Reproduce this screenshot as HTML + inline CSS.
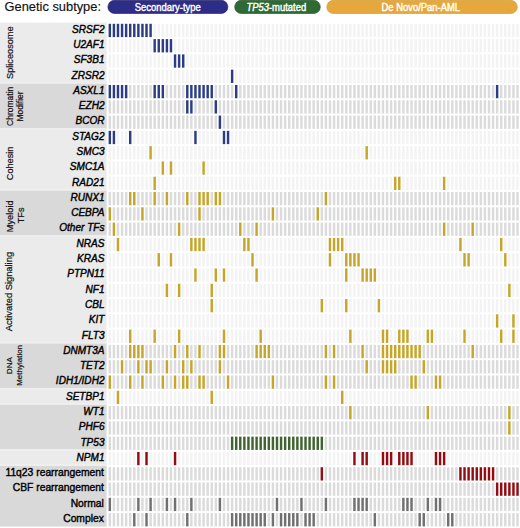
<!DOCTYPE html>
<html><head><meta charset="utf-8"><title>Genetic subtype oncoprint</title>
<style>
html,body{margin:0;padding:0;background:#fff;}
body{width:520px;height:528px;overflow:hidden;}
svg{display:block;font-family:"Liberation Sans",sans-serif;}
.l{fill:#f3f3f3}.d{fill:#dbdbdb}.b{fill:#2c3d85}.y{fill:#c5a52a}.gr{fill:#3f6430}.r{fill:#940c11}.k{fill:#707070}
.g{font-size:10.6px;font-style:italic;fill:#000;stroke:#000;stroke-width:0.42px;}
.n{font-size:10.6px;fill:#000;stroke:#000;stroke-width:0.4px;}
.grp{font-size:9.2px;fill:#111;stroke:#111;stroke-width:0.2px;}
</style></head><body>
<svg width="520" height="528" viewBox="0 0 520 528">
<rect x="0" y="22.6" width="106.6" height="60.57" fill="#ebebeb"/>
<rect x="0" y="83.17" width="106.6" height="45.87" fill="#d9d9d9"/>
<rect x="0" y="129.04" width="106.6" height="61.16" fill="#ebebeb"/>
<rect x="0" y="190.2" width="106.6" height="45.87" fill="#d9d9d9"/>
<rect x="0" y="236.07" width="106.6" height="107.03" fill="#ebebeb"/>
<rect x="0" y="343.1" width="106.6" height="45.87" fill="#d9d9d9"/>
<rect x="0" y="388.97" width="106.6" height="15.29" fill="#ebebeb"/>
<rect x="0" y="404.26" width="106.6" height="45.87" fill="#d9d9d9"/>
<rect x="0" y="450.13" width="106.6" height="15.29" fill="#ebebeb"/>
<rect x="0" y="465.42" width="106.6" height="61.16" fill="#d9d9d9"/>
<rect x="0" y="82.27" width="106.6" height="1.3" fill="#f1f1f1"/>
<rect x="0" y="128.14" width="106.6" height="1.3" fill="#f1f1f1"/>
<rect x="0" y="189.3" width="106.6" height="1.3" fill="#f1f1f1"/>
<rect x="0" y="235.17" width="106.6" height="1.3" fill="#f1f1f1"/>
<rect x="0" y="342.2" width="106.6" height="1.3" fill="#f1f1f1"/>
<rect x="0" y="388.07" width="106.6" height="1.3" fill="#f1f1f1"/>
<rect x="0" y="403.36" width="106.6" height="1.3" fill="#f1f1f1"/>
<rect x="0" y="449.23" width="106.6" height="1.3" fill="#f1f1f1"/>
<rect x="0" y="464.52" width="106.6" height="1.3" fill="#f1f1f1"/>
<text x="4.6" y="10.6" style="font-size:12.85px;fill:#111;stroke:#111;stroke-width:0.15px">Genetic subtype:</text>
<rect x="107.9" y="0.3" width="120" height="13.2" rx="6.6" ry="6.6" fill="#2d2d88" stroke="#1e1e62" stroke-width="0.6"/>
<rect x="234.7" y="0.3" width="85.6" height="13.2" rx="6.6" ry="6.6" fill="#2f6a35" stroke="#1f4a24" stroke-width="0.6"/>
<rect x="326.8" y="0.3" width="190.5" height="13.2" rx="6.6" ry="6.6" fill="#e6a83c" stroke="#cf9530" stroke-width="0.6"/>
<text transform="translate(167.75,10.55) scale(0.925,1)" text-anchor="middle" style="font-size:10.2px;fill:#fff;stroke:#fff;stroke-width:0.4px">Secondary-type</text>
<text transform="translate(276.3,10.55) scale(0.925,1)" text-anchor="middle" style="font-size:10.2px;fill:#fff;stroke:#fff;stroke-width:0.4px"><tspan style="font-style:italic">TP53</tspan>-mutated</text>
<text transform="translate(420.8,10.55) scale(0.925,1)" text-anchor="middle" style="font-size:10.2px;fill:#fff;stroke:#fff;stroke-width:0.4px">De Novo/Pan-AML</text>
<g transform="translate(0,23.8)"><rect x="108.6" width="2.45" height="13.3" class="b"/><rect x="112.68" width="2.45" height="13.3" class="b"/><rect x="116.75" width="2.45" height="13.3" class="b"/><rect x="120.83" width="2.45" height="13.3" class="b"/><rect x="124.91" width="2.45" height="13.3" class="b"/><rect x="128.98" width="2.45" height="13.3" class="b"/><rect x="133.06" width="2.45" height="13.3" class="b"/><rect x="137.14" width="2.45" height="13.3" class="b"/><rect x="141.22" width="2.45" height="13.3" class="b"/><rect x="145.29" width="2.45" height="13.3" class="b"/><rect x="149.37" width="2.45" height="13.3" class="b"/><rect x="153.45" width="2.45" height="13.3" class="l"/><rect x="157.52" width="2.45" height="13.3" class="l"/><rect x="161.6" width="2.45" height="13.3" class="l"/><rect x="165.68" width="2.45" height="13.3" class="l"/><rect x="169.75" width="2.45" height="13.3" class="l"/><rect x="173.83" width="2.45" height="13.3" class="l"/><rect x="177.91" width="2.45" height="13.3" class="l"/><rect x="181.99" width="2.45" height="13.3" class="l"/><rect x="186.06" width="2.45" height="13.3" class="l"/><rect x="190.14" width="2.45" height="13.3" class="l"/><rect x="194.22" width="2.45" height="13.3" class="l"/><rect x="198.29" width="2.45" height="13.3" class="l"/><rect x="202.37" width="2.45" height="13.3" class="l"/><rect x="206.45" width="2.45" height="13.3" class="l"/><rect x="210.52" width="2.45" height="13.3" class="l"/><rect x="214.6" width="2.45" height="13.3" class="l"/><rect x="218.68" width="2.45" height="13.3" class="l"/><rect x="222.76" width="2.45" height="13.3" class="l"/><rect x="226.83" width="2.45" height="13.3" class="l"/><rect x="230.91" width="2.45" height="13.3" class="l"/><rect x="234.99" width="2.45" height="13.3" class="l"/><rect x="239.06" width="2.45" height="13.3" class="l"/><rect x="243.14" width="2.45" height="13.3" class="l"/><rect x="247.22" width="2.45" height="13.3" class="l"/><rect x="251.29" width="2.45" height="13.3" class="l"/><rect x="255.37" width="2.45" height="13.3" class="l"/><rect x="259.45" width="2.45" height="13.3" class="l"/><rect x="263.53" width="2.45" height="13.3" class="l"/><rect x="267.6" width="2.45" height="13.3" class="l"/><rect x="271.68" width="2.45" height="13.3" class="l"/><rect x="275.76" width="2.45" height="13.3" class="l"/><rect x="279.83" width="2.45" height="13.3" class="l"/><rect x="283.91" width="2.45" height="13.3" class="l"/><rect x="287.99" width="2.45" height="13.3" class="l"/><rect x="292.06" width="2.45" height="13.3" class="l"/><rect x="296.14" width="2.45" height="13.3" class="l"/><rect x="300.22" width="2.45" height="13.3" class="l"/><rect x="304.3" width="2.45" height="13.3" class="l"/><rect x="308.37" width="2.45" height="13.3" class="l"/><rect x="312.45" width="2.45" height="13.3" class="l"/><rect x="316.53" width="2.45" height="13.3" class="l"/><rect x="320.6" width="2.45" height="13.3" class="l"/><rect x="324.68" width="2.45" height="13.3" class="l"/><rect x="328.76" width="2.45" height="13.3" class="l"/><rect x="332.83" width="2.45" height="13.3" class="l"/><rect x="336.91" width="2.45" height="13.3" class="l"/><rect x="340.99" width="2.45" height="13.3" class="l"/><rect x="345.07" width="2.45" height="13.3" class="l"/><rect x="349.14" width="2.45" height="13.3" class="l"/><rect x="353.22" width="2.45" height="13.3" class="l"/><rect x="357.3" width="2.45" height="13.3" class="l"/><rect x="361.37" width="2.45" height="13.3" class="l"/><rect x="365.45" width="2.45" height="13.3" class="l"/><rect x="369.53" width="2.45" height="13.3" class="l"/><rect x="373.61" width="2.45" height="13.3" class="l"/><rect x="377.68" width="2.45" height="13.3" class="l"/><rect x="381.76" width="2.45" height="13.3" class="l"/><rect x="385.84" width="2.45" height="13.3" class="l"/><rect x="389.91" width="2.45" height="13.3" class="l"/><rect x="393.99" width="2.45" height="13.3" class="l"/><rect x="398.07" width="2.45" height="13.3" class="l"/><rect x="402.14" width="2.45" height="13.3" class="l"/><rect x="406.22" width="2.45" height="13.3" class="l"/><rect x="410.3" width="2.45" height="13.3" class="l"/><rect x="414.38" width="2.45" height="13.3" class="l"/><rect x="418.45" width="2.45" height="13.3" class="l"/><rect x="422.53" width="2.45" height="13.3" class="l"/><rect x="426.61" width="2.45" height="13.3" class="l"/><rect x="430.68" width="2.45" height="13.3" class="l"/><rect x="434.76" width="2.45" height="13.3" class="l"/><rect x="438.84" width="2.45" height="13.3" class="l"/><rect x="442.91" width="2.45" height="13.3" class="l"/><rect x="446.99" width="2.45" height="13.3" class="l"/><rect x="451.07" width="2.45" height="13.3" class="l"/><rect x="455.14" width="2.45" height="13.3" class="l"/><rect x="459.22" width="2.45" height="13.3" class="l"/><rect x="463.3" width="2.45" height="13.3" class="l"/><rect x="467.38" width="2.45" height="13.3" class="l"/><rect x="471.45" width="2.45" height="13.3" class="l"/><rect x="475.53" width="2.45" height="13.3" class="l"/><rect x="479.61" width="2.45" height="13.3" class="l"/><rect x="483.68" width="2.45" height="13.3" class="l"/><rect x="487.76" width="2.45" height="13.3" class="l"/><rect x="491.84" width="2.45" height="13.3" class="l"/><rect x="495.91" width="2.45" height="13.3" class="l"/><rect x="499.99" width="2.45" height="13.3" class="l"/><rect x="504.07" width="2.45" height="13.3" class="l"/><rect x="508.15" width="2.45" height="13.3" class="l"/><rect x="512.22" width="2.45" height="13.3" class="l"/><rect x="516.3" width="2.45" height="13.3" class="l"/></g>
<text class="g" transform="translate(104.5,32.7) scale(0.95,1)" text-anchor="end">SRSF2</text>
<g transform="translate(0,39.09)"><rect x="108.6" width="2.45" height="13.3" class="l"/><rect x="112.68" width="2.45" height="13.3" class="l"/><rect x="116.75" width="2.45" height="13.3" class="l"/><rect x="120.83" width="2.45" height="13.3" class="l"/><rect x="124.91" width="2.45" height="13.3" class="l"/><rect x="128.98" width="2.45" height="13.3" class="l"/><rect x="133.06" width="2.45" height="13.3" class="l"/><rect x="137.14" width="2.45" height="13.3" class="l"/><rect x="141.22" width="2.45" height="13.3" class="l"/><rect x="145.29" width="2.45" height="13.3" class="l"/><rect x="149.37" width="2.45" height="13.3" class="l"/><rect x="153.45" width="2.45" height="13.3" class="b"/><rect x="157.52" width="2.45" height="13.3" class="b"/><rect x="161.6" width="2.45" height="13.3" class="b"/><rect x="165.68" width="2.45" height="13.3" class="b"/><rect x="169.75" width="2.45" height="13.3" class="b"/><rect x="173.83" width="2.45" height="13.3" class="l"/><rect x="177.91" width="2.45" height="13.3" class="l"/><rect x="181.99" width="2.45" height="13.3" class="l"/><rect x="186.06" width="2.45" height="13.3" class="l"/><rect x="190.14" width="2.45" height="13.3" class="l"/><rect x="194.22" width="2.45" height="13.3" class="l"/><rect x="198.29" width="2.45" height="13.3" class="l"/><rect x="202.37" width="2.45" height="13.3" class="l"/><rect x="206.45" width="2.45" height="13.3" class="l"/><rect x="210.52" width="2.45" height="13.3" class="l"/><rect x="214.6" width="2.45" height="13.3" class="l"/><rect x="218.68" width="2.45" height="13.3" class="l"/><rect x="222.76" width="2.45" height="13.3" class="l"/><rect x="226.83" width="2.45" height="13.3" class="l"/><rect x="230.91" width="2.45" height="13.3" class="l"/><rect x="234.99" width="2.45" height="13.3" class="l"/><rect x="239.06" width="2.45" height="13.3" class="l"/><rect x="243.14" width="2.45" height="13.3" class="l"/><rect x="247.22" width="2.45" height="13.3" class="l"/><rect x="251.29" width="2.45" height="13.3" class="l"/><rect x="255.37" width="2.45" height="13.3" class="l"/><rect x="259.45" width="2.45" height="13.3" class="l"/><rect x="263.53" width="2.45" height="13.3" class="l"/><rect x="267.6" width="2.45" height="13.3" class="l"/><rect x="271.68" width="2.45" height="13.3" class="l"/><rect x="275.76" width="2.45" height="13.3" class="l"/><rect x="279.83" width="2.45" height="13.3" class="l"/><rect x="283.91" width="2.45" height="13.3" class="l"/><rect x="287.99" width="2.45" height="13.3" class="l"/><rect x="292.06" width="2.45" height="13.3" class="l"/><rect x="296.14" width="2.45" height="13.3" class="l"/><rect x="300.22" width="2.45" height="13.3" class="l"/><rect x="304.3" width="2.45" height="13.3" class="l"/><rect x="308.37" width="2.45" height="13.3" class="l"/><rect x="312.45" width="2.45" height="13.3" class="l"/><rect x="316.53" width="2.45" height="13.3" class="l"/><rect x="320.6" width="2.45" height="13.3" class="l"/><rect x="324.68" width="2.45" height="13.3" class="l"/><rect x="328.76" width="2.45" height="13.3" class="l"/><rect x="332.83" width="2.45" height="13.3" class="l"/><rect x="336.91" width="2.45" height="13.3" class="l"/><rect x="340.99" width="2.45" height="13.3" class="l"/><rect x="345.07" width="2.45" height="13.3" class="l"/><rect x="349.14" width="2.45" height="13.3" class="l"/><rect x="353.22" width="2.45" height="13.3" class="l"/><rect x="357.3" width="2.45" height="13.3" class="l"/><rect x="361.37" width="2.45" height="13.3" class="l"/><rect x="365.45" width="2.45" height="13.3" class="l"/><rect x="369.53" width="2.45" height="13.3" class="l"/><rect x="373.61" width="2.45" height="13.3" class="l"/><rect x="377.68" width="2.45" height="13.3" class="l"/><rect x="381.76" width="2.45" height="13.3" class="l"/><rect x="385.84" width="2.45" height="13.3" class="l"/><rect x="389.91" width="2.45" height="13.3" class="l"/><rect x="393.99" width="2.45" height="13.3" class="l"/><rect x="398.07" width="2.45" height="13.3" class="l"/><rect x="402.14" width="2.45" height="13.3" class="l"/><rect x="406.22" width="2.45" height="13.3" class="l"/><rect x="410.3" width="2.45" height="13.3" class="l"/><rect x="414.38" width="2.45" height="13.3" class="l"/><rect x="418.45" width="2.45" height="13.3" class="l"/><rect x="422.53" width="2.45" height="13.3" class="l"/><rect x="426.61" width="2.45" height="13.3" class="l"/><rect x="430.68" width="2.45" height="13.3" class="l"/><rect x="434.76" width="2.45" height="13.3" class="l"/><rect x="438.84" width="2.45" height="13.3" class="l"/><rect x="442.91" width="2.45" height="13.3" class="l"/><rect x="446.99" width="2.45" height="13.3" class="l"/><rect x="451.07" width="2.45" height="13.3" class="l"/><rect x="455.14" width="2.45" height="13.3" class="l"/><rect x="459.22" width="2.45" height="13.3" class="l"/><rect x="463.3" width="2.45" height="13.3" class="l"/><rect x="467.38" width="2.45" height="13.3" class="l"/><rect x="471.45" width="2.45" height="13.3" class="l"/><rect x="475.53" width="2.45" height="13.3" class="l"/><rect x="479.61" width="2.45" height="13.3" class="l"/><rect x="483.68" width="2.45" height="13.3" class="l"/><rect x="487.76" width="2.45" height="13.3" class="l"/><rect x="491.84" width="2.45" height="13.3" class="l"/><rect x="495.91" width="2.45" height="13.3" class="l"/><rect x="499.99" width="2.45" height="13.3" class="l"/><rect x="504.07" width="2.45" height="13.3" class="l"/><rect x="508.15" width="2.45" height="13.3" class="l"/><rect x="512.22" width="2.45" height="13.3" class="l"/><rect x="516.3" width="2.45" height="13.3" class="l"/></g>
<text class="g" transform="translate(104.5,47.99) scale(0.95,1)" text-anchor="end">U2AF1</text>
<g transform="translate(0,54.38)"><rect x="108.6" width="2.45" height="13.3" class="l"/><rect x="112.68" width="2.45" height="13.3" class="l"/><rect x="116.75" width="2.45" height="13.3" class="l"/><rect x="120.83" width="2.45" height="13.3" class="l"/><rect x="124.91" width="2.45" height="13.3" class="l"/><rect x="128.98" width="2.45" height="13.3" class="l"/><rect x="133.06" width="2.45" height="13.3" class="l"/><rect x="137.14" width="2.45" height="13.3" class="l"/><rect x="141.22" width="2.45" height="13.3" class="l"/><rect x="145.29" width="2.45" height="13.3" class="l"/><rect x="149.37" width="2.45" height="13.3" class="l"/><rect x="153.45" width="2.45" height="13.3" class="l"/><rect x="157.52" width="2.45" height="13.3" class="l"/><rect x="161.6" width="2.45" height="13.3" class="l"/><rect x="165.68" width="2.45" height="13.3" class="l"/><rect x="169.75" width="2.45" height="13.3" class="l"/><rect x="173.83" width="2.45" height="13.3" class="b"/><rect x="177.91" width="2.45" height="13.3" class="b"/><rect x="181.99" width="2.45" height="13.3" class="b"/><rect x="186.06" width="2.45" height="13.3" class="l"/><rect x="190.14" width="2.45" height="13.3" class="l"/><rect x="194.22" width="2.45" height="13.3" class="l"/><rect x="198.29" width="2.45" height="13.3" class="l"/><rect x="202.37" width="2.45" height="13.3" class="l"/><rect x="206.45" width="2.45" height="13.3" class="l"/><rect x="210.52" width="2.45" height="13.3" class="l"/><rect x="214.6" width="2.45" height="13.3" class="l"/><rect x="218.68" width="2.45" height="13.3" class="l"/><rect x="222.76" width="2.45" height="13.3" class="l"/><rect x="226.83" width="2.45" height="13.3" class="l"/><rect x="230.91" width="2.45" height="13.3" class="l"/><rect x="234.99" width="2.45" height="13.3" class="l"/><rect x="239.06" width="2.45" height="13.3" class="l"/><rect x="243.14" width="2.45" height="13.3" class="l"/><rect x="247.22" width="2.45" height="13.3" class="l"/><rect x="251.29" width="2.45" height="13.3" class="l"/><rect x="255.37" width="2.45" height="13.3" class="l"/><rect x="259.45" width="2.45" height="13.3" class="l"/><rect x="263.53" width="2.45" height="13.3" class="l"/><rect x="267.6" width="2.45" height="13.3" class="l"/><rect x="271.68" width="2.45" height="13.3" class="l"/><rect x="275.76" width="2.45" height="13.3" class="l"/><rect x="279.83" width="2.45" height="13.3" class="l"/><rect x="283.91" width="2.45" height="13.3" class="l"/><rect x="287.99" width="2.45" height="13.3" class="l"/><rect x="292.06" width="2.45" height="13.3" class="l"/><rect x="296.14" width="2.45" height="13.3" class="l"/><rect x="300.22" width="2.45" height="13.3" class="l"/><rect x="304.3" width="2.45" height="13.3" class="l"/><rect x="308.37" width="2.45" height="13.3" class="l"/><rect x="312.45" width="2.45" height="13.3" class="l"/><rect x="316.53" width="2.45" height="13.3" class="l"/><rect x="320.6" width="2.45" height="13.3" class="l"/><rect x="324.68" width="2.45" height="13.3" class="l"/><rect x="328.76" width="2.45" height="13.3" class="l"/><rect x="332.83" width="2.45" height="13.3" class="l"/><rect x="336.91" width="2.45" height="13.3" class="l"/><rect x="340.99" width="2.45" height="13.3" class="l"/><rect x="345.07" width="2.45" height="13.3" class="l"/><rect x="349.14" width="2.45" height="13.3" class="l"/><rect x="353.22" width="2.45" height="13.3" class="l"/><rect x="357.3" width="2.45" height="13.3" class="l"/><rect x="361.37" width="2.45" height="13.3" class="l"/><rect x="365.45" width="2.45" height="13.3" class="l"/><rect x="369.53" width="2.45" height="13.3" class="l"/><rect x="373.61" width="2.45" height="13.3" class="l"/><rect x="377.68" width="2.45" height="13.3" class="l"/><rect x="381.76" width="2.45" height="13.3" class="l"/><rect x="385.84" width="2.45" height="13.3" class="l"/><rect x="389.91" width="2.45" height="13.3" class="l"/><rect x="393.99" width="2.45" height="13.3" class="l"/><rect x="398.07" width="2.45" height="13.3" class="l"/><rect x="402.14" width="2.45" height="13.3" class="l"/><rect x="406.22" width="2.45" height="13.3" class="l"/><rect x="410.3" width="2.45" height="13.3" class="l"/><rect x="414.38" width="2.45" height="13.3" class="l"/><rect x="418.45" width="2.45" height="13.3" class="l"/><rect x="422.53" width="2.45" height="13.3" class="l"/><rect x="426.61" width="2.45" height="13.3" class="l"/><rect x="430.68" width="2.45" height="13.3" class="l"/><rect x="434.76" width="2.45" height="13.3" class="l"/><rect x="438.84" width="2.45" height="13.3" class="l"/><rect x="442.91" width="2.45" height="13.3" class="l"/><rect x="446.99" width="2.45" height="13.3" class="l"/><rect x="451.07" width="2.45" height="13.3" class="l"/><rect x="455.14" width="2.45" height="13.3" class="l"/><rect x="459.22" width="2.45" height="13.3" class="l"/><rect x="463.3" width="2.45" height="13.3" class="l"/><rect x="467.38" width="2.45" height="13.3" class="l"/><rect x="471.45" width="2.45" height="13.3" class="l"/><rect x="475.53" width="2.45" height="13.3" class="l"/><rect x="479.61" width="2.45" height="13.3" class="l"/><rect x="483.68" width="2.45" height="13.3" class="l"/><rect x="487.76" width="2.45" height="13.3" class="l"/><rect x="491.84" width="2.45" height="13.3" class="l"/><rect x="495.91" width="2.45" height="13.3" class="l"/><rect x="499.99" width="2.45" height="13.3" class="l"/><rect x="504.07" width="2.45" height="13.3" class="l"/><rect x="508.15" width="2.45" height="13.3" class="l"/><rect x="512.22" width="2.45" height="13.3" class="l"/><rect x="516.3" width="2.45" height="13.3" class="l"/></g>
<text class="g" transform="translate(104.5,63.28) scale(0.95,1)" text-anchor="end">SF3B1</text>
<g transform="translate(0,69.67)"><rect x="108.6" width="2.45" height="13.3" class="l"/><rect x="112.68" width="2.45" height="13.3" class="l"/><rect x="116.75" width="2.45" height="13.3" class="l"/><rect x="120.83" width="2.45" height="13.3" class="l"/><rect x="124.91" width="2.45" height="13.3" class="l"/><rect x="128.98" width="2.45" height="13.3" class="l"/><rect x="133.06" width="2.45" height="13.3" class="l"/><rect x="137.14" width="2.45" height="13.3" class="l"/><rect x="141.22" width="2.45" height="13.3" class="l"/><rect x="145.29" width="2.45" height="13.3" class="l"/><rect x="149.37" width="2.45" height="13.3" class="l"/><rect x="153.45" width="2.45" height="13.3" class="l"/><rect x="157.52" width="2.45" height="13.3" class="l"/><rect x="161.6" width="2.45" height="13.3" class="l"/><rect x="165.68" width="2.45" height="13.3" class="l"/><rect x="169.75" width="2.45" height="13.3" class="l"/><rect x="173.83" width="2.45" height="13.3" class="l"/><rect x="177.91" width="2.45" height="13.3" class="l"/><rect x="181.99" width="2.45" height="13.3" class="l"/><rect x="186.06" width="2.45" height="13.3" class="l"/><rect x="190.14" width="2.45" height="13.3" class="l"/><rect x="194.22" width="2.45" height="13.3" class="l"/><rect x="198.29" width="2.45" height="13.3" class="l"/><rect x="202.37" width="2.45" height="13.3" class="l"/><rect x="206.45" width="2.45" height="13.3" class="l"/><rect x="210.52" width="2.45" height="13.3" class="l"/><rect x="214.6" width="2.45" height="13.3" class="l"/><rect x="218.68" width="2.45" height="13.3" class="l"/><rect x="222.76" width="2.45" height="13.3" class="l"/><rect x="226.83" width="2.45" height="13.3" class="l"/><rect x="230.91" width="2.45" height="13.3" class="b"/><rect x="234.99" width="2.45" height="13.3" class="l"/><rect x="239.06" width="2.45" height="13.3" class="l"/><rect x="243.14" width="2.45" height="13.3" class="l"/><rect x="247.22" width="2.45" height="13.3" class="l"/><rect x="251.29" width="2.45" height="13.3" class="l"/><rect x="255.37" width="2.45" height="13.3" class="l"/><rect x="259.45" width="2.45" height="13.3" class="l"/><rect x="263.53" width="2.45" height="13.3" class="l"/><rect x="267.6" width="2.45" height="13.3" class="l"/><rect x="271.68" width="2.45" height="13.3" class="l"/><rect x="275.76" width="2.45" height="13.3" class="l"/><rect x="279.83" width="2.45" height="13.3" class="l"/><rect x="283.91" width="2.45" height="13.3" class="l"/><rect x="287.99" width="2.45" height="13.3" class="l"/><rect x="292.06" width="2.45" height="13.3" class="l"/><rect x="296.14" width="2.45" height="13.3" class="l"/><rect x="300.22" width="2.45" height="13.3" class="l"/><rect x="304.3" width="2.45" height="13.3" class="l"/><rect x="308.37" width="2.45" height="13.3" class="l"/><rect x="312.45" width="2.45" height="13.3" class="l"/><rect x="316.53" width="2.45" height="13.3" class="l"/><rect x="320.6" width="2.45" height="13.3" class="l"/><rect x="324.68" width="2.45" height="13.3" class="l"/><rect x="328.76" width="2.45" height="13.3" class="l"/><rect x="332.83" width="2.45" height="13.3" class="l"/><rect x="336.91" width="2.45" height="13.3" class="l"/><rect x="340.99" width="2.45" height="13.3" class="l"/><rect x="345.07" width="2.45" height="13.3" class="l"/><rect x="349.14" width="2.45" height="13.3" class="l"/><rect x="353.22" width="2.45" height="13.3" class="l"/><rect x="357.3" width="2.45" height="13.3" class="l"/><rect x="361.37" width="2.45" height="13.3" class="l"/><rect x="365.45" width="2.45" height="13.3" class="l"/><rect x="369.53" width="2.45" height="13.3" class="l"/><rect x="373.61" width="2.45" height="13.3" class="l"/><rect x="377.68" width="2.45" height="13.3" class="l"/><rect x="381.76" width="2.45" height="13.3" class="l"/><rect x="385.84" width="2.45" height="13.3" class="l"/><rect x="389.91" width="2.45" height="13.3" class="l"/><rect x="393.99" width="2.45" height="13.3" class="l"/><rect x="398.07" width="2.45" height="13.3" class="l"/><rect x="402.14" width="2.45" height="13.3" class="l"/><rect x="406.22" width="2.45" height="13.3" class="l"/><rect x="410.3" width="2.45" height="13.3" class="l"/><rect x="414.38" width="2.45" height="13.3" class="l"/><rect x="418.45" width="2.45" height="13.3" class="l"/><rect x="422.53" width="2.45" height="13.3" class="l"/><rect x="426.61" width="2.45" height="13.3" class="l"/><rect x="430.68" width="2.45" height="13.3" class="l"/><rect x="434.76" width="2.45" height="13.3" class="l"/><rect x="438.84" width="2.45" height="13.3" class="l"/><rect x="442.91" width="2.45" height="13.3" class="l"/><rect x="446.99" width="2.45" height="13.3" class="l"/><rect x="451.07" width="2.45" height="13.3" class="l"/><rect x="455.14" width="2.45" height="13.3" class="l"/><rect x="459.22" width="2.45" height="13.3" class="l"/><rect x="463.3" width="2.45" height="13.3" class="l"/><rect x="467.38" width="2.45" height="13.3" class="l"/><rect x="471.45" width="2.45" height="13.3" class="l"/><rect x="475.53" width="2.45" height="13.3" class="l"/><rect x="479.61" width="2.45" height="13.3" class="l"/><rect x="483.68" width="2.45" height="13.3" class="l"/><rect x="487.76" width="2.45" height="13.3" class="l"/><rect x="491.84" width="2.45" height="13.3" class="l"/><rect x="495.91" width="2.45" height="13.3" class="l"/><rect x="499.99" width="2.45" height="13.3" class="l"/><rect x="504.07" width="2.45" height="13.3" class="l"/><rect x="508.15" width="2.45" height="13.3" class="l"/><rect x="512.22" width="2.45" height="13.3" class="l"/><rect x="516.3" width="2.45" height="13.3" class="l"/></g>
<text class="g" transform="translate(104.5,78.57) scale(0.95,1)" text-anchor="end">ZRSR2</text>
<g transform="translate(0,84.96)"><rect x="108.6" width="2.45" height="13.3" class="b"/><rect x="112.68" width="2.45" height="13.3" class="b"/><rect x="116.75" width="2.45" height="13.3" class="b"/><rect x="120.83" width="2.45" height="13.3" class="b"/><rect x="124.91" width="2.45" height="13.3" class="b"/><rect x="128.98" width="2.45" height="13.3" class="d"/><rect x="133.06" width="2.45" height="13.3" class="d"/><rect x="137.14" width="2.45" height="13.3" class="d"/><rect x="141.22" width="2.45" height="13.3" class="d"/><rect x="145.29" width="2.45" height="13.3" class="d"/><rect x="149.37" width="2.45" height="13.3" class="d"/><rect x="153.45" width="2.45" height="13.3" class="b"/><rect x="157.52" width="2.45" height="13.3" class="b"/><rect x="161.6" width="2.45" height="13.3" class="b"/><rect x="165.68" width="2.45" height="13.3" class="d"/><rect x="169.75" width="2.45" height="13.3" class="d"/><rect x="173.83" width="2.45" height="13.3" class="d"/><rect x="177.91" width="2.45" height="13.3" class="d"/><rect x="181.99" width="2.45" height="13.3" class="d"/><rect x="186.06" width="2.45" height="13.3" class="b"/><rect x="190.14" width="2.45" height="13.3" class="b"/><rect x="194.22" width="2.45" height="13.3" class="b"/><rect x="198.29" width="2.45" height="13.3" class="b"/><rect x="202.37" width="2.45" height="13.3" class="b"/><rect x="206.45" width="2.45" height="13.3" class="b"/><rect x="210.52" width="2.45" height="13.3" class="b"/><rect x="214.6" width="2.45" height="13.3" class="d"/><rect x="218.68" width="2.45" height="13.3" class="d"/><rect x="222.76" width="2.45" height="13.3" class="d"/><rect x="226.83" width="2.45" height="13.3" class="d"/><rect x="230.91" width="2.45" height="13.3" class="d"/><rect x="234.99" width="2.45" height="13.3" class="b"/><rect x="239.06" width="2.45" height="13.3" class="d"/><rect x="243.14" width="2.45" height="13.3" class="d"/><rect x="247.22" width="2.45" height="13.3" class="d"/><rect x="251.29" width="2.45" height="13.3" class="d"/><rect x="255.37" width="2.45" height="13.3" class="d"/><rect x="259.45" width="2.45" height="13.3" class="d"/><rect x="263.53" width="2.45" height="13.3" class="d"/><rect x="267.6" width="2.45" height="13.3" class="d"/><rect x="271.68" width="2.45" height="13.3" class="d"/><rect x="275.76" width="2.45" height="13.3" class="d"/><rect x="279.83" width="2.45" height="13.3" class="d"/><rect x="283.91" width="2.45" height="13.3" class="d"/><rect x="287.99" width="2.45" height="13.3" class="d"/><rect x="292.06" width="2.45" height="13.3" class="d"/><rect x="296.14" width="2.45" height="13.3" class="d"/><rect x="300.22" width="2.45" height="13.3" class="d"/><rect x="304.3" width="2.45" height="13.3" class="d"/><rect x="308.37" width="2.45" height="13.3" class="d"/><rect x="312.45" width="2.45" height="13.3" class="d"/><rect x="316.53" width="2.45" height="13.3" class="d"/><rect x="320.6" width="2.45" height="13.3" class="d"/><rect x="324.68" width="2.45" height="13.3" class="d"/><rect x="328.76" width="2.45" height="13.3" class="d"/><rect x="332.83" width="2.45" height="13.3" class="d"/><rect x="336.91" width="2.45" height="13.3" class="d"/><rect x="340.99" width="2.45" height="13.3" class="d"/><rect x="345.07" width="2.45" height="13.3" class="d"/><rect x="349.14" width="2.45" height="13.3" class="d"/><rect x="353.22" width="2.45" height="13.3" class="d"/><rect x="357.3" width="2.45" height="13.3" class="d"/><rect x="361.37" width="2.45" height="13.3" class="d"/><rect x="365.45" width="2.45" height="13.3" class="d"/><rect x="369.53" width="2.45" height="13.3" class="d"/><rect x="373.61" width="2.45" height="13.3" class="d"/><rect x="377.68" width="2.45" height="13.3" class="d"/><rect x="381.76" width="2.45" height="13.3" class="d"/><rect x="385.84" width="2.45" height="13.3" class="d"/><rect x="389.91" width="2.45" height="13.3" class="d"/><rect x="393.99" width="2.45" height="13.3" class="d"/><rect x="398.07" width="2.45" height="13.3" class="d"/><rect x="402.14" width="2.45" height="13.3" class="d"/><rect x="406.22" width="2.45" height="13.3" class="d"/><rect x="410.3" width="2.45" height="13.3" class="d"/><rect x="414.38" width="2.45" height="13.3" class="d"/><rect x="418.45" width="2.45" height="13.3" class="d"/><rect x="422.53" width="2.45" height="13.3" class="d"/><rect x="426.61" width="2.45" height="13.3" class="d"/><rect x="430.68" width="2.45" height="13.3" class="d"/><rect x="434.76" width="2.45" height="13.3" class="d"/><rect x="438.84" width="2.45" height="13.3" class="d"/><rect x="442.91" width="2.45" height="13.3" class="d"/><rect x="446.99" width="2.45" height="13.3" class="d"/><rect x="451.07" width="2.45" height="13.3" class="d"/><rect x="455.14" width="2.45" height="13.3" class="d"/><rect x="459.22" width="2.45" height="13.3" class="d"/><rect x="463.3" width="2.45" height="13.3" class="d"/><rect x="467.38" width="2.45" height="13.3" class="d"/><rect x="471.45" width="2.45" height="13.3" class="d"/><rect x="475.53" width="2.45" height="13.3" class="d"/><rect x="479.61" width="2.45" height="13.3" class="d"/><rect x="483.68" width="2.45" height="13.3" class="d"/><rect x="487.76" width="2.45" height="13.3" class="d"/><rect x="491.84" width="2.45" height="13.3" class="d"/><rect x="495.91" width="2.45" height="13.3" class="b"/><rect x="499.99" width="2.45" height="13.3" class="d"/><rect x="504.07" width="2.45" height="13.3" class="d"/><rect x="508.15" width="2.45" height="13.3" class="d"/><rect x="512.22" width="2.45" height="13.3" class="d"/><rect x="516.3" width="2.45" height="13.3" class="d"/></g>
<text class="g" transform="translate(104.5,93.86) scale(0.95,1)" text-anchor="end">ASXL1</text>
<g transform="translate(0,100.25)"><rect x="108.6" width="2.45" height="13.3" class="d"/><rect x="112.68" width="2.45" height="13.3" class="d"/><rect x="116.75" width="2.45" height="13.3" class="d"/><rect x="120.83" width="2.45" height="13.3" class="d"/><rect x="124.91" width="2.45" height="13.3" class="d"/><rect x="128.98" width="2.45" height="13.3" class="d"/><rect x="133.06" width="2.45" height="13.3" class="d"/><rect x="137.14" width="2.45" height="13.3" class="d"/><rect x="141.22" width="2.45" height="13.3" class="d"/><rect x="145.29" width="2.45" height="13.3" class="d"/><rect x="149.37" width="2.45" height="13.3" class="d"/><rect x="153.45" width="2.45" height="13.3" class="d"/><rect x="157.52" width="2.45" height="13.3" class="d"/><rect x="161.6" width="2.45" height="13.3" class="d"/><rect x="165.68" width="2.45" height="13.3" class="d"/><rect x="169.75" width="2.45" height="13.3" class="d"/><rect x="173.83" width="2.45" height="13.3" class="d"/><rect x="177.91" width="2.45" height="13.3" class="d"/><rect x="181.99" width="2.45" height="13.3" class="d"/><rect x="186.06" width="2.45" height="13.3" class="b"/><rect x="190.14" width="2.45" height="13.3" class="b"/><rect x="194.22" width="2.45" height="13.3" class="d"/><rect x="198.29" width="2.45" height="13.3" class="d"/><rect x="202.37" width="2.45" height="13.3" class="d"/><rect x="206.45" width="2.45" height="13.3" class="d"/><rect x="210.52" width="2.45" height="13.3" class="d"/><rect x="214.6" width="2.45" height="13.3" class="b"/><rect x="218.68" width="2.45" height="13.3" class="d"/><rect x="222.76" width="2.45" height="13.3" class="d"/><rect x="226.83" width="2.45" height="13.3" class="d"/><rect x="230.91" width="2.45" height="13.3" class="d"/><rect x="234.99" width="2.45" height="13.3" class="d"/><rect x="239.06" width="2.45" height="13.3" class="d"/><rect x="243.14" width="2.45" height="13.3" class="d"/><rect x="247.22" width="2.45" height="13.3" class="d"/><rect x="251.29" width="2.45" height="13.3" class="d"/><rect x="255.37" width="2.45" height="13.3" class="d"/><rect x="259.45" width="2.45" height="13.3" class="d"/><rect x="263.53" width="2.45" height="13.3" class="d"/><rect x="267.6" width="2.45" height="13.3" class="d"/><rect x="271.68" width="2.45" height="13.3" class="d"/><rect x="275.76" width="2.45" height="13.3" class="d"/><rect x="279.83" width="2.45" height="13.3" class="d"/><rect x="283.91" width="2.45" height="13.3" class="d"/><rect x="287.99" width="2.45" height="13.3" class="d"/><rect x="292.06" width="2.45" height="13.3" class="d"/><rect x="296.14" width="2.45" height="13.3" class="d"/><rect x="300.22" width="2.45" height="13.3" class="d"/><rect x="304.3" width="2.45" height="13.3" class="d"/><rect x="308.37" width="2.45" height="13.3" class="d"/><rect x="312.45" width="2.45" height="13.3" class="d"/><rect x="316.53" width="2.45" height="13.3" class="d"/><rect x="320.6" width="2.45" height="13.3" class="d"/><rect x="324.68" width="2.45" height="13.3" class="d"/><rect x="328.76" width="2.45" height="13.3" class="d"/><rect x="332.83" width="2.45" height="13.3" class="d"/><rect x="336.91" width="2.45" height="13.3" class="d"/><rect x="340.99" width="2.45" height="13.3" class="d"/><rect x="345.07" width="2.45" height="13.3" class="d"/><rect x="349.14" width="2.45" height="13.3" class="d"/><rect x="353.22" width="2.45" height="13.3" class="d"/><rect x="357.3" width="2.45" height="13.3" class="d"/><rect x="361.37" width="2.45" height="13.3" class="d"/><rect x="365.45" width="2.45" height="13.3" class="d"/><rect x="369.53" width="2.45" height="13.3" class="d"/><rect x="373.61" width="2.45" height="13.3" class="d"/><rect x="377.68" width="2.45" height="13.3" class="d"/><rect x="381.76" width="2.45" height="13.3" class="d"/><rect x="385.84" width="2.45" height="13.3" class="d"/><rect x="389.91" width="2.45" height="13.3" class="d"/><rect x="393.99" width="2.45" height="13.3" class="d"/><rect x="398.07" width="2.45" height="13.3" class="d"/><rect x="402.14" width="2.45" height="13.3" class="d"/><rect x="406.22" width="2.45" height="13.3" class="d"/><rect x="410.3" width="2.45" height="13.3" class="d"/><rect x="414.38" width="2.45" height="13.3" class="d"/><rect x="418.45" width="2.45" height="13.3" class="d"/><rect x="422.53" width="2.45" height="13.3" class="d"/><rect x="426.61" width="2.45" height="13.3" class="d"/><rect x="430.68" width="2.45" height="13.3" class="d"/><rect x="434.76" width="2.45" height="13.3" class="d"/><rect x="438.84" width="2.45" height="13.3" class="d"/><rect x="442.91" width="2.45" height="13.3" class="d"/><rect x="446.99" width="2.45" height="13.3" class="d"/><rect x="451.07" width="2.45" height="13.3" class="d"/><rect x="455.14" width="2.45" height="13.3" class="d"/><rect x="459.22" width="2.45" height="13.3" class="d"/><rect x="463.3" width="2.45" height="13.3" class="d"/><rect x="467.38" width="2.45" height="13.3" class="d"/><rect x="471.45" width="2.45" height="13.3" class="d"/><rect x="475.53" width="2.45" height="13.3" class="d"/><rect x="479.61" width="2.45" height="13.3" class="d"/><rect x="483.68" width="2.45" height="13.3" class="d"/><rect x="487.76" width="2.45" height="13.3" class="d"/><rect x="491.84" width="2.45" height="13.3" class="d"/><rect x="495.91" width="2.45" height="13.3" class="d"/><rect x="499.99" width="2.45" height="13.3" class="d"/><rect x="504.07" width="2.45" height="13.3" class="d"/><rect x="508.15" width="2.45" height="13.3" class="d"/><rect x="512.22" width="2.45" height="13.3" class="d"/><rect x="516.3" width="2.45" height="13.3" class="d"/></g>
<text class="g" transform="translate(104.5,109.15) scale(0.95,1)" text-anchor="end">EZH2</text>
<g transform="translate(0,115.54)"><rect x="108.6" width="2.45" height="13.3" class="d"/><rect x="112.68" width="2.45" height="13.3" class="d"/><rect x="116.75" width="2.45" height="13.3" class="d"/><rect x="120.83" width="2.45" height="13.3" class="d"/><rect x="124.91" width="2.45" height="13.3" class="d"/><rect x="128.98" width="2.45" height="13.3" class="d"/><rect x="133.06" width="2.45" height="13.3" class="d"/><rect x="137.14" width="2.45" height="13.3" class="d"/><rect x="141.22" width="2.45" height="13.3" class="d"/><rect x="145.29" width="2.45" height="13.3" class="d"/><rect x="149.37" width="2.45" height="13.3" class="d"/><rect x="153.45" width="2.45" height="13.3" class="d"/><rect x="157.52" width="2.45" height="13.3" class="d"/><rect x="161.6" width="2.45" height="13.3" class="d"/><rect x="165.68" width="2.45" height="13.3" class="d"/><rect x="169.75" width="2.45" height="13.3" class="d"/><rect x="173.83" width="2.45" height="13.3" class="d"/><rect x="177.91" width="2.45" height="13.3" class="d"/><rect x="181.99" width="2.45" height="13.3" class="d"/><rect x="186.06" width="2.45" height="13.3" class="d"/><rect x="190.14" width="2.45" height="13.3" class="d"/><rect x="194.22" width="2.45" height="13.3" class="d"/><rect x="198.29" width="2.45" height="13.3" class="d"/><rect x="202.37" width="2.45" height="13.3" class="d"/><rect x="206.45" width="2.45" height="13.3" class="d"/><rect x="210.52" width="2.45" height="13.3" class="d"/><rect x="214.6" width="2.45" height="13.3" class="d"/><rect x="218.68" width="2.45" height="13.3" class="b"/><rect x="222.76" width="2.45" height="13.3" class="d"/><rect x="226.83" width="2.45" height="13.3" class="d"/><rect x="230.91" width="2.45" height="13.3" class="d"/><rect x="234.99" width="2.45" height="13.3" class="d"/><rect x="239.06" width="2.45" height="13.3" class="d"/><rect x="243.14" width="2.45" height="13.3" class="d"/><rect x="247.22" width="2.45" height="13.3" class="d"/><rect x="251.29" width="2.45" height="13.3" class="d"/><rect x="255.37" width="2.45" height="13.3" class="d"/><rect x="259.45" width="2.45" height="13.3" class="d"/><rect x="263.53" width="2.45" height="13.3" class="d"/><rect x="267.6" width="2.45" height="13.3" class="d"/><rect x="271.68" width="2.45" height="13.3" class="d"/><rect x="275.76" width="2.45" height="13.3" class="d"/><rect x="279.83" width="2.45" height="13.3" class="d"/><rect x="283.91" width="2.45" height="13.3" class="d"/><rect x="287.99" width="2.45" height="13.3" class="d"/><rect x="292.06" width="2.45" height="13.3" class="d"/><rect x="296.14" width="2.45" height="13.3" class="d"/><rect x="300.22" width="2.45" height="13.3" class="d"/><rect x="304.3" width="2.45" height="13.3" class="d"/><rect x="308.37" width="2.45" height="13.3" class="d"/><rect x="312.45" width="2.45" height="13.3" class="d"/><rect x="316.53" width="2.45" height="13.3" class="d"/><rect x="320.6" width="2.45" height="13.3" class="d"/><rect x="324.68" width="2.45" height="13.3" class="d"/><rect x="328.76" width="2.45" height="13.3" class="d"/><rect x="332.83" width="2.45" height="13.3" class="d"/><rect x="336.91" width="2.45" height="13.3" class="d"/><rect x="340.99" width="2.45" height="13.3" class="d"/><rect x="345.07" width="2.45" height="13.3" class="d"/><rect x="349.14" width="2.45" height="13.3" class="d"/><rect x="353.22" width="2.45" height="13.3" class="d"/><rect x="357.3" width="2.45" height="13.3" class="d"/><rect x="361.37" width="2.45" height="13.3" class="d"/><rect x="365.45" width="2.45" height="13.3" class="d"/><rect x="369.53" width="2.45" height="13.3" class="d"/><rect x="373.61" width="2.45" height="13.3" class="d"/><rect x="377.68" width="2.45" height="13.3" class="d"/><rect x="381.76" width="2.45" height="13.3" class="d"/><rect x="385.84" width="2.45" height="13.3" class="d"/><rect x="389.91" width="2.45" height="13.3" class="d"/><rect x="393.99" width="2.45" height="13.3" class="d"/><rect x="398.07" width="2.45" height="13.3" class="d"/><rect x="402.14" width="2.45" height="13.3" class="d"/><rect x="406.22" width="2.45" height="13.3" class="d"/><rect x="410.3" width="2.45" height="13.3" class="d"/><rect x="414.38" width="2.45" height="13.3" class="d"/><rect x="418.45" width="2.45" height="13.3" class="d"/><rect x="422.53" width="2.45" height="13.3" class="d"/><rect x="426.61" width="2.45" height="13.3" class="d"/><rect x="430.68" width="2.45" height="13.3" class="d"/><rect x="434.76" width="2.45" height="13.3" class="d"/><rect x="438.84" width="2.45" height="13.3" class="d"/><rect x="442.91" width="2.45" height="13.3" class="d"/><rect x="446.99" width="2.45" height="13.3" class="d"/><rect x="451.07" width="2.45" height="13.3" class="d"/><rect x="455.14" width="2.45" height="13.3" class="d"/><rect x="459.22" width="2.45" height="13.3" class="d"/><rect x="463.3" width="2.45" height="13.3" class="d"/><rect x="467.38" width="2.45" height="13.3" class="d"/><rect x="471.45" width="2.45" height="13.3" class="d"/><rect x="475.53" width="2.45" height="13.3" class="d"/><rect x="479.61" width="2.45" height="13.3" class="d"/><rect x="483.68" width="2.45" height="13.3" class="d"/><rect x="487.76" width="2.45" height="13.3" class="d"/><rect x="491.84" width="2.45" height="13.3" class="d"/><rect x="495.91" width="2.45" height="13.3" class="d"/><rect x="499.99" width="2.45" height="13.3" class="d"/><rect x="504.07" width="2.45" height="13.3" class="d"/><rect x="508.15" width="2.45" height="13.3" class="d"/><rect x="512.22" width="2.45" height="13.3" class="d"/><rect x="516.3" width="2.45" height="13.3" class="d"/></g>
<text class="g" transform="translate(104.5,124.44) scale(0.95,1)" text-anchor="end">BCOR</text>
<g transform="translate(0,130.83)"><rect x="108.6" width="2.45" height="13.3" class="b"/><rect x="112.68" width="2.45" height="13.3" class="b"/><rect x="116.75" width="2.45" height="13.3" class="l"/><rect x="120.83" width="2.45" height="13.3" class="l"/><rect x="124.91" width="2.45" height="13.3" class="l"/><rect x="128.98" width="2.45" height="13.3" class="b"/><rect x="133.06" width="2.45" height="13.3" class="l"/><rect x="137.14" width="2.45" height="13.3" class="l"/><rect x="141.22" width="2.45" height="13.3" class="l"/><rect x="145.29" width="2.45" height="13.3" class="l"/><rect x="149.37" width="2.45" height="13.3" class="l"/><rect x="153.45" width="2.45" height="13.3" class="l"/><rect x="157.52" width="2.45" height="13.3" class="l"/><rect x="161.6" width="2.45" height="13.3" class="l"/><rect x="165.68" width="2.45" height="13.3" class="l"/><rect x="169.75" width="2.45" height="13.3" class="l"/><rect x="173.83" width="2.45" height="13.3" class="l"/><rect x="177.91" width="2.45" height="13.3" class="l"/><rect x="181.99" width="2.45" height="13.3" class="l"/><rect x="186.06" width="2.45" height="13.3" class="l"/><rect x="190.14" width="2.45" height="13.3" class="l"/><rect x="194.22" width="2.45" height="13.3" class="b"/><rect x="198.29" width="2.45" height="13.3" class="l"/><rect x="202.37" width="2.45" height="13.3" class="l"/><rect x="206.45" width="2.45" height="13.3" class="l"/><rect x="210.52" width="2.45" height="13.3" class="l"/><rect x="214.6" width="2.45" height="13.3" class="l"/><rect x="218.68" width="2.45" height="13.3" class="l"/><rect x="222.76" width="2.45" height="13.3" class="b"/><rect x="226.83" width="2.45" height="13.3" class="b"/><rect x="230.91" width="2.45" height="13.3" class="l"/><rect x="234.99" width="2.45" height="13.3" class="l"/><rect x="239.06" width="2.45" height="13.3" class="l"/><rect x="243.14" width="2.45" height="13.3" class="l"/><rect x="247.22" width="2.45" height="13.3" class="l"/><rect x="251.29" width="2.45" height="13.3" class="l"/><rect x="255.37" width="2.45" height="13.3" class="l"/><rect x="259.45" width="2.45" height="13.3" class="l"/><rect x="263.53" width="2.45" height="13.3" class="l"/><rect x="267.6" width="2.45" height="13.3" class="l"/><rect x="271.68" width="2.45" height="13.3" class="l"/><rect x="275.76" width="2.45" height="13.3" class="l"/><rect x="279.83" width="2.45" height="13.3" class="l"/><rect x="283.91" width="2.45" height="13.3" class="l"/><rect x="287.99" width="2.45" height="13.3" class="l"/><rect x="292.06" width="2.45" height="13.3" class="l"/><rect x="296.14" width="2.45" height="13.3" class="l"/><rect x="300.22" width="2.45" height="13.3" class="l"/><rect x="304.3" width="2.45" height="13.3" class="l"/><rect x="308.37" width="2.45" height="13.3" class="l"/><rect x="312.45" width="2.45" height="13.3" class="l"/><rect x="316.53" width="2.45" height="13.3" class="l"/><rect x="320.6" width="2.45" height="13.3" class="l"/><rect x="324.68" width="2.45" height="13.3" class="l"/><rect x="328.76" width="2.45" height="13.3" class="l"/><rect x="332.83" width="2.45" height="13.3" class="l"/><rect x="336.91" width="2.45" height="13.3" class="l"/><rect x="340.99" width="2.45" height="13.3" class="l"/><rect x="345.07" width="2.45" height="13.3" class="l"/><rect x="349.14" width="2.45" height="13.3" class="l"/><rect x="353.22" width="2.45" height="13.3" class="l"/><rect x="357.3" width="2.45" height="13.3" class="l"/><rect x="361.37" width="2.45" height="13.3" class="l"/><rect x="365.45" width="2.45" height="13.3" class="l"/><rect x="369.53" width="2.45" height="13.3" class="l"/><rect x="373.61" width="2.45" height="13.3" class="l"/><rect x="377.68" width="2.45" height="13.3" class="l"/><rect x="381.76" width="2.45" height="13.3" class="l"/><rect x="385.84" width="2.45" height="13.3" class="l"/><rect x="389.91" width="2.45" height="13.3" class="l"/><rect x="393.99" width="2.45" height="13.3" class="l"/><rect x="398.07" width="2.45" height="13.3" class="l"/><rect x="402.14" width="2.45" height="13.3" class="l"/><rect x="406.22" width="2.45" height="13.3" class="l"/><rect x="410.3" width="2.45" height="13.3" class="l"/><rect x="414.38" width="2.45" height="13.3" class="l"/><rect x="418.45" width="2.45" height="13.3" class="l"/><rect x="422.53" width="2.45" height="13.3" class="l"/><rect x="426.61" width="2.45" height="13.3" class="l"/><rect x="430.68" width="2.45" height="13.3" class="l"/><rect x="434.76" width="2.45" height="13.3" class="l"/><rect x="438.84" width="2.45" height="13.3" class="l"/><rect x="442.91" width="2.45" height="13.3" class="l"/><rect x="446.99" width="2.45" height="13.3" class="l"/><rect x="451.07" width="2.45" height="13.3" class="l"/><rect x="455.14" width="2.45" height="13.3" class="l"/><rect x="459.22" width="2.45" height="13.3" class="l"/><rect x="463.3" width="2.45" height="13.3" class="l"/><rect x="467.38" width="2.45" height="13.3" class="l"/><rect x="471.45" width="2.45" height="13.3" class="l"/><rect x="475.53" width="2.45" height="13.3" class="l"/><rect x="479.61" width="2.45" height="13.3" class="l"/><rect x="483.68" width="2.45" height="13.3" class="l"/><rect x="487.76" width="2.45" height="13.3" class="l"/><rect x="491.84" width="2.45" height="13.3" class="l"/><rect x="495.91" width="2.45" height="13.3" class="l"/><rect x="499.99" width="2.45" height="13.3" class="l"/><rect x="504.07" width="2.45" height="13.3" class="l"/><rect x="508.15" width="2.45" height="13.3" class="l"/><rect x="512.22" width="2.45" height="13.3" class="l"/><rect x="516.3" width="2.45" height="13.3" class="l"/></g>
<text class="g" transform="translate(104.5,139.73) scale(0.95,1)" text-anchor="end">STAG2</text>
<g transform="translate(0,146.12)"><rect x="108.6" width="2.45" height="13.3" class="l"/><rect x="112.68" width="2.45" height="13.3" class="l"/><rect x="116.75" width="2.45" height="13.3" class="l"/><rect x="120.83" width="2.45" height="13.3" class="l"/><rect x="124.91" width="2.45" height="13.3" class="l"/><rect x="128.98" width="2.45" height="13.3" class="l"/><rect x="133.06" width="2.45" height="13.3" class="l"/><rect x="137.14" width="2.45" height="13.3" class="l"/><rect x="141.22" width="2.45" height="13.3" class="l"/><rect x="145.29" width="2.45" height="13.3" class="l"/><rect x="149.37" width="2.45" height="13.3" class="y"/><rect x="153.45" width="2.45" height="13.3" class="l"/><rect x="157.52" width="2.45" height="13.3" class="l"/><rect x="161.6" width="2.45" height="13.3" class="l"/><rect x="165.68" width="2.45" height="13.3" class="l"/><rect x="169.75" width="2.45" height="13.3" class="l"/><rect x="173.83" width="2.45" height="13.3" class="l"/><rect x="177.91" width="2.45" height="13.3" class="l"/><rect x="181.99" width="2.45" height="13.3" class="l"/><rect x="186.06" width="2.45" height="13.3" class="l"/><rect x="190.14" width="2.45" height="13.3" class="l"/><rect x="194.22" width="2.45" height="13.3" class="l"/><rect x="198.29" width="2.45" height="13.3" class="l"/><rect x="202.37" width="2.45" height="13.3" class="l"/><rect x="206.45" width="2.45" height="13.3" class="l"/><rect x="210.52" width="2.45" height="13.3" class="l"/><rect x="214.6" width="2.45" height="13.3" class="l"/><rect x="218.68" width="2.45" height="13.3" class="l"/><rect x="222.76" width="2.45" height="13.3" class="l"/><rect x="226.83" width="2.45" height="13.3" class="l"/><rect x="230.91" width="2.45" height="13.3" class="l"/><rect x="234.99" width="2.45" height="13.3" class="l"/><rect x="239.06" width="2.45" height="13.3" class="l"/><rect x="243.14" width="2.45" height="13.3" class="l"/><rect x="247.22" width="2.45" height="13.3" class="l"/><rect x="251.29" width="2.45" height="13.3" class="l"/><rect x="255.37" width="2.45" height="13.3" class="l"/><rect x="259.45" width="2.45" height="13.3" class="l"/><rect x="263.53" width="2.45" height="13.3" class="l"/><rect x="267.6" width="2.45" height="13.3" class="l"/><rect x="271.68" width="2.45" height="13.3" class="l"/><rect x="275.76" width="2.45" height="13.3" class="l"/><rect x="279.83" width="2.45" height="13.3" class="l"/><rect x="283.91" width="2.45" height="13.3" class="l"/><rect x="287.99" width="2.45" height="13.3" class="l"/><rect x="292.06" width="2.45" height="13.3" class="l"/><rect x="296.14" width="2.45" height="13.3" class="l"/><rect x="300.22" width="2.45" height="13.3" class="l"/><rect x="304.3" width="2.45" height="13.3" class="l"/><rect x="308.37" width="2.45" height="13.3" class="l"/><rect x="312.45" width="2.45" height="13.3" class="l"/><rect x="316.53" width="2.45" height="13.3" class="l"/><rect x="320.6" width="2.45" height="13.3" class="l"/><rect x="324.68" width="2.45" height="13.3" class="l"/><rect x="328.76" width="2.45" height="13.3" class="l"/><rect x="332.83" width="2.45" height="13.3" class="l"/><rect x="336.91" width="2.45" height="13.3" class="l"/><rect x="340.99" width="2.45" height="13.3" class="l"/><rect x="345.07" width="2.45" height="13.3" class="l"/><rect x="349.14" width="2.45" height="13.3" class="l"/><rect x="353.22" width="2.45" height="13.3" class="l"/><rect x="357.3" width="2.45" height="13.3" class="l"/><rect x="361.37" width="2.45" height="13.3" class="l"/><rect x="365.45" width="2.45" height="13.3" class="y"/><rect x="369.53" width="2.45" height="13.3" class="l"/><rect x="373.61" width="2.45" height="13.3" class="l"/><rect x="377.68" width="2.45" height="13.3" class="l"/><rect x="381.76" width="2.45" height="13.3" class="l"/><rect x="385.84" width="2.45" height="13.3" class="l"/><rect x="389.91" width="2.45" height="13.3" class="l"/><rect x="393.99" width="2.45" height="13.3" class="l"/><rect x="398.07" width="2.45" height="13.3" class="l"/><rect x="402.14" width="2.45" height="13.3" class="l"/><rect x="406.22" width="2.45" height="13.3" class="l"/><rect x="410.3" width="2.45" height="13.3" class="l"/><rect x="414.38" width="2.45" height="13.3" class="l"/><rect x="418.45" width="2.45" height="13.3" class="l"/><rect x="422.53" width="2.45" height="13.3" class="l"/><rect x="426.61" width="2.45" height="13.3" class="l"/><rect x="430.68" width="2.45" height="13.3" class="l"/><rect x="434.76" width="2.45" height="13.3" class="l"/><rect x="438.84" width="2.45" height="13.3" class="l"/><rect x="442.91" width="2.45" height="13.3" class="l"/><rect x="446.99" width="2.45" height="13.3" class="l"/><rect x="451.07" width="2.45" height="13.3" class="l"/><rect x="455.14" width="2.45" height="13.3" class="l"/><rect x="459.22" width="2.45" height="13.3" class="l"/><rect x="463.3" width="2.45" height="13.3" class="l"/><rect x="467.38" width="2.45" height="13.3" class="l"/><rect x="471.45" width="2.45" height="13.3" class="l"/><rect x="475.53" width="2.45" height="13.3" class="l"/><rect x="479.61" width="2.45" height="13.3" class="l"/><rect x="483.68" width="2.45" height="13.3" class="l"/><rect x="487.76" width="2.45" height="13.3" class="l"/><rect x="491.84" width="2.45" height="13.3" class="l"/><rect x="495.91" width="2.45" height="13.3" class="l"/><rect x="499.99" width="2.45" height="13.3" class="l"/><rect x="504.07" width="2.45" height="13.3" class="l"/><rect x="508.15" width="2.45" height="13.3" class="l"/><rect x="512.22" width="2.45" height="13.3" class="l"/><rect x="516.3" width="2.45" height="13.3" class="l"/></g>
<text class="g" transform="translate(104.5,155.02) scale(0.95,1)" text-anchor="end">SMC3</text>
<g transform="translate(0,161.41)"><rect x="108.6" width="2.45" height="13.3" class="l"/><rect x="112.68" width="2.45" height="13.3" class="l"/><rect x="116.75" width="2.45" height="13.3" class="l"/><rect x="120.83" width="2.45" height="13.3" class="l"/><rect x="124.91" width="2.45" height="13.3" class="l"/><rect x="128.98" width="2.45" height="13.3" class="l"/><rect x="133.06" width="2.45" height="13.3" class="l"/><rect x="137.14" width="2.45" height="13.3" class="l"/><rect x="141.22" width="2.45" height="13.3" class="l"/><rect x="145.29" width="2.45" height="13.3" class="l"/><rect x="149.37" width="2.45" height="13.3" class="l"/><rect x="153.45" width="2.45" height="13.3" class="l"/><rect x="157.52" width="2.45" height="13.3" class="l"/><rect x="161.6" width="2.45" height="13.3" class="y"/><rect x="165.68" width="2.45" height="13.3" class="l"/><rect x="169.75" width="2.45" height="13.3" class="y"/><rect x="173.83" width="2.45" height="13.3" class="l"/><rect x="177.91" width="2.45" height="13.3" class="l"/><rect x="181.99" width="2.45" height="13.3" class="l"/><rect x="186.06" width="2.45" height="13.3" class="l"/><rect x="190.14" width="2.45" height="13.3" class="l"/><rect x="194.22" width="2.45" height="13.3" class="l"/><rect x="198.29" width="2.45" height="13.3" class="l"/><rect x="202.37" width="2.45" height="13.3" class="y"/><rect x="206.45" width="2.45" height="13.3" class="l"/><rect x="210.52" width="2.45" height="13.3" class="l"/><rect x="214.6" width="2.45" height="13.3" class="l"/><rect x="218.68" width="2.45" height="13.3" class="l"/><rect x="222.76" width="2.45" height="13.3" class="l"/><rect x="226.83" width="2.45" height="13.3" class="l"/><rect x="230.91" width="2.45" height="13.3" class="l"/><rect x="234.99" width="2.45" height="13.3" class="l"/><rect x="239.06" width="2.45" height="13.3" class="l"/><rect x="243.14" width="2.45" height="13.3" class="l"/><rect x="247.22" width="2.45" height="13.3" class="l"/><rect x="251.29" width="2.45" height="13.3" class="l"/><rect x="255.37" width="2.45" height="13.3" class="l"/><rect x="259.45" width="2.45" height="13.3" class="l"/><rect x="263.53" width="2.45" height="13.3" class="l"/><rect x="267.6" width="2.45" height="13.3" class="l"/><rect x="271.68" width="2.45" height="13.3" class="l"/><rect x="275.76" width="2.45" height="13.3" class="l"/><rect x="279.83" width="2.45" height="13.3" class="l"/><rect x="283.91" width="2.45" height="13.3" class="l"/><rect x="287.99" width="2.45" height="13.3" class="l"/><rect x="292.06" width="2.45" height="13.3" class="l"/><rect x="296.14" width="2.45" height="13.3" class="l"/><rect x="300.22" width="2.45" height="13.3" class="l"/><rect x="304.3" width="2.45" height="13.3" class="l"/><rect x="308.37" width="2.45" height="13.3" class="l"/><rect x="312.45" width="2.45" height="13.3" class="l"/><rect x="316.53" width="2.45" height="13.3" class="l"/><rect x="320.6" width="2.45" height="13.3" class="l"/><rect x="324.68" width="2.45" height="13.3" class="l"/><rect x="328.76" width="2.45" height="13.3" class="l"/><rect x="332.83" width="2.45" height="13.3" class="l"/><rect x="336.91" width="2.45" height="13.3" class="l"/><rect x="340.99" width="2.45" height="13.3" class="l"/><rect x="345.07" width="2.45" height="13.3" class="l"/><rect x="349.14" width="2.45" height="13.3" class="l"/><rect x="353.22" width="2.45" height="13.3" class="l"/><rect x="357.3" width="2.45" height="13.3" class="l"/><rect x="361.37" width="2.45" height="13.3" class="l"/><rect x="365.45" width="2.45" height="13.3" class="l"/><rect x="369.53" width="2.45" height="13.3" class="l"/><rect x="373.61" width="2.45" height="13.3" class="l"/><rect x="377.68" width="2.45" height="13.3" class="l"/><rect x="381.76" width="2.45" height="13.3" class="l"/><rect x="385.84" width="2.45" height="13.3" class="l"/><rect x="389.91" width="2.45" height="13.3" class="l"/><rect x="393.99" width="2.45" height="13.3" class="l"/><rect x="398.07" width="2.45" height="13.3" class="l"/><rect x="402.14" width="2.45" height="13.3" class="l"/><rect x="406.22" width="2.45" height="13.3" class="l"/><rect x="410.3" width="2.45" height="13.3" class="l"/><rect x="414.38" width="2.45" height="13.3" class="l"/><rect x="418.45" width="2.45" height="13.3" class="l"/><rect x="422.53" width="2.45" height="13.3" class="l"/><rect x="426.61" width="2.45" height="13.3" class="l"/><rect x="430.68" width="2.45" height="13.3" class="l"/><rect x="434.76" width="2.45" height="13.3" class="l"/><rect x="438.84" width="2.45" height="13.3" class="l"/><rect x="442.91" width="2.45" height="13.3" class="l"/><rect x="446.99" width="2.45" height="13.3" class="l"/><rect x="451.07" width="2.45" height="13.3" class="l"/><rect x="455.14" width="2.45" height="13.3" class="l"/><rect x="459.22" width="2.45" height="13.3" class="l"/><rect x="463.3" width="2.45" height="13.3" class="l"/><rect x="467.38" width="2.45" height="13.3" class="l"/><rect x="471.45" width="2.45" height="13.3" class="l"/><rect x="475.53" width="2.45" height="13.3" class="l"/><rect x="479.61" width="2.45" height="13.3" class="l"/><rect x="483.68" width="2.45" height="13.3" class="l"/><rect x="487.76" width="2.45" height="13.3" class="l"/><rect x="491.84" width="2.45" height="13.3" class="l"/><rect x="495.91" width="2.45" height="13.3" class="l"/><rect x="499.99" width="2.45" height="13.3" class="l"/><rect x="504.07" width="2.45" height="13.3" class="l"/><rect x="508.15" width="2.45" height="13.3" class="l"/><rect x="512.22" width="2.45" height="13.3" class="l"/><rect x="516.3" width="2.45" height="13.3" class="l"/></g>
<text class="g" transform="translate(104.5,170.31) scale(0.95,1)" text-anchor="end">SMC1A</text>
<g transform="translate(0,176.7)"><rect x="108.6" width="2.45" height="13.3" class="l"/><rect x="112.68" width="2.45" height="13.3" class="l"/><rect x="116.75" width="2.45" height="13.3" class="l"/><rect x="120.83" width="2.45" height="13.3" class="l"/><rect x="124.91" width="2.45" height="13.3" class="l"/><rect x="128.98" width="2.45" height="13.3" class="l"/><rect x="133.06" width="2.45" height="13.3" class="l"/><rect x="137.14" width="2.45" height="13.3" class="l"/><rect x="141.22" width="2.45" height="13.3" class="l"/><rect x="145.29" width="2.45" height="13.3" class="l"/><rect x="149.37" width="2.45" height="13.3" class="l"/><rect x="153.45" width="2.45" height="13.3" class="y"/><rect x="157.52" width="2.45" height="13.3" class="l"/><rect x="161.6" width="2.45" height="13.3" class="l"/><rect x="165.68" width="2.45" height="13.3" class="l"/><rect x="169.75" width="2.45" height="13.3" class="l"/><rect x="173.83" width="2.45" height="13.3" class="l"/><rect x="177.91" width="2.45" height="13.3" class="l"/><rect x="181.99" width="2.45" height="13.3" class="l"/><rect x="186.06" width="2.45" height="13.3" class="l"/><rect x="190.14" width="2.45" height="13.3" class="l"/><rect x="194.22" width="2.45" height="13.3" class="l"/><rect x="198.29" width="2.45" height="13.3" class="l"/><rect x="202.37" width="2.45" height="13.3" class="l"/><rect x="206.45" width="2.45" height="13.3" class="l"/><rect x="210.52" width="2.45" height="13.3" class="l"/><rect x="214.6" width="2.45" height="13.3" class="l"/><rect x="218.68" width="2.45" height="13.3" class="l"/><rect x="222.76" width="2.45" height="13.3" class="l"/><rect x="226.83" width="2.45" height="13.3" class="l"/><rect x="230.91" width="2.45" height="13.3" class="l"/><rect x="234.99" width="2.45" height="13.3" class="l"/><rect x="239.06" width="2.45" height="13.3" class="l"/><rect x="243.14" width="2.45" height="13.3" class="l"/><rect x="247.22" width="2.45" height="13.3" class="l"/><rect x="251.29" width="2.45" height="13.3" class="l"/><rect x="255.37" width="2.45" height="13.3" class="l"/><rect x="259.45" width="2.45" height="13.3" class="l"/><rect x="263.53" width="2.45" height="13.3" class="l"/><rect x="267.6" width="2.45" height="13.3" class="l"/><rect x="271.68" width="2.45" height="13.3" class="l"/><rect x="275.76" width="2.45" height="13.3" class="l"/><rect x="279.83" width="2.45" height="13.3" class="l"/><rect x="283.91" width="2.45" height="13.3" class="l"/><rect x="287.99" width="2.45" height="13.3" class="l"/><rect x="292.06" width="2.45" height="13.3" class="l"/><rect x="296.14" width="2.45" height="13.3" class="l"/><rect x="300.22" width="2.45" height="13.3" class="l"/><rect x="304.3" width="2.45" height="13.3" class="l"/><rect x="308.37" width="2.45" height="13.3" class="l"/><rect x="312.45" width="2.45" height="13.3" class="l"/><rect x="316.53" width="2.45" height="13.3" class="l"/><rect x="320.6" width="2.45" height="13.3" class="l"/><rect x="324.68" width="2.45" height="13.3" class="l"/><rect x="328.76" width="2.45" height="13.3" class="l"/><rect x="332.83" width="2.45" height="13.3" class="l"/><rect x="336.91" width="2.45" height="13.3" class="l"/><rect x="340.99" width="2.45" height="13.3" class="l"/><rect x="345.07" width="2.45" height="13.3" class="l"/><rect x="349.14" width="2.45" height="13.3" class="l"/><rect x="353.22" width="2.45" height="13.3" class="l"/><rect x="357.3" width="2.45" height="13.3" class="l"/><rect x="361.37" width="2.45" height="13.3" class="l"/><rect x="365.45" width="2.45" height="13.3" class="l"/><rect x="369.53" width="2.45" height="13.3" class="l"/><rect x="373.61" width="2.45" height="13.3" class="l"/><rect x="377.68" width="2.45" height="13.3" class="l"/><rect x="381.76" width="2.45" height="13.3" class="l"/><rect x="385.84" width="2.45" height="13.3" class="l"/><rect x="389.91" width="2.45" height="13.3" class="l"/><rect x="393.99" width="2.45" height="13.3" class="y"/><rect x="398.07" width="2.45" height="13.3" class="y"/><rect x="402.14" width="2.45" height="13.3" class="l"/><rect x="406.22" width="2.45" height="13.3" class="l"/><rect x="410.3" width="2.45" height="13.3" class="l"/><rect x="414.38" width="2.45" height="13.3" class="l"/><rect x="418.45" width="2.45" height="13.3" class="l"/><rect x="422.53" width="2.45" height="13.3" class="l"/><rect x="426.61" width="2.45" height="13.3" class="l"/><rect x="430.68" width="2.45" height="13.3" class="l"/><rect x="434.76" width="2.45" height="13.3" class="l"/><rect x="438.84" width="2.45" height="13.3" class="l"/><rect x="442.91" width="2.45" height="13.3" class="y"/><rect x="446.99" width="2.45" height="13.3" class="l"/><rect x="451.07" width="2.45" height="13.3" class="l"/><rect x="455.14" width="2.45" height="13.3" class="l"/><rect x="459.22" width="2.45" height="13.3" class="l"/><rect x="463.3" width="2.45" height="13.3" class="l"/><rect x="467.38" width="2.45" height="13.3" class="l"/><rect x="471.45" width="2.45" height="13.3" class="l"/><rect x="475.53" width="2.45" height="13.3" class="l"/><rect x="479.61" width="2.45" height="13.3" class="l"/><rect x="483.68" width="2.45" height="13.3" class="l"/><rect x="487.76" width="2.45" height="13.3" class="l"/><rect x="491.84" width="2.45" height="13.3" class="l"/><rect x="495.91" width="2.45" height="13.3" class="l"/><rect x="499.99" width="2.45" height="13.3" class="l"/><rect x="504.07" width="2.45" height="13.3" class="l"/><rect x="508.15" width="2.45" height="13.3" class="l"/><rect x="512.22" width="2.45" height="13.3" class="l"/><rect x="516.3" width="2.45" height="13.3" class="l"/></g>
<text class="g" transform="translate(104.5,185.6) scale(0.95,1)" text-anchor="end">RAD21</text>
<g transform="translate(0,191.99)"><rect x="108.6" width="2.45" height="13.3" class="d"/><rect x="112.68" width="2.45" height="13.3" class="d"/><rect x="116.75" width="2.45" height="13.3" class="d"/><rect x="120.83" width="2.45" height="13.3" class="d"/><rect x="124.91" width="2.45" height="13.3" class="d"/><rect x="128.98" width="2.45" height="13.3" class="y"/><rect x="133.06" width="2.45" height="13.3" class="y"/><rect x="137.14" width="2.45" height="13.3" class="d"/><rect x="141.22" width="2.45" height="13.3" class="d"/><rect x="145.29" width="2.45" height="13.3" class="d"/><rect x="149.37" width="2.45" height="13.3" class="d"/><rect x="153.45" width="2.45" height="13.3" class="y"/><rect x="157.52" width="2.45" height="13.3" class="d"/><rect x="161.6" width="2.45" height="13.3" class="d"/><rect x="165.68" width="2.45" height="13.3" class="y"/><rect x="169.75" width="2.45" height="13.3" class="d"/><rect x="173.83" width="2.45" height="13.3" class="d"/><rect x="177.91" width="2.45" height="13.3" class="d"/><rect x="181.99" width="2.45" height="13.3" class="d"/><rect x="186.06" width="2.45" height="13.3" class="y"/><rect x="190.14" width="2.45" height="13.3" class="d"/><rect x="194.22" width="2.45" height="13.3" class="d"/><rect x="198.29" width="2.45" height="13.3" class="y"/><rect x="202.37" width="2.45" height="13.3" class="y"/><rect x="206.45" width="2.45" height="13.3" class="y"/><rect x="210.52" width="2.45" height="13.3" class="d"/><rect x="214.6" width="2.45" height="13.3" class="y"/><rect x="218.68" width="2.45" height="13.3" class="y"/><rect x="222.76" width="2.45" height="13.3" class="d"/><rect x="226.83" width="2.45" height="13.3" class="d"/><rect x="230.91" width="2.45" height="13.3" class="d"/><rect x="234.99" width="2.45" height="13.3" class="d"/><rect x="239.06" width="2.45" height="13.3" class="d"/><rect x="243.14" width="2.45" height="13.3" class="d"/><rect x="247.22" width="2.45" height="13.3" class="d"/><rect x="251.29" width="2.45" height="13.3" class="d"/><rect x="255.37" width="2.45" height="13.3" class="d"/><rect x="259.45" width="2.45" height="13.3" class="d"/><rect x="263.53" width="2.45" height="13.3" class="d"/><rect x="267.6" width="2.45" height="13.3" class="d"/><rect x="271.68" width="2.45" height="13.3" class="d"/><rect x="275.76" width="2.45" height="13.3" class="d"/><rect x="279.83" width="2.45" height="13.3" class="d"/><rect x="283.91" width="2.45" height="13.3" class="d"/><rect x="287.99" width="2.45" height="13.3" class="d"/><rect x="292.06" width="2.45" height="13.3" class="d"/><rect x="296.14" width="2.45" height="13.3" class="d"/><rect x="300.22" width="2.45" height="13.3" class="d"/><rect x="304.3" width="2.45" height="13.3" class="d"/><rect x="308.37" width="2.45" height="13.3" class="d"/><rect x="312.45" width="2.45" height="13.3" class="d"/><rect x="316.53" width="2.45" height="13.3" class="d"/><rect x="320.6" width="2.45" height="13.3" class="d"/><rect x="324.68" width="2.45" height="13.3" class="y"/><rect x="328.76" width="2.45" height="13.3" class="d"/><rect x="332.83" width="2.45" height="13.3" class="d"/><rect x="336.91" width="2.45" height="13.3" class="d"/><rect x="340.99" width="2.45" height="13.3" class="d"/><rect x="345.07" width="2.45" height="13.3" class="d"/><rect x="349.14" width="2.45" height="13.3" class="d"/><rect x="353.22" width="2.45" height="13.3" class="d"/><rect x="357.3" width="2.45" height="13.3" class="d"/><rect x="361.37" width="2.45" height="13.3" class="d"/><rect x="365.45" width="2.45" height="13.3" class="d"/><rect x="369.53" width="2.45" height="13.3" class="d"/><rect x="373.61" width="2.45" height="13.3" class="d"/><rect x="377.68" width="2.45" height="13.3" class="d"/><rect x="381.76" width="2.45" height="13.3" class="d"/><rect x="385.84" width="2.45" height="13.3" class="d"/><rect x="389.91" width="2.45" height="13.3" class="d"/><rect x="393.99" width="2.45" height="13.3" class="d"/><rect x="398.07" width="2.45" height="13.3" class="d"/><rect x="402.14" width="2.45" height="13.3" class="d"/><rect x="406.22" width="2.45" height="13.3" class="d"/><rect x="410.3" width="2.45" height="13.3" class="d"/><rect x="414.38" width="2.45" height="13.3" class="d"/><rect x="418.45" width="2.45" height="13.3" class="d"/><rect x="422.53" width="2.45" height="13.3" class="d"/><rect x="426.61" width="2.45" height="13.3" class="d"/><rect x="430.68" width="2.45" height="13.3" class="d"/><rect x="434.76" width="2.45" height="13.3" class="d"/><rect x="438.84" width="2.45" height="13.3" class="d"/><rect x="442.91" width="2.45" height="13.3" class="d"/><rect x="446.99" width="2.45" height="13.3" class="d"/><rect x="451.07" width="2.45" height="13.3" class="d"/><rect x="455.14" width="2.45" height="13.3" class="d"/><rect x="459.22" width="2.45" height="13.3" class="d"/><rect x="463.3" width="2.45" height="13.3" class="d"/><rect x="467.38" width="2.45" height="13.3" class="d"/><rect x="471.45" width="2.45" height="13.3" class="d"/><rect x="475.53" width="2.45" height="13.3" class="d"/><rect x="479.61" width="2.45" height="13.3" class="d"/><rect x="483.68" width="2.45" height="13.3" class="d"/><rect x="487.76" width="2.45" height="13.3" class="d"/><rect x="491.84" width="2.45" height="13.3" class="d"/><rect x="495.91" width="2.45" height="13.3" class="d"/><rect x="499.99" width="2.45" height="13.3" class="d"/><rect x="504.07" width="2.45" height="13.3" class="d"/><rect x="508.15" width="2.45" height="13.3" class="d"/><rect x="512.22" width="2.45" height="13.3" class="d"/><rect x="516.3" width="2.45" height="13.3" class="d"/></g>
<text class="g" transform="translate(104.5,200.89) scale(0.95,1)" text-anchor="end">RUNX1</text>
<g transform="translate(0,207.28)"><rect x="108.6" width="2.45" height="13.3" class="y"/><rect x="112.68" width="2.45" height="13.3" class="d"/><rect x="116.75" width="2.45" height="13.3" class="d"/><rect x="120.83" width="2.45" height="13.3" class="d"/><rect x="124.91" width="2.45" height="13.3" class="d"/><rect x="128.98" width="2.45" height="13.3" class="d"/><rect x="133.06" width="2.45" height="13.3" class="d"/><rect x="137.14" width="2.45" height="13.3" class="d"/><rect x="141.22" width="2.45" height="13.3" class="y"/><rect x="145.29" width="2.45" height="13.3" class="d"/><rect x="149.37" width="2.45" height="13.3" class="d"/><rect x="153.45" width="2.45" height="13.3" class="d"/><rect x="157.52" width="2.45" height="13.3" class="d"/><rect x="161.6" width="2.45" height="13.3" class="d"/><rect x="165.68" width="2.45" height="13.3" class="d"/><rect x="169.75" width="2.45" height="13.3" class="d"/><rect x="173.83" width="2.45" height="13.3" class="d"/><rect x="177.91" width="2.45" height="13.3" class="d"/><rect x="181.99" width="2.45" height="13.3" class="d"/><rect x="186.06" width="2.45" height="13.3" class="d"/><rect x="190.14" width="2.45" height="13.3" class="d"/><rect x="194.22" width="2.45" height="13.3" class="d"/><rect x="198.29" width="2.45" height="13.3" class="y"/><rect x="202.37" width="2.45" height="13.3" class="d"/><rect x="206.45" width="2.45" height="13.3" class="d"/><rect x="210.52" width="2.45" height="13.3" class="d"/><rect x="214.6" width="2.45" height="13.3" class="d"/><rect x="218.68" width="2.45" height="13.3" class="d"/><rect x="222.76" width="2.45" height="13.3" class="d"/><rect x="226.83" width="2.45" height="13.3" class="d"/><rect x="230.91" width="2.45" height="13.3" class="d"/><rect x="234.99" width="2.45" height="13.3" class="d"/><rect x="239.06" width="2.45" height="13.3" class="d"/><rect x="243.14" width="2.45" height="13.3" class="d"/><rect x="247.22" width="2.45" height="13.3" class="d"/><rect x="251.29" width="2.45" height="13.3" class="d"/><rect x="255.37" width="2.45" height="13.3" class="d"/><rect x="259.45" width="2.45" height="13.3" class="d"/><rect x="263.53" width="2.45" height="13.3" class="d"/><rect x="267.6" width="2.45" height="13.3" class="d"/><rect x="271.68" width="2.45" height="13.3" class="y"/><rect x="275.76" width="2.45" height="13.3" class="d"/><rect x="279.83" width="2.45" height="13.3" class="d"/><rect x="283.91" width="2.45" height="13.3" class="d"/><rect x="287.99" width="2.45" height="13.3" class="d"/><rect x="292.06" width="2.45" height="13.3" class="d"/><rect x="296.14" width="2.45" height="13.3" class="d"/><rect x="300.22" width="2.45" height="13.3" class="d"/><rect x="304.3" width="2.45" height="13.3" class="d"/><rect x="308.37" width="2.45" height="13.3" class="d"/><rect x="312.45" width="2.45" height="13.3" class="d"/><rect x="316.53" width="2.45" height="13.3" class="y"/><rect x="320.6" width="2.45" height="13.3" class="d"/><rect x="324.68" width="2.45" height="13.3" class="d"/><rect x="328.76" width="2.45" height="13.3" class="d"/><rect x="332.83" width="2.45" height="13.3" class="d"/><rect x="336.91" width="2.45" height="13.3" class="d"/><rect x="340.99" width="2.45" height="13.3" class="d"/><rect x="345.07" width="2.45" height="13.3" class="d"/><rect x="349.14" width="2.45" height="13.3" class="d"/><rect x="353.22" width="2.45" height="13.3" class="d"/><rect x="357.3" width="2.45" height="13.3" class="d"/><rect x="361.37" width="2.45" height="13.3" class="d"/><rect x="365.45" width="2.45" height="13.3" class="d"/><rect x="369.53" width="2.45" height="13.3" class="d"/><rect x="373.61" width="2.45" height="13.3" class="d"/><rect x="377.68" width="2.45" height="13.3" class="d"/><rect x="381.76" width="2.45" height="13.3" class="d"/><rect x="385.84" width="2.45" height="13.3" class="d"/><rect x="389.91" width="2.45" height="13.3" class="d"/><rect x="393.99" width="2.45" height="13.3" class="d"/><rect x="398.07" width="2.45" height="13.3" class="d"/><rect x="402.14" width="2.45" height="13.3" class="d"/><rect x="406.22" width="2.45" height="13.3" class="d"/><rect x="410.3" width="2.45" height="13.3" class="d"/><rect x="414.38" width="2.45" height="13.3" class="d"/><rect x="418.45" width="2.45" height="13.3" class="d"/><rect x="422.53" width="2.45" height="13.3" class="d"/><rect x="426.61" width="2.45" height="13.3" class="d"/><rect x="430.68" width="2.45" height="13.3" class="d"/><rect x="434.76" width="2.45" height="13.3" class="d"/><rect x="438.84" width="2.45" height="13.3" class="d"/><rect x="442.91" width="2.45" height="13.3" class="d"/><rect x="446.99" width="2.45" height="13.3" class="d"/><rect x="451.07" width="2.45" height="13.3" class="d"/><rect x="455.14" width="2.45" height="13.3" class="d"/><rect x="459.22" width="2.45" height="13.3" class="d"/><rect x="463.3" width="2.45" height="13.3" class="d"/><rect x="467.38" width="2.45" height="13.3" class="d"/><rect x="471.45" width="2.45" height="13.3" class="d"/><rect x="475.53" width="2.45" height="13.3" class="d"/><rect x="479.61" width="2.45" height="13.3" class="d"/><rect x="483.68" width="2.45" height="13.3" class="d"/><rect x="487.76" width="2.45" height="13.3" class="d"/><rect x="491.84" width="2.45" height="13.3" class="d"/><rect x="495.91" width="2.45" height="13.3" class="d"/><rect x="499.99" width="2.45" height="13.3" class="d"/><rect x="504.07" width="2.45" height="13.3" class="d"/><rect x="508.15" width="2.45" height="13.3" class="d"/><rect x="512.22" width="2.45" height="13.3" class="d"/><rect x="516.3" width="2.45" height="13.3" class="d"/></g>
<text class="g" transform="translate(104.5,216.18) scale(0.95,1)" text-anchor="end">CEBPA</text>
<g transform="translate(0,222.57)"><rect x="108.6" width="2.45" height="13.3" class="d"/><rect x="112.68" width="2.45" height="13.3" class="y"/><rect x="116.75" width="2.45" height="13.3" class="d"/><rect x="120.83" width="2.45" height="13.3" class="d"/><rect x="124.91" width="2.45" height="13.3" class="d"/><rect x="128.98" width="2.45" height="13.3" class="d"/><rect x="133.06" width="2.45" height="13.3" class="d"/><rect x="137.14" width="2.45" height="13.3" class="d"/><rect x="141.22" width="2.45" height="13.3" class="d"/><rect x="145.29" width="2.45" height="13.3" class="d"/><rect x="149.37" width="2.45" height="13.3" class="d"/><rect x="153.45" width="2.45" height="13.3" class="d"/><rect x="157.52" width="2.45" height="13.3" class="d"/><rect x="161.6" width="2.45" height="13.3" class="d"/><rect x="165.68" width="2.45" height="13.3" class="d"/><rect x="169.75" width="2.45" height="13.3" class="d"/><rect x="173.83" width="2.45" height="13.3" class="d"/><rect x="177.91" width="2.45" height="13.3" class="y"/><rect x="181.99" width="2.45" height="13.3" class="d"/><rect x="186.06" width="2.45" height="13.3" class="d"/><rect x="190.14" width="2.45" height="13.3" class="d"/><rect x="194.22" width="2.45" height="13.3" class="d"/><rect x="198.29" width="2.45" height="13.3" class="d"/><rect x="202.37" width="2.45" height="13.3" class="d"/><rect x="206.45" width="2.45" height="13.3" class="d"/><rect x="210.52" width="2.45" height="13.3" class="d"/><rect x="214.6" width="2.45" height="13.3" class="d"/><rect x="218.68" width="2.45" height="13.3" class="d"/><rect x="222.76" width="2.45" height="13.3" class="d"/><rect x="226.83" width="2.45" height="13.3" class="d"/><rect x="230.91" width="2.45" height="13.3" class="d"/><rect x="234.99" width="2.45" height="13.3" class="d"/><rect x="239.06" width="2.45" height="13.3" class="y"/><rect x="243.14" width="2.45" height="13.3" class="d"/><rect x="247.22" width="2.45" height="13.3" class="d"/><rect x="251.29" width="2.45" height="13.3" class="d"/><rect x="255.37" width="2.45" height="13.3" class="y"/><rect x="259.45" width="2.45" height="13.3" class="d"/><rect x="263.53" width="2.45" height="13.3" class="d"/><rect x="267.6" width="2.45" height="13.3" class="d"/><rect x="271.68" width="2.45" height="13.3" class="d"/><rect x="275.76" width="2.45" height="13.3" class="d"/><rect x="279.83" width="2.45" height="13.3" class="d"/><rect x="283.91" width="2.45" height="13.3" class="d"/><rect x="287.99" width="2.45" height="13.3" class="d"/><rect x="292.06" width="2.45" height="13.3" class="d"/><rect x="296.14" width="2.45" height="13.3" class="d"/><rect x="300.22" width="2.45" height="13.3" class="d"/><rect x="304.3" width="2.45" height="13.3" class="d"/><rect x="308.37" width="2.45" height="13.3" class="d"/><rect x="312.45" width="2.45" height="13.3" class="d"/><rect x="316.53" width="2.45" height="13.3" class="d"/><rect x="320.6" width="2.45" height="13.3" class="d"/><rect x="324.68" width="2.45" height="13.3" class="d"/><rect x="328.76" width="2.45" height="13.3" class="d"/><rect x="332.83" width="2.45" height="13.3" class="d"/><rect x="336.91" width="2.45" height="13.3" class="d"/><rect x="340.99" width="2.45" height="13.3" class="d"/><rect x="345.07" width="2.45" height="13.3" class="d"/><rect x="349.14" width="2.45" height="13.3" class="d"/><rect x="353.22" width="2.45" height="13.3" class="d"/><rect x="357.3" width="2.45" height="13.3" class="d"/><rect x="361.37" width="2.45" height="13.3" class="d"/><rect x="365.45" width="2.45" height="13.3" class="d"/><rect x="369.53" width="2.45" height="13.3" class="d"/><rect x="373.61" width="2.45" height="13.3" class="d"/><rect x="377.68" width="2.45" height="13.3" class="d"/><rect x="381.76" width="2.45" height="13.3" class="d"/><rect x="385.84" width="2.45" height="13.3" class="d"/><rect x="389.91" width="2.45" height="13.3" class="d"/><rect x="393.99" width="2.45" height="13.3" class="d"/><rect x="398.07" width="2.45" height="13.3" class="d"/><rect x="402.14" width="2.45" height="13.3" class="d"/><rect x="406.22" width="2.45" height="13.3" class="d"/><rect x="410.3" width="2.45" height="13.3" class="d"/><rect x="414.38" width="2.45" height="13.3" class="d"/><rect x="418.45" width="2.45" height="13.3" class="d"/><rect x="422.53" width="2.45" height="13.3" class="d"/><rect x="426.61" width="2.45" height="13.3" class="d"/><rect x="430.68" width="2.45" height="13.3" class="d"/><rect x="434.76" width="2.45" height="13.3" class="d"/><rect x="438.84" width="2.45" height="13.3" class="d"/><rect x="442.91" width="2.45" height="13.3" class="y"/><rect x="446.99" width="2.45" height="13.3" class="d"/><rect x="451.07" width="2.45" height="13.3" class="d"/><rect x="455.14" width="2.45" height="13.3" class="d"/><rect x="459.22" width="2.45" height="13.3" class="d"/><rect x="463.3" width="2.45" height="13.3" class="d"/><rect x="467.38" width="2.45" height="13.3" class="d"/><rect x="471.45" width="2.45" height="13.3" class="y"/><rect x="475.53" width="2.45" height="13.3" class="d"/><rect x="479.61" width="2.45" height="13.3" class="d"/><rect x="483.68" width="2.45" height="13.3" class="d"/><rect x="487.76" width="2.45" height="13.3" class="d"/><rect x="491.84" width="2.45" height="13.3" class="d"/><rect x="495.91" width="2.45" height="13.3" class="d"/><rect x="499.99" width="2.45" height="13.3" class="d"/><rect x="504.07" width="2.45" height="13.3" class="d"/><rect x="508.15" width="2.45" height="13.3" class="d"/><rect x="512.22" width="2.45" height="13.3" class="d"/><rect x="516.3" width="2.45" height="13.3" class="d"/></g>
<text class="g" transform="translate(104.5,231.47) scale(0.95,1)" text-anchor="end">Other TFs</text>
<g transform="translate(0,237.86)"><rect x="108.6" width="2.45" height="13.3" class="l"/><rect x="112.68" width="2.45" height="13.3" class="l"/><rect x="116.75" width="2.45" height="13.3" class="y"/><rect x="120.83" width="2.45" height="13.3" class="l"/><rect x="124.91" width="2.45" height="13.3" class="l"/><rect x="128.98" width="2.45" height="13.3" class="l"/><rect x="133.06" width="2.45" height="13.3" class="l"/><rect x="137.14" width="2.45" height="13.3" class="l"/><rect x="141.22" width="2.45" height="13.3" class="l"/><rect x="145.29" width="2.45" height="13.3" class="l"/><rect x="149.37" width="2.45" height="13.3" class="l"/><rect x="153.45" width="2.45" height="13.3" class="l"/><rect x="157.52" width="2.45" height="13.3" class="l"/><rect x="161.6" width="2.45" height="13.3" class="l"/><rect x="165.68" width="2.45" height="13.3" class="l"/><rect x="169.75" width="2.45" height="13.3" class="l"/><rect x="173.83" width="2.45" height="13.3" class="l"/><rect x="177.91" width="2.45" height="13.3" class="l"/><rect x="181.99" width="2.45" height="13.3" class="l"/><rect x="186.06" width="2.45" height="13.3" class="l"/><rect x="190.14" width="2.45" height="13.3" class="y"/><rect x="194.22" width="2.45" height="13.3" class="y"/><rect x="198.29" width="2.45" height="13.3" class="y"/><rect x="202.37" width="2.45" height="13.3" class="y"/><rect x="206.45" width="2.45" height="13.3" class="l"/><rect x="210.52" width="2.45" height="13.3" class="l"/><rect x="214.6" width="2.45" height="13.3" class="l"/><rect x="218.68" width="2.45" height="13.3" class="l"/><rect x="222.76" width="2.45" height="13.3" class="l"/><rect x="226.83" width="2.45" height="13.3" class="l"/><rect x="230.91" width="2.45" height="13.3" class="l"/><rect x="234.99" width="2.45" height="13.3" class="l"/><rect x="239.06" width="2.45" height="13.3" class="l"/><rect x="243.14" width="2.45" height="13.3" class="y"/><rect x="247.22" width="2.45" height="13.3" class="y"/><rect x="251.29" width="2.45" height="13.3" class="l"/><rect x="255.37" width="2.45" height="13.3" class="l"/><rect x="259.45" width="2.45" height="13.3" class="l"/><rect x="263.53" width="2.45" height="13.3" class="l"/><rect x="267.6" width="2.45" height="13.3" class="l"/><rect x="271.68" width="2.45" height="13.3" class="l"/><rect x="275.76" width="2.45" height="13.3" class="l"/><rect x="279.83" width="2.45" height="13.3" class="l"/><rect x="283.91" width="2.45" height="13.3" class="l"/><rect x="287.99" width="2.45" height="13.3" class="l"/><rect x="292.06" width="2.45" height="13.3" class="l"/><rect x="296.14" width="2.45" height="13.3" class="l"/><rect x="300.22" width="2.45" height="13.3" class="l"/><rect x="304.3" width="2.45" height="13.3" class="l"/><rect x="308.37" width="2.45" height="13.3" class="l"/><rect x="312.45" width="2.45" height="13.3" class="l"/><rect x="316.53" width="2.45" height="13.3" class="l"/><rect x="320.6" width="2.45" height="13.3" class="l"/><rect x="324.68" width="2.45" height="13.3" class="l"/><rect x="328.76" width="2.45" height="13.3" class="y"/><rect x="332.83" width="2.45" height="13.3" class="y"/><rect x="336.91" width="2.45" height="13.3" class="y"/><rect x="340.99" width="2.45" height="13.3" class="y"/><rect x="345.07" width="2.45" height="13.3" class="l"/><rect x="349.14" width="2.45" height="13.3" class="l"/><rect x="353.22" width="2.45" height="13.3" class="l"/><rect x="357.3" width="2.45" height="13.3" class="l"/><rect x="361.37" width="2.45" height="13.3" class="l"/><rect x="365.45" width="2.45" height="13.3" class="l"/><rect x="369.53" width="2.45" height="13.3" class="l"/><rect x="373.61" width="2.45" height="13.3" class="l"/><rect x="377.68" width="2.45" height="13.3" class="l"/><rect x="381.76" width="2.45" height="13.3" class="l"/><rect x="385.84" width="2.45" height="13.3" class="l"/><rect x="389.91" width="2.45" height="13.3" class="l"/><rect x="393.99" width="2.45" height="13.3" class="l"/><rect x="398.07" width="2.45" height="13.3" class="l"/><rect x="402.14" width="2.45" height="13.3" class="l"/><rect x="406.22" width="2.45" height="13.3" class="l"/><rect x="410.3" width="2.45" height="13.3" class="l"/><rect x="414.38" width="2.45" height="13.3" class="l"/><rect x="418.45" width="2.45" height="13.3" class="l"/><rect x="422.53" width="2.45" height="13.3" class="l"/><rect x="426.61" width="2.45" height="13.3" class="l"/><rect x="430.68" width="2.45" height="13.3" class="l"/><rect x="434.76" width="2.45" height="13.3" class="l"/><rect x="438.84" width="2.45" height="13.3" class="l"/><rect x="442.91" width="2.45" height="13.3" class="l"/><rect x="446.99" width="2.45" height="13.3" class="l"/><rect x="451.07" width="2.45" height="13.3" class="l"/><rect x="455.14" width="2.45" height="13.3" class="l"/><rect x="459.22" width="2.45" height="13.3" class="y"/><rect x="463.3" width="2.45" height="13.3" class="l"/><rect x="467.38" width="2.45" height="13.3" class="l"/><rect x="471.45" width="2.45" height="13.3" class="l"/><rect x="475.53" width="2.45" height="13.3" class="l"/><rect x="479.61" width="2.45" height="13.3" class="l"/><rect x="483.68" width="2.45" height="13.3" class="l"/><rect x="487.76" width="2.45" height="13.3" class="l"/><rect x="491.84" width="2.45" height="13.3" class="l"/><rect x="495.91" width="2.45" height="13.3" class="l"/><rect x="499.99" width="2.45" height="13.3" class="y"/><rect x="504.07" width="2.45" height="13.3" class="l"/><rect x="508.15" width="2.45" height="13.3" class="l"/><rect x="512.22" width="2.45" height="13.3" class="l"/><rect x="516.3" width="2.45" height="13.3" class="l"/></g>
<text class="g" transform="translate(104.5,246.76) scale(0.95,1)" text-anchor="end">NRAS</text>
<g transform="translate(0,253.15)"><rect x="108.6" width="2.45" height="13.3" class="l"/><rect x="112.68" width="2.45" height="13.3" class="l"/><rect x="116.75" width="2.45" height="13.3" class="l"/><rect x="120.83" width="2.45" height="13.3" class="l"/><rect x="124.91" width="2.45" height="13.3" class="l"/><rect x="128.98" width="2.45" height="13.3" class="l"/><rect x="133.06" width="2.45" height="13.3" class="l"/><rect x="137.14" width="2.45" height="13.3" class="l"/><rect x="141.22" width="2.45" height="13.3" class="l"/><rect x="145.29" width="2.45" height="13.3" class="l"/><rect x="149.37" width="2.45" height="13.3" class="l"/><rect x="153.45" width="2.45" height="13.3" class="l"/><rect x="157.52" width="2.45" height="13.3" class="y"/><rect x="161.6" width="2.45" height="13.3" class="l"/><rect x="165.68" width="2.45" height="13.3" class="l"/><rect x="169.75" width="2.45" height="13.3" class="y"/><rect x="173.83" width="2.45" height="13.3" class="l"/><rect x="177.91" width="2.45" height="13.3" class="l"/><rect x="181.99" width="2.45" height="13.3" class="l"/><rect x="186.06" width="2.45" height="13.3" class="l"/><rect x="190.14" width="2.45" height="13.3" class="l"/><rect x="194.22" width="2.45" height="13.3" class="l"/><rect x="198.29" width="2.45" height="13.3" class="l"/><rect x="202.37" width="2.45" height="13.3" class="l"/><rect x="206.45" width="2.45" height="13.3" class="l"/><rect x="210.52" width="2.45" height="13.3" class="l"/><rect x="214.6" width="2.45" height="13.3" class="l"/><rect x="218.68" width="2.45" height="13.3" class="l"/><rect x="222.76" width="2.45" height="13.3" class="l"/><rect x="226.83" width="2.45" height="13.3" class="l"/><rect x="230.91" width="2.45" height="13.3" class="l"/><rect x="234.99" width="2.45" height="13.3" class="l"/><rect x="239.06" width="2.45" height="13.3" class="l"/><rect x="243.14" width="2.45" height="13.3" class="l"/><rect x="247.22" width="2.45" height="13.3" class="l"/><rect x="251.29" width="2.45" height="13.3" class="y"/><rect x="255.37" width="2.45" height="13.3" class="l"/><rect x="259.45" width="2.45" height="13.3" class="l"/><rect x="263.53" width="2.45" height="13.3" class="l"/><rect x="267.6" width="2.45" height="13.3" class="l"/><rect x="271.68" width="2.45" height="13.3" class="l"/><rect x="275.76" width="2.45" height="13.3" class="l"/><rect x="279.83" width="2.45" height="13.3" class="l"/><rect x="283.91" width="2.45" height="13.3" class="l"/><rect x="287.99" width="2.45" height="13.3" class="l"/><rect x="292.06" width="2.45" height="13.3" class="l"/><rect x="296.14" width="2.45" height="13.3" class="l"/><rect x="300.22" width="2.45" height="13.3" class="l"/><rect x="304.3" width="2.45" height="13.3" class="l"/><rect x="308.37" width="2.45" height="13.3" class="l"/><rect x="312.45" width="2.45" height="13.3" class="l"/><rect x="316.53" width="2.45" height="13.3" class="l"/><rect x="320.6" width="2.45" height="13.3" class="l"/><rect x="324.68" width="2.45" height="13.3" class="l"/><rect x="328.76" width="2.45" height="13.3" class="y"/><rect x="332.83" width="2.45" height="13.3" class="l"/><rect x="336.91" width="2.45" height="13.3" class="l"/><rect x="340.99" width="2.45" height="13.3" class="l"/><rect x="345.07" width="2.45" height="13.3" class="y"/><rect x="349.14" width="2.45" height="13.3" class="y"/><rect x="353.22" width="2.45" height="13.3" class="y"/><rect x="357.3" width="2.45" height="13.3" class="y"/><rect x="361.37" width="2.45" height="13.3" class="l"/><rect x="365.45" width="2.45" height="13.3" class="l"/><rect x="369.53" width="2.45" height="13.3" class="l"/><rect x="373.61" width="2.45" height="13.3" class="l"/><rect x="377.68" width="2.45" height="13.3" class="l"/><rect x="381.76" width="2.45" height="13.3" class="l"/><rect x="385.84" width="2.45" height="13.3" class="l"/><rect x="389.91" width="2.45" height="13.3" class="l"/><rect x="393.99" width="2.45" height="13.3" class="l"/><rect x="398.07" width="2.45" height="13.3" class="l"/><rect x="402.14" width="2.45" height="13.3" class="l"/><rect x="406.22" width="2.45" height="13.3" class="l"/><rect x="410.3" width="2.45" height="13.3" class="l"/><rect x="414.38" width="2.45" height="13.3" class="l"/><rect x="418.45" width="2.45" height="13.3" class="l"/><rect x="422.53" width="2.45" height="13.3" class="l"/><rect x="426.61" width="2.45" height="13.3" class="l"/><rect x="430.68" width="2.45" height="13.3" class="l"/><rect x="434.76" width="2.45" height="13.3" class="l"/><rect x="438.84" width="2.45" height="13.3" class="l"/><rect x="442.91" width="2.45" height="13.3" class="l"/><rect x="446.99" width="2.45" height="13.3" class="l"/><rect x="451.07" width="2.45" height="13.3" class="l"/><rect x="455.14" width="2.45" height="13.3" class="l"/><rect x="459.22" width="2.45" height="13.3" class="l"/><rect x="463.3" width="2.45" height="13.3" class="y"/><rect x="467.38" width="2.45" height="13.3" class="y"/><rect x="471.45" width="2.45" height="13.3" class="l"/><rect x="475.53" width="2.45" height="13.3" class="l"/><rect x="479.61" width="2.45" height="13.3" class="l"/><rect x="483.68" width="2.45" height="13.3" class="l"/><rect x="487.76" width="2.45" height="13.3" class="l"/><rect x="491.84" width="2.45" height="13.3" class="l"/><rect x="495.91" width="2.45" height="13.3" class="l"/><rect x="499.99" width="2.45" height="13.3" class="l"/><rect x="504.07" width="2.45" height="13.3" class="y"/><rect x="508.15" width="2.45" height="13.3" class="l"/><rect x="512.22" width="2.45" height="13.3" class="l"/><rect x="516.3" width="2.45" height="13.3" class="l"/></g>
<text class="g" transform="translate(104.5,262.05) scale(0.95,1)" text-anchor="end">KRAS</text>
<g transform="translate(0,268.44)"><rect x="108.6" width="2.45" height="13.3" class="l"/><rect x="112.68" width="2.45" height="13.3" class="l"/><rect x="116.75" width="2.45" height="13.3" class="l"/><rect x="120.83" width="2.45" height="13.3" class="l"/><rect x="124.91" width="2.45" height="13.3" class="l"/><rect x="128.98" width="2.45" height="13.3" class="l"/><rect x="133.06" width="2.45" height="13.3" class="l"/><rect x="137.14" width="2.45" height="13.3" class="l"/><rect x="141.22" width="2.45" height="13.3" class="l"/><rect x="145.29" width="2.45" height="13.3" class="l"/><rect x="149.37" width="2.45" height="13.3" class="l"/><rect x="153.45" width="2.45" height="13.3" class="l"/><rect x="157.52" width="2.45" height="13.3" class="l"/><rect x="161.6" width="2.45" height="13.3" class="l"/><rect x="165.68" width="2.45" height="13.3" class="l"/><rect x="169.75" width="2.45" height="13.3" class="l"/><rect x="173.83" width="2.45" height="13.3" class="l"/><rect x="177.91" width="2.45" height="13.3" class="l"/><rect x="181.99" width="2.45" height="13.3" class="l"/><rect x="186.06" width="2.45" height="13.3" class="l"/><rect x="190.14" width="2.45" height="13.3" class="l"/><rect x="194.22" width="2.45" height="13.3" class="y"/><rect x="198.29" width="2.45" height="13.3" class="l"/><rect x="202.37" width="2.45" height="13.3" class="l"/><rect x="206.45" width="2.45" height="13.3" class="l"/><rect x="210.52" width="2.45" height="13.3" class="l"/><rect x="214.6" width="2.45" height="13.3" class="y"/><rect x="218.68" width="2.45" height="13.3" class="l"/><rect x="222.76" width="2.45" height="13.3" class="y"/><rect x="226.83" width="2.45" height="13.3" class="l"/><rect x="230.91" width="2.45" height="13.3" class="l"/><rect x="234.99" width="2.45" height="13.3" class="l"/><rect x="239.06" width="2.45" height="13.3" class="l"/><rect x="243.14" width="2.45" height="13.3" class="l"/><rect x="247.22" width="2.45" height="13.3" class="l"/><rect x="251.29" width="2.45" height="13.3" class="l"/><rect x="255.37" width="2.45" height="13.3" class="y"/><rect x="259.45" width="2.45" height="13.3" class="l"/><rect x="263.53" width="2.45" height="13.3" class="l"/><rect x="267.6" width="2.45" height="13.3" class="l"/><rect x="271.68" width="2.45" height="13.3" class="l"/><rect x="275.76" width="2.45" height="13.3" class="l"/><rect x="279.83" width="2.45" height="13.3" class="l"/><rect x="283.91" width="2.45" height="13.3" class="l"/><rect x="287.99" width="2.45" height="13.3" class="l"/><rect x="292.06" width="2.45" height="13.3" class="l"/><rect x="296.14" width="2.45" height="13.3" class="l"/><rect x="300.22" width="2.45" height="13.3" class="l"/><rect x="304.3" width="2.45" height="13.3" class="l"/><rect x="308.37" width="2.45" height="13.3" class="l"/><rect x="312.45" width="2.45" height="13.3" class="l"/><rect x="316.53" width="2.45" height="13.3" class="l"/><rect x="320.6" width="2.45" height="13.3" class="l"/><rect x="324.68" width="2.45" height="13.3" class="l"/><rect x="328.76" width="2.45" height="13.3" class="l"/><rect x="332.83" width="2.45" height="13.3" class="l"/><rect x="336.91" width="2.45" height="13.3" class="l"/><rect x="340.99" width="2.45" height="13.3" class="l"/><rect x="345.07" width="2.45" height="13.3" class="y"/><rect x="349.14" width="2.45" height="13.3" class="l"/><rect x="353.22" width="2.45" height="13.3" class="l"/><rect x="357.3" width="2.45" height="13.3" class="l"/><rect x="361.37" width="2.45" height="13.3" class="y"/><rect x="365.45" width="2.45" height="13.3" class="y"/><rect x="369.53" width="2.45" height="13.3" class="y"/><rect x="373.61" width="2.45" height="13.3" class="y"/><rect x="377.68" width="2.45" height="13.3" class="l"/><rect x="381.76" width="2.45" height="13.3" class="l"/><rect x="385.84" width="2.45" height="13.3" class="l"/><rect x="389.91" width="2.45" height="13.3" class="l"/><rect x="393.99" width="2.45" height="13.3" class="l"/><rect x="398.07" width="2.45" height="13.3" class="l"/><rect x="402.14" width="2.45" height="13.3" class="l"/><rect x="406.22" width="2.45" height="13.3" class="l"/><rect x="410.3" width="2.45" height="13.3" class="l"/><rect x="414.38" width="2.45" height="13.3" class="l"/><rect x="418.45" width="2.45" height="13.3" class="l"/><rect x="422.53" width="2.45" height="13.3" class="l"/><rect x="426.61" width="2.45" height="13.3" class="l"/><rect x="430.68" width="2.45" height="13.3" class="l"/><rect x="434.76" width="2.45" height="13.3" class="l"/><rect x="438.84" width="2.45" height="13.3" class="l"/><rect x="442.91" width="2.45" height="13.3" class="l"/><rect x="446.99" width="2.45" height="13.3" class="l"/><rect x="451.07" width="2.45" height="13.3" class="l"/><rect x="455.14" width="2.45" height="13.3" class="l"/><rect x="459.22" width="2.45" height="13.3" class="l"/><rect x="463.3" width="2.45" height="13.3" class="l"/><rect x="467.38" width="2.45" height="13.3" class="l"/><rect x="471.45" width="2.45" height="13.3" class="l"/><rect x="475.53" width="2.45" height="13.3" class="l"/><rect x="479.61" width="2.45" height="13.3" class="l"/><rect x="483.68" width="2.45" height="13.3" class="l"/><rect x="487.76" width="2.45" height="13.3" class="l"/><rect x="491.84" width="2.45" height="13.3" class="l"/><rect x="495.91" width="2.45" height="13.3" class="l"/><rect x="499.99" width="2.45" height="13.3" class="l"/><rect x="504.07" width="2.45" height="13.3" class="l"/><rect x="508.15" width="2.45" height="13.3" class="l"/><rect x="512.22" width="2.45" height="13.3" class="l"/><rect x="516.3" width="2.45" height="13.3" class="l"/></g>
<text class="g" transform="translate(104.5,277.34) scale(0.95,1)" text-anchor="end">PTPN11</text>
<g transform="translate(0,283.73)"><rect x="108.6" width="2.45" height="13.3" class="l"/><rect x="112.68" width="2.45" height="13.3" class="l"/><rect x="116.75" width="2.45" height="13.3" class="l"/><rect x="120.83" width="2.45" height="13.3" class="l"/><rect x="124.91" width="2.45" height="13.3" class="l"/><rect x="128.98" width="2.45" height="13.3" class="l"/><rect x="133.06" width="2.45" height="13.3" class="l"/><rect x="137.14" width="2.45" height="13.3" class="l"/><rect x="141.22" width="2.45" height="13.3" class="l"/><rect x="145.29" width="2.45" height="13.3" class="l"/><rect x="149.37" width="2.45" height="13.3" class="l"/><rect x="153.45" width="2.45" height="13.3" class="l"/><rect x="157.52" width="2.45" height="13.3" class="l"/><rect x="161.6" width="2.45" height="13.3" class="l"/><rect x="165.68" width="2.45" height="13.3" class="y"/><rect x="169.75" width="2.45" height="13.3" class="l"/><rect x="173.83" width="2.45" height="13.3" class="l"/><rect x="177.91" width="2.45" height="13.3" class="y"/><rect x="181.99" width="2.45" height="13.3" class="l"/><rect x="186.06" width="2.45" height="13.3" class="l"/><rect x="190.14" width="2.45" height="13.3" class="l"/><rect x="194.22" width="2.45" height="13.3" class="l"/><rect x="198.29" width="2.45" height="13.3" class="l"/><rect x="202.37" width="2.45" height="13.3" class="l"/><rect x="206.45" width="2.45" height="13.3" class="l"/><rect x="210.52" width="2.45" height="13.3" class="y"/><rect x="214.6" width="2.45" height="13.3" class="l"/><rect x="218.68" width="2.45" height="13.3" class="l"/><rect x="222.76" width="2.45" height="13.3" class="l"/><rect x="226.83" width="2.45" height="13.3" class="l"/><rect x="230.91" width="2.45" height="13.3" class="l"/><rect x="234.99" width="2.45" height="13.3" class="l"/><rect x="239.06" width="2.45" height="13.3" class="l"/><rect x="243.14" width="2.45" height="13.3" class="l"/><rect x="247.22" width="2.45" height="13.3" class="l"/><rect x="251.29" width="2.45" height="13.3" class="l"/><rect x="255.37" width="2.45" height="13.3" class="l"/><rect x="259.45" width="2.45" height="13.3" class="l"/><rect x="263.53" width="2.45" height="13.3" class="l"/><rect x="267.6" width="2.45" height="13.3" class="l"/><rect x="271.68" width="2.45" height="13.3" class="l"/><rect x="275.76" width="2.45" height="13.3" class="l"/><rect x="279.83" width="2.45" height="13.3" class="l"/><rect x="283.91" width="2.45" height="13.3" class="l"/><rect x="287.99" width="2.45" height="13.3" class="l"/><rect x="292.06" width="2.45" height="13.3" class="l"/><rect x="296.14" width="2.45" height="13.3" class="l"/><rect x="300.22" width="2.45" height="13.3" class="l"/><rect x="304.3" width="2.45" height="13.3" class="l"/><rect x="308.37" width="2.45" height="13.3" class="l"/><rect x="312.45" width="2.45" height="13.3" class="l"/><rect x="316.53" width="2.45" height="13.3" class="l"/><rect x="320.6" width="2.45" height="13.3" class="l"/><rect x="324.68" width="2.45" height="13.3" class="l"/><rect x="328.76" width="2.45" height="13.3" class="l"/><rect x="332.83" width="2.45" height="13.3" class="l"/><rect x="336.91" width="2.45" height="13.3" class="l"/><rect x="340.99" width="2.45" height="13.3" class="l"/><rect x="345.07" width="2.45" height="13.3" class="l"/><rect x="349.14" width="2.45" height="13.3" class="l"/><rect x="353.22" width="2.45" height="13.3" class="l"/><rect x="357.3" width="2.45" height="13.3" class="l"/><rect x="361.37" width="2.45" height="13.3" class="l"/><rect x="365.45" width="2.45" height="13.3" class="l"/><rect x="369.53" width="2.45" height="13.3" class="l"/><rect x="373.61" width="2.45" height="13.3" class="l"/><rect x="377.68" width="2.45" height="13.3" class="l"/><rect x="381.76" width="2.45" height="13.3" class="l"/><rect x="385.84" width="2.45" height="13.3" class="l"/><rect x="389.91" width="2.45" height="13.3" class="l"/><rect x="393.99" width="2.45" height="13.3" class="l"/><rect x="398.07" width="2.45" height="13.3" class="l"/><rect x="402.14" width="2.45" height="13.3" class="l"/><rect x="406.22" width="2.45" height="13.3" class="l"/><rect x="410.3" width="2.45" height="13.3" class="l"/><rect x="414.38" width="2.45" height="13.3" class="l"/><rect x="418.45" width="2.45" height="13.3" class="l"/><rect x="422.53" width="2.45" height="13.3" class="l"/><rect x="426.61" width="2.45" height="13.3" class="l"/><rect x="430.68" width="2.45" height="13.3" class="l"/><rect x="434.76" width="2.45" height="13.3" class="l"/><rect x="438.84" width="2.45" height="13.3" class="l"/><rect x="442.91" width="2.45" height="13.3" class="l"/><rect x="446.99" width="2.45" height="13.3" class="l"/><rect x="451.07" width="2.45" height="13.3" class="l"/><rect x="455.14" width="2.45" height="13.3" class="l"/><rect x="459.22" width="2.45" height="13.3" class="l"/><rect x="463.3" width="2.45" height="13.3" class="l"/><rect x="467.38" width="2.45" height="13.3" class="l"/><rect x="471.45" width="2.45" height="13.3" class="l"/><rect x="475.53" width="2.45" height="13.3" class="l"/><rect x="479.61" width="2.45" height="13.3" class="l"/><rect x="483.68" width="2.45" height="13.3" class="l"/><rect x="487.76" width="2.45" height="13.3" class="l"/><rect x="491.84" width="2.45" height="13.3" class="l"/><rect x="495.91" width="2.45" height="13.3" class="l"/><rect x="499.99" width="2.45" height="13.3" class="l"/><rect x="504.07" width="2.45" height="13.3" class="l"/><rect x="508.15" width="2.45" height="13.3" class="y"/><rect x="512.22" width="2.45" height="13.3" class="l"/><rect x="516.3" width="2.45" height="13.3" class="l"/></g>
<text class="g" transform="translate(104.5,292.63) scale(0.95,1)" text-anchor="end">NF1</text>
<g transform="translate(0,299.02)"><rect x="108.6" width="2.45" height="13.3" class="l"/><rect x="112.68" width="2.45" height="13.3" class="l"/><rect x="116.75" width="2.45" height="13.3" class="l"/><rect x="120.83" width="2.45" height="13.3" class="l"/><rect x="124.91" width="2.45" height="13.3" class="l"/><rect x="128.98" width="2.45" height="13.3" class="l"/><rect x="133.06" width="2.45" height="13.3" class="l"/><rect x="137.14" width="2.45" height="13.3" class="l"/><rect x="141.22" width="2.45" height="13.3" class="l"/><rect x="145.29" width="2.45" height="13.3" class="l"/><rect x="149.37" width="2.45" height="13.3" class="l"/><rect x="153.45" width="2.45" height="13.3" class="l"/><rect x="157.52" width="2.45" height="13.3" class="l"/><rect x="161.6" width="2.45" height="13.3" class="l"/><rect x="165.68" width="2.45" height="13.3" class="l"/><rect x="169.75" width="2.45" height="13.3" class="l"/><rect x="173.83" width="2.45" height="13.3" class="l"/><rect x="177.91" width="2.45" height="13.3" class="l"/><rect x="181.99" width="2.45" height="13.3" class="l"/><rect x="186.06" width="2.45" height="13.3" class="l"/><rect x="190.14" width="2.45" height="13.3" class="l"/><rect x="194.22" width="2.45" height="13.3" class="l"/><rect x="198.29" width="2.45" height="13.3" class="l"/><rect x="202.37" width="2.45" height="13.3" class="l"/><rect x="206.45" width="2.45" height="13.3" class="l"/><rect x="210.52" width="2.45" height="13.3" class="y"/><rect x="214.6" width="2.45" height="13.3" class="l"/><rect x="218.68" width="2.45" height="13.3" class="l"/><rect x="222.76" width="2.45" height="13.3" class="l"/><rect x="226.83" width="2.45" height="13.3" class="l"/><rect x="230.91" width="2.45" height="13.3" class="l"/><rect x="234.99" width="2.45" height="13.3" class="l"/><rect x="239.06" width="2.45" height="13.3" class="l"/><rect x="243.14" width="2.45" height="13.3" class="l"/><rect x="247.22" width="2.45" height="13.3" class="l"/><rect x="251.29" width="2.45" height="13.3" class="l"/><rect x="255.37" width="2.45" height="13.3" class="l"/><rect x="259.45" width="2.45" height="13.3" class="l"/><rect x="263.53" width="2.45" height="13.3" class="l"/><rect x="267.6" width="2.45" height="13.3" class="l"/><rect x="271.68" width="2.45" height="13.3" class="l"/><rect x="275.76" width="2.45" height="13.3" class="l"/><rect x="279.83" width="2.45" height="13.3" class="l"/><rect x="283.91" width="2.45" height="13.3" class="l"/><rect x="287.99" width="2.45" height="13.3" class="l"/><rect x="292.06" width="2.45" height="13.3" class="l"/><rect x="296.14" width="2.45" height="13.3" class="l"/><rect x="300.22" width="2.45" height="13.3" class="l"/><rect x="304.3" width="2.45" height="13.3" class="l"/><rect x="308.37" width="2.45" height="13.3" class="l"/><rect x="312.45" width="2.45" height="13.3" class="l"/><rect x="316.53" width="2.45" height="13.3" class="l"/><rect x="320.6" width="2.45" height="13.3" class="y"/><rect x="324.68" width="2.45" height="13.3" class="l"/><rect x="328.76" width="2.45" height="13.3" class="l"/><rect x="332.83" width="2.45" height="13.3" class="l"/><rect x="336.91" width="2.45" height="13.3" class="l"/><rect x="340.99" width="2.45" height="13.3" class="l"/><rect x="345.07" width="2.45" height="13.3" class="y"/><rect x="349.14" width="2.45" height="13.3" class="l"/><rect x="353.22" width="2.45" height="13.3" class="l"/><rect x="357.3" width="2.45" height="13.3" class="l"/><rect x="361.37" width="2.45" height="13.3" class="l"/><rect x="365.45" width="2.45" height="13.3" class="l"/><rect x="369.53" width="2.45" height="13.3" class="l"/><rect x="373.61" width="2.45" height="13.3" class="l"/><rect x="377.68" width="2.45" height="13.3" class="y"/><rect x="381.76" width="2.45" height="13.3" class="l"/><rect x="385.84" width="2.45" height="13.3" class="l"/><rect x="389.91" width="2.45" height="13.3" class="l"/><rect x="393.99" width="2.45" height="13.3" class="l"/><rect x="398.07" width="2.45" height="13.3" class="l"/><rect x="402.14" width="2.45" height="13.3" class="l"/><rect x="406.22" width="2.45" height="13.3" class="l"/><rect x="410.3" width="2.45" height="13.3" class="l"/><rect x="414.38" width="2.45" height="13.3" class="l"/><rect x="418.45" width="2.45" height="13.3" class="l"/><rect x="422.53" width="2.45" height="13.3" class="l"/><rect x="426.61" width="2.45" height="13.3" class="l"/><rect x="430.68" width="2.45" height="13.3" class="l"/><rect x="434.76" width="2.45" height="13.3" class="l"/><rect x="438.84" width="2.45" height="13.3" class="l"/><rect x="442.91" width="2.45" height="13.3" class="l"/><rect x="446.99" width="2.45" height="13.3" class="l"/><rect x="451.07" width="2.45" height="13.3" class="l"/><rect x="455.14" width="2.45" height="13.3" class="l"/><rect x="459.22" width="2.45" height="13.3" class="l"/><rect x="463.3" width="2.45" height="13.3" class="l"/><rect x="467.38" width="2.45" height="13.3" class="l"/><rect x="471.45" width="2.45" height="13.3" class="l"/><rect x="475.53" width="2.45" height="13.3" class="l"/><rect x="479.61" width="2.45" height="13.3" class="l"/><rect x="483.68" width="2.45" height="13.3" class="l"/><rect x="487.76" width="2.45" height="13.3" class="l"/><rect x="491.84" width="2.45" height="13.3" class="l"/><rect x="495.91" width="2.45" height="13.3" class="l"/><rect x="499.99" width="2.45" height="13.3" class="l"/><rect x="504.07" width="2.45" height="13.3" class="l"/><rect x="508.15" width="2.45" height="13.3" class="l"/><rect x="512.22" width="2.45" height="13.3" class="l"/><rect x="516.3" width="2.45" height="13.3" class="l"/></g>
<text class="g" transform="translate(104.5,307.92) scale(0.95,1)" text-anchor="end">CBL</text>
<g transform="translate(0,314.31)"><rect x="108.6" width="2.45" height="13.3" class="l"/><rect x="112.68" width="2.45" height="13.3" class="l"/><rect x="116.75" width="2.45" height="13.3" class="l"/><rect x="120.83" width="2.45" height="13.3" class="l"/><rect x="124.91" width="2.45" height="13.3" class="l"/><rect x="128.98" width="2.45" height="13.3" class="l"/><rect x="133.06" width="2.45" height="13.3" class="l"/><rect x="137.14" width="2.45" height="13.3" class="l"/><rect x="141.22" width="2.45" height="13.3" class="l"/><rect x="145.29" width="2.45" height="13.3" class="l"/><rect x="149.37" width="2.45" height="13.3" class="l"/><rect x="153.45" width="2.45" height="13.3" class="l"/><rect x="157.52" width="2.45" height="13.3" class="l"/><rect x="161.6" width="2.45" height="13.3" class="l"/><rect x="165.68" width="2.45" height="13.3" class="l"/><rect x="169.75" width="2.45" height="13.3" class="l"/><rect x="173.83" width="2.45" height="13.3" class="l"/><rect x="177.91" width="2.45" height="13.3" class="l"/><rect x="181.99" width="2.45" height="13.3" class="l"/><rect x="186.06" width="2.45" height="13.3" class="l"/><rect x="190.14" width="2.45" height="13.3" class="l"/><rect x="194.22" width="2.45" height="13.3" class="l"/><rect x="198.29" width="2.45" height="13.3" class="l"/><rect x="202.37" width="2.45" height="13.3" class="l"/><rect x="206.45" width="2.45" height="13.3" class="l"/><rect x="210.52" width="2.45" height="13.3" class="l"/><rect x="214.6" width="2.45" height="13.3" class="l"/><rect x="218.68" width="2.45" height="13.3" class="l"/><rect x="222.76" width="2.45" height="13.3" class="l"/><rect x="226.83" width="2.45" height="13.3" class="l"/><rect x="230.91" width="2.45" height="13.3" class="l"/><rect x="234.99" width="2.45" height="13.3" class="l"/><rect x="239.06" width="2.45" height="13.3" class="l"/><rect x="243.14" width="2.45" height="13.3" class="l"/><rect x="247.22" width="2.45" height="13.3" class="l"/><rect x="251.29" width="2.45" height="13.3" class="l"/><rect x="255.37" width="2.45" height="13.3" class="l"/><rect x="259.45" width="2.45" height="13.3" class="l"/><rect x="263.53" width="2.45" height="13.3" class="l"/><rect x="267.6" width="2.45" height="13.3" class="l"/><rect x="271.68" width="2.45" height="13.3" class="l"/><rect x="275.76" width="2.45" height="13.3" class="l"/><rect x="279.83" width="2.45" height="13.3" class="l"/><rect x="283.91" width="2.45" height="13.3" class="l"/><rect x="287.99" width="2.45" height="13.3" class="l"/><rect x="292.06" width="2.45" height="13.3" class="l"/><rect x="296.14" width="2.45" height="13.3" class="l"/><rect x="300.22" width="2.45" height="13.3" class="l"/><rect x="304.3" width="2.45" height="13.3" class="l"/><rect x="308.37" width="2.45" height="13.3" class="l"/><rect x="312.45" width="2.45" height="13.3" class="l"/><rect x="316.53" width="2.45" height="13.3" class="l"/><rect x="320.6" width="2.45" height="13.3" class="l"/><rect x="324.68" width="2.45" height="13.3" class="l"/><rect x="328.76" width="2.45" height="13.3" class="l"/><rect x="332.83" width="2.45" height="13.3" class="l"/><rect x="336.91" width="2.45" height="13.3" class="l"/><rect x="340.99" width="2.45" height="13.3" class="l"/><rect x="345.07" width="2.45" height="13.3" class="l"/><rect x="349.14" width="2.45" height="13.3" class="l"/><rect x="353.22" width="2.45" height="13.3" class="l"/><rect x="357.3" width="2.45" height="13.3" class="l"/><rect x="361.37" width="2.45" height="13.3" class="l"/><rect x="365.45" width="2.45" height="13.3" class="l"/><rect x="369.53" width="2.45" height="13.3" class="l"/><rect x="373.61" width="2.45" height="13.3" class="l"/><rect x="377.68" width="2.45" height="13.3" class="l"/><rect x="381.76" width="2.45" height="13.3" class="l"/><rect x="385.84" width="2.45" height="13.3" class="l"/><rect x="389.91" width="2.45" height="13.3" class="l"/><rect x="393.99" width="2.45" height="13.3" class="l"/><rect x="398.07" width="2.45" height="13.3" class="l"/><rect x="402.14" width="2.45" height="13.3" class="l"/><rect x="406.22" width="2.45" height="13.3" class="l"/><rect x="410.3" width="2.45" height="13.3" class="l"/><rect x="414.38" width="2.45" height="13.3" class="l"/><rect x="418.45" width="2.45" height="13.3" class="l"/><rect x="422.53" width="2.45" height="13.3" class="l"/><rect x="426.61" width="2.45" height="13.3" class="l"/><rect x="430.68" width="2.45" height="13.3" class="l"/><rect x="434.76" width="2.45" height="13.3" class="l"/><rect x="438.84" width="2.45" height="13.3" class="l"/><rect x="442.91" width="2.45" height="13.3" class="l"/><rect x="446.99" width="2.45" height="13.3" class="l"/><rect x="451.07" width="2.45" height="13.3" class="l"/><rect x="455.14" width="2.45" height="13.3" class="l"/><rect x="459.22" width="2.45" height="13.3" class="l"/><rect x="463.3" width="2.45" height="13.3" class="l"/><rect x="467.38" width="2.45" height="13.3" class="l"/><rect x="471.45" width="2.45" height="13.3" class="l"/><rect x="475.53" width="2.45" height="13.3" class="l"/><rect x="479.61" width="2.45" height="13.3" class="l"/><rect x="483.68" width="2.45" height="13.3" class="l"/><rect x="487.76" width="2.45" height="13.3" class="l"/><rect x="491.84" width="2.45" height="13.3" class="l"/><rect x="495.91" width="2.45" height="13.3" class="y"/><rect x="499.99" width="2.45" height="13.3" class="l"/><rect x="504.07" width="2.45" height="13.3" class="l"/><rect x="508.15" width="2.45" height="13.3" class="l"/><rect x="512.22" width="2.45" height="13.3" class="y"/><rect x="516.3" width="2.45" height="13.3" class="l"/></g>
<text class="g" transform="translate(104.5,323.21) scale(0.95,1)" text-anchor="end">KIT</text>
<g transform="translate(0,329.6)"><rect x="108.6" width="2.45" height="13.3" class="l"/><rect x="112.68" width="2.45" height="13.3" class="l"/><rect x="116.75" width="2.45" height="13.3" class="l"/><rect x="120.83" width="2.45" height="13.3" class="l"/><rect x="124.91" width="2.45" height="13.3" class="l"/><rect x="128.98" width="2.45" height="13.3" class="y"/><rect x="133.06" width="2.45" height="13.3" class="l"/><rect x="137.14" width="2.45" height="13.3" class="l"/><rect x="141.22" width="2.45" height="13.3" class="l"/><rect x="145.29" width="2.45" height="13.3" class="l"/><rect x="149.37" width="2.45" height="13.3" class="l"/><rect x="153.45" width="2.45" height="13.3" class="y"/><rect x="157.52" width="2.45" height="13.3" class="l"/><rect x="161.6" width="2.45" height="13.3" class="l"/><rect x="165.68" width="2.45" height="13.3" class="l"/><rect x="169.75" width="2.45" height="13.3" class="l"/><rect x="173.83" width="2.45" height="13.3" class="l"/><rect x="177.91" width="2.45" height="13.3" class="y"/><rect x="181.99" width="2.45" height="13.3" class="l"/><rect x="186.06" width="2.45" height="13.3" class="l"/><rect x="190.14" width="2.45" height="13.3" class="l"/><rect x="194.22" width="2.45" height="13.3" class="l"/><rect x="198.29" width="2.45" height="13.3" class="l"/><rect x="202.37" width="2.45" height="13.3" class="l"/><rect x="206.45" width="2.45" height="13.3" class="l"/><rect x="210.52" width="2.45" height="13.3" class="l"/><rect x="214.6" width="2.45" height="13.3" class="l"/><rect x="218.68" width="2.45" height="13.3" class="l"/><rect x="222.76" width="2.45" height="13.3" class="y"/><rect x="226.83" width="2.45" height="13.3" class="l"/><rect x="230.91" width="2.45" height="13.3" class="l"/><rect x="234.99" width="2.45" height="13.3" class="l"/><rect x="239.06" width="2.45" height="13.3" class="l"/><rect x="243.14" width="2.45" height="13.3" class="l"/><rect x="247.22" width="2.45" height="13.3" class="l"/><rect x="251.29" width="2.45" height="13.3" class="l"/><rect x="255.37" width="2.45" height="13.3" class="l"/><rect x="259.45" width="2.45" height="13.3" class="y"/><rect x="263.53" width="2.45" height="13.3" class="l"/><rect x="267.6" width="2.45" height="13.3" class="l"/><rect x="271.68" width="2.45" height="13.3" class="l"/><rect x="275.76" width="2.45" height="13.3" class="l"/><rect x="279.83" width="2.45" height="13.3" class="l"/><rect x="283.91" width="2.45" height="13.3" class="l"/><rect x="287.99" width="2.45" height="13.3" class="l"/><rect x="292.06" width="2.45" height="13.3" class="l"/><rect x="296.14" width="2.45" height="13.3" class="l"/><rect x="300.22" width="2.45" height="13.3" class="l"/><rect x="304.3" width="2.45" height="13.3" class="l"/><rect x="308.37" width="2.45" height="13.3" class="l"/><rect x="312.45" width="2.45" height="13.3" class="l"/><rect x="316.53" width="2.45" height="13.3" class="l"/><rect x="320.6" width="2.45" height="13.3" class="l"/><rect x="324.68" width="2.45" height="13.3" class="l"/><rect x="328.76" width="2.45" height="13.3" class="l"/><rect x="332.83" width="2.45" height="13.3" class="l"/><rect x="336.91" width="2.45" height="13.3" class="l"/><rect x="340.99" width="2.45" height="13.3" class="l"/><rect x="345.07" width="2.45" height="13.3" class="l"/><rect x="349.14" width="2.45" height="13.3" class="y"/><rect x="353.22" width="2.45" height="13.3" class="l"/><rect x="357.3" width="2.45" height="13.3" class="l"/><rect x="361.37" width="2.45" height="13.3" class="l"/><rect x="365.45" width="2.45" height="13.3" class="l"/><rect x="369.53" width="2.45" height="13.3" class="l"/><rect x="373.61" width="2.45" height="13.3" class="l"/><rect x="377.68" width="2.45" height="13.3" class="l"/><rect x="381.76" width="2.45" height="13.3" class="y"/><rect x="385.84" width="2.45" height="13.3" class="y"/><rect x="389.91" width="2.45" height="13.3" class="l"/><rect x="393.99" width="2.45" height="13.3" class="l"/><rect x="398.07" width="2.45" height="13.3" class="y"/><rect x="402.14" width="2.45" height="13.3" class="y"/><rect x="406.22" width="2.45" height="13.3" class="y"/><rect x="410.3" width="2.45" height="13.3" class="l"/><rect x="414.38" width="2.45" height="13.3" class="l"/><rect x="418.45" width="2.45" height="13.3" class="l"/><rect x="422.53" width="2.45" height="13.3" class="l"/><rect x="426.61" width="2.45" height="13.3" class="y"/><rect x="430.68" width="2.45" height="13.3" class="y"/><rect x="434.76" width="2.45" height="13.3" class="l"/><rect x="438.84" width="2.45" height="13.3" class="l"/><rect x="442.91" width="2.45" height="13.3" class="l"/><rect x="446.99" width="2.45" height="13.3" class="l"/><rect x="451.07" width="2.45" height="13.3" class="l"/><rect x="455.14" width="2.45" height="13.3" class="l"/><rect x="459.22" width="2.45" height="13.3" class="l"/><rect x="463.3" width="2.45" height="13.3" class="y"/><rect x="467.38" width="2.45" height="13.3" class="l"/><rect x="471.45" width="2.45" height="13.3" class="l"/><rect x="475.53" width="2.45" height="13.3" class="l"/><rect x="479.61" width="2.45" height="13.3" class="l"/><rect x="483.68" width="2.45" height="13.3" class="l"/><rect x="487.76" width="2.45" height="13.3" class="l"/><rect x="491.84" width="2.45" height="13.3" class="l"/><rect x="495.91" width="2.45" height="13.3" class="l"/><rect x="499.99" width="2.45" height="13.3" class="y"/><rect x="504.07" width="2.45" height="13.3" class="l"/><rect x="508.15" width="2.45" height="13.3" class="l"/><rect x="512.22" width="2.45" height="13.3" class="y"/><rect x="516.3" width="2.45" height="13.3" class="l"/></g>
<text class="g" transform="translate(104.5,338.5) scale(0.95,1)" text-anchor="end">FLT3</text>
<g transform="translate(0,344.89)"><rect x="108.6" width="2.45" height="13.3" class="d"/><rect x="112.68" width="2.45" height="13.3" class="d"/><rect x="116.75" width="2.45" height="13.3" class="d"/><rect x="120.83" width="2.45" height="13.3" class="d"/><rect x="124.91" width="2.45" height="13.3" class="d"/><rect x="128.98" width="2.45" height="13.3" class="y"/><rect x="133.06" width="2.45" height="13.3" class="y"/><rect x="137.14" width="2.45" height="13.3" class="y"/><rect x="141.22" width="2.45" height="13.3" class="y"/><rect x="145.29" width="2.45" height="13.3" class="d"/><rect x="149.37" width="2.45" height="13.3" class="d"/><rect x="153.45" width="2.45" height="13.3" class="d"/><rect x="157.52" width="2.45" height="13.3" class="d"/><rect x="161.6" width="2.45" height="13.3" class="d"/><rect x="165.68" width="2.45" height="13.3" class="d"/><rect x="169.75" width="2.45" height="13.3" class="d"/><rect x="173.83" width="2.45" height="13.3" class="y"/><rect x="177.91" width="2.45" height="13.3" class="d"/><rect x="181.99" width="2.45" height="13.3" class="d"/><rect x="186.06" width="2.45" height="13.3" class="y"/><rect x="190.14" width="2.45" height="13.3" class="d"/><rect x="194.22" width="2.45" height="13.3" class="d"/><rect x="198.29" width="2.45" height="13.3" class="y"/><rect x="202.37" width="2.45" height="13.3" class="d"/><rect x="206.45" width="2.45" height="13.3" class="d"/><rect x="210.52" width="2.45" height="13.3" class="d"/><rect x="214.6" width="2.45" height="13.3" class="d"/><rect x="218.68" width="2.45" height="13.3" class="y"/><rect x="222.76" width="2.45" height="13.3" class="y"/><rect x="226.83" width="2.45" height="13.3" class="d"/><rect x="230.91" width="2.45" height="13.3" class="d"/><rect x="234.99" width="2.45" height="13.3" class="d"/><rect x="239.06" width="2.45" height="13.3" class="d"/><rect x="243.14" width="2.45" height="13.3" class="d"/><rect x="247.22" width="2.45" height="13.3" class="d"/><rect x="251.29" width="2.45" height="13.3" class="d"/><rect x="255.37" width="2.45" height="13.3" class="y"/><rect x="259.45" width="2.45" height="13.3" class="y"/><rect x="263.53" width="2.45" height="13.3" class="y"/><rect x="267.6" width="2.45" height="13.3" class="y"/><rect x="271.68" width="2.45" height="13.3" class="d"/><rect x="275.76" width="2.45" height="13.3" class="d"/><rect x="279.83" width="2.45" height="13.3" class="d"/><rect x="283.91" width="2.45" height="13.3" class="d"/><rect x="287.99" width="2.45" height="13.3" class="d"/><rect x="292.06" width="2.45" height="13.3" class="d"/><rect x="296.14" width="2.45" height="13.3" class="d"/><rect x="300.22" width="2.45" height="13.3" class="d"/><rect x="304.3" width="2.45" height="13.3" class="d"/><rect x="308.37" width="2.45" height="13.3" class="d"/><rect x="312.45" width="2.45" height="13.3" class="d"/><rect x="316.53" width="2.45" height="13.3" class="d"/><rect x="320.6" width="2.45" height="13.3" class="d"/><rect x="324.68" width="2.45" height="13.3" class="y"/><rect x="328.76" width="2.45" height="13.3" class="d"/><rect x="332.83" width="2.45" height="13.3" class="y"/><rect x="336.91" width="2.45" height="13.3" class="d"/><rect x="340.99" width="2.45" height="13.3" class="d"/><rect x="345.07" width="2.45" height="13.3" class="d"/><rect x="349.14" width="2.45" height="13.3" class="d"/><rect x="353.22" width="2.45" height="13.3" class="d"/><rect x="357.3" width="2.45" height="13.3" class="d"/><rect x="361.37" width="2.45" height="13.3" class="y"/><rect x="365.45" width="2.45" height="13.3" class="d"/><rect x="369.53" width="2.45" height="13.3" class="d"/><rect x="373.61" width="2.45" height="13.3" class="d"/><rect x="377.68" width="2.45" height="13.3" class="d"/><rect x="381.76" width="2.45" height="13.3" class="y"/><rect x="385.84" width="2.45" height="13.3" class="y"/><rect x="389.91" width="2.45" height="13.3" class="y"/><rect x="393.99" width="2.45" height="13.3" class="y"/><rect x="398.07" width="2.45" height="13.3" class="y"/><rect x="402.14" width="2.45" height="13.3" class="y"/><rect x="406.22" width="2.45" height="13.3" class="y"/><rect x="410.3" width="2.45" height="13.3" class="y"/><rect x="414.38" width="2.45" height="13.3" class="y"/><rect x="418.45" width="2.45" height="13.3" class="y"/><rect x="422.53" width="2.45" height="13.3" class="d"/><rect x="426.61" width="2.45" height="13.3" class="d"/><rect x="430.68" width="2.45" height="13.3" class="d"/><rect x="434.76" width="2.45" height="13.3" class="d"/><rect x="438.84" width="2.45" height="13.3" class="d"/><rect x="442.91" width="2.45" height="13.3" class="d"/><rect x="446.99" width="2.45" height="13.3" class="d"/><rect x="451.07" width="2.45" height="13.3" class="d"/><rect x="455.14" width="2.45" height="13.3" class="d"/><rect x="459.22" width="2.45" height="13.3" class="d"/><rect x="463.3" width="2.45" height="13.3" class="d"/><rect x="467.38" width="2.45" height="13.3" class="d"/><rect x="471.45" width="2.45" height="13.3" class="y"/><rect x="475.53" width="2.45" height="13.3" class="d"/><rect x="479.61" width="2.45" height="13.3" class="d"/><rect x="483.68" width="2.45" height="13.3" class="d"/><rect x="487.76" width="2.45" height="13.3" class="d"/><rect x="491.84" width="2.45" height="13.3" class="d"/><rect x="495.91" width="2.45" height="13.3" class="d"/><rect x="499.99" width="2.45" height="13.3" class="d"/><rect x="504.07" width="2.45" height="13.3" class="d"/><rect x="508.15" width="2.45" height="13.3" class="d"/><rect x="512.22" width="2.45" height="13.3" class="d"/><rect x="516.3" width="2.45" height="13.3" class="d"/></g>
<text class="g" transform="translate(104.5,353.79) scale(0.95,1)" text-anchor="end">DNMT3A</text>
<g transform="translate(0,360.18)"><rect x="108.6" width="2.45" height="13.3" class="d"/><rect x="112.68" width="2.45" height="13.3" class="d"/><rect x="116.75" width="2.45" height="13.3" class="d"/><rect x="120.83" width="2.45" height="13.3" class="y"/><rect x="124.91" width="2.45" height="13.3" class="d"/><rect x="128.98" width="2.45" height="13.3" class="d"/><rect x="133.06" width="2.45" height="13.3" class="d"/><rect x="137.14" width="2.45" height="13.3" class="y"/><rect x="141.22" width="2.45" height="13.3" class="d"/><rect x="145.29" width="2.45" height="13.3" class="y"/><rect x="149.37" width="2.45" height="13.3" class="y"/><rect x="153.45" width="2.45" height="13.3" class="d"/><rect x="157.52" width="2.45" height="13.3" class="d"/><rect x="161.6" width="2.45" height="13.3" class="d"/><rect x="165.68" width="2.45" height="13.3" class="y"/><rect x="169.75" width="2.45" height="13.3" class="d"/><rect x="173.83" width="2.45" height="13.3" class="d"/><rect x="177.91" width="2.45" height="13.3" class="d"/><rect x="181.99" width="2.45" height="13.3" class="y"/><rect x="186.06" width="2.45" height="13.3" class="d"/><rect x="190.14" width="2.45" height="13.3" class="y"/><rect x="194.22" width="2.45" height="13.3" class="d"/><rect x="198.29" width="2.45" height="13.3" class="d"/><rect x="202.37" width="2.45" height="13.3" class="d"/><rect x="206.45" width="2.45" height="13.3" class="d"/><rect x="210.52" width="2.45" height="13.3" class="d"/><rect x="214.6" width="2.45" height="13.3" class="d"/><rect x="218.68" width="2.45" height="13.3" class="y"/><rect x="222.76" width="2.45" height="13.3" class="d"/><rect x="226.83" width="2.45" height="13.3" class="d"/><rect x="230.91" width="2.45" height="13.3" class="d"/><rect x="234.99" width="2.45" height="13.3" class="d"/><rect x="239.06" width="2.45" height="13.3" class="d"/><rect x="243.14" width="2.45" height="13.3" class="d"/><rect x="247.22" width="2.45" height="13.3" class="d"/><rect x="251.29" width="2.45" height="13.3" class="d"/><rect x="255.37" width="2.45" height="13.3" class="d"/><rect x="259.45" width="2.45" height="13.3" class="d"/><rect x="263.53" width="2.45" height="13.3" class="d"/><rect x="267.6" width="2.45" height="13.3" class="d"/><rect x="271.68" width="2.45" height="13.3" class="d"/><rect x="275.76" width="2.45" height="13.3" class="d"/><rect x="279.83" width="2.45" height="13.3" class="d"/><rect x="283.91" width="2.45" height="13.3" class="d"/><rect x="287.99" width="2.45" height="13.3" class="d"/><rect x="292.06" width="2.45" height="13.3" class="d"/><rect x="296.14" width="2.45" height="13.3" class="d"/><rect x="300.22" width="2.45" height="13.3" class="d"/><rect x="304.3" width="2.45" height="13.3" class="d"/><rect x="308.37" width="2.45" height="13.3" class="d"/><rect x="312.45" width="2.45" height="13.3" class="d"/><rect x="316.53" width="2.45" height="13.3" class="d"/><rect x="320.6" width="2.45" height="13.3" class="d"/><rect x="324.68" width="2.45" height="13.3" class="d"/><rect x="328.76" width="2.45" height="13.3" class="d"/><rect x="332.83" width="2.45" height="13.3" class="d"/><rect x="336.91" width="2.45" height="13.3" class="d"/><rect x="340.99" width="2.45" height="13.3" class="d"/><rect x="345.07" width="2.45" height="13.3" class="d"/><rect x="349.14" width="2.45" height="13.3" class="d"/><rect x="353.22" width="2.45" height="13.3" class="d"/><rect x="357.3" width="2.45" height="13.3" class="d"/><rect x="361.37" width="2.45" height="13.3" class="d"/><rect x="365.45" width="2.45" height="13.3" class="y"/><rect x="369.53" width="2.45" height="13.3" class="d"/><rect x="373.61" width="2.45" height="13.3" class="d"/><rect x="377.68" width="2.45" height="13.3" class="d"/><rect x="381.76" width="2.45" height="13.3" class="y"/><rect x="385.84" width="2.45" height="13.3" class="y"/><rect x="389.91" width="2.45" height="13.3" class="y"/><rect x="393.99" width="2.45" height="13.3" class="y"/><rect x="398.07" width="2.45" height="13.3" class="d"/><rect x="402.14" width="2.45" height="13.3" class="d"/><rect x="406.22" width="2.45" height="13.3" class="d"/><rect x="410.3" width="2.45" height="13.3" class="d"/><rect x="414.38" width="2.45" height="13.3" class="d"/><rect x="418.45" width="2.45" height="13.3" class="d"/><rect x="422.53" width="2.45" height="13.3" class="y"/><rect x="426.61" width="2.45" height="13.3" class="d"/><rect x="430.68" width="2.45" height="13.3" class="d"/><rect x="434.76" width="2.45" height="13.3" class="d"/><rect x="438.84" width="2.45" height="13.3" class="d"/><rect x="442.91" width="2.45" height="13.3" class="d"/><rect x="446.99" width="2.45" height="13.3" class="d"/><rect x="451.07" width="2.45" height="13.3" class="d"/><rect x="455.14" width="2.45" height="13.3" class="d"/><rect x="459.22" width="2.45" height="13.3" class="d"/><rect x="463.3" width="2.45" height="13.3" class="d"/><rect x="467.38" width="2.45" height="13.3" class="d"/><rect x="471.45" width="2.45" height="13.3" class="d"/><rect x="475.53" width="2.45" height="13.3" class="d"/><rect x="479.61" width="2.45" height="13.3" class="d"/><rect x="483.68" width="2.45" height="13.3" class="d"/><rect x="487.76" width="2.45" height="13.3" class="d"/><rect x="491.84" width="2.45" height="13.3" class="d"/><rect x="495.91" width="2.45" height="13.3" class="d"/><rect x="499.99" width="2.45" height="13.3" class="d"/><rect x="504.07" width="2.45" height="13.3" class="d"/><rect x="508.15" width="2.45" height="13.3" class="d"/><rect x="512.22" width="2.45" height="13.3" class="d"/><rect x="516.3" width="2.45" height="13.3" class="d"/></g>
<text class="g" transform="translate(104.5,369.08) scale(0.95,1)" text-anchor="end">TET2</text>
<g transform="translate(0,375.47)"><rect x="108.6" width="2.45" height="13.3" class="y"/><rect x="112.68" width="2.45" height="13.3" class="d"/><rect x="116.75" width="2.45" height="13.3" class="d"/><rect x="120.83" width="2.45" height="13.3" class="d"/><rect x="124.91" width="2.45" height="13.3" class="d"/><rect x="128.98" width="2.45" height="13.3" class="y"/><rect x="133.06" width="2.45" height="13.3" class="d"/><rect x="137.14" width="2.45" height="13.3" class="d"/><rect x="141.22" width="2.45" height="13.3" class="y"/><rect x="145.29" width="2.45" height="13.3" class="d"/><rect x="149.37" width="2.45" height="13.3" class="d"/><rect x="153.45" width="2.45" height="13.3" class="d"/><rect x="157.52" width="2.45" height="13.3" class="d"/><rect x="161.6" width="2.45" height="13.3" class="y"/><rect x="165.68" width="2.45" height="13.3" class="d"/><rect x="169.75" width="2.45" height="13.3" class="d"/><rect x="173.83" width="2.45" height="13.3" class="y"/><rect x="177.91" width="2.45" height="13.3" class="d"/><rect x="181.99" width="2.45" height="13.3" class="y"/><rect x="186.06" width="2.45" height="13.3" class="y"/><rect x="190.14" width="2.45" height="13.3" class="d"/><rect x="194.22" width="2.45" height="13.3" class="d"/><rect x="198.29" width="2.45" height="13.3" class="y"/><rect x="202.37" width="2.45" height="13.3" class="y"/><rect x="206.45" width="2.45" height="13.3" class="d"/><rect x="210.52" width="2.45" height="13.3" class="d"/><rect x="214.6" width="2.45" height="13.3" class="d"/><rect x="218.68" width="2.45" height="13.3" class="d"/><rect x="222.76" width="2.45" height="13.3" class="d"/><rect x="226.83" width="2.45" height="13.3" class="y"/><rect x="230.91" width="2.45" height="13.3" class="d"/><rect x="234.99" width="2.45" height="13.3" class="d"/><rect x="239.06" width="2.45" height="13.3" class="d"/><rect x="243.14" width="2.45" height="13.3" class="d"/><rect x="247.22" width="2.45" height="13.3" class="d"/><rect x="251.29" width="2.45" height="13.3" class="d"/><rect x="255.37" width="2.45" height="13.3" class="d"/><rect x="259.45" width="2.45" height="13.3" class="d"/><rect x="263.53" width="2.45" height="13.3" class="d"/><rect x="267.6" width="2.45" height="13.3" class="d"/><rect x="271.68" width="2.45" height="13.3" class="y"/><rect x="275.76" width="2.45" height="13.3" class="d"/><rect x="279.83" width="2.45" height="13.3" class="d"/><rect x="283.91" width="2.45" height="13.3" class="d"/><rect x="287.99" width="2.45" height="13.3" class="d"/><rect x="292.06" width="2.45" height="13.3" class="d"/><rect x="296.14" width="2.45" height="13.3" class="d"/><rect x="300.22" width="2.45" height="13.3" class="d"/><rect x="304.3" width="2.45" height="13.3" class="d"/><rect x="308.37" width="2.45" height="13.3" class="d"/><rect x="312.45" width="2.45" height="13.3" class="d"/><rect x="316.53" width="2.45" height="13.3" class="d"/><rect x="320.6" width="2.45" height="13.3" class="d"/><rect x="324.68" width="2.45" height="13.3" class="y"/><rect x="328.76" width="2.45" height="13.3" class="d"/><rect x="332.83" width="2.45" height="13.3" class="y"/><rect x="336.91" width="2.45" height="13.3" class="d"/><rect x="340.99" width="2.45" height="13.3" class="d"/><rect x="345.07" width="2.45" height="13.3" class="d"/><rect x="349.14" width="2.45" height="13.3" class="d"/><rect x="353.22" width="2.45" height="13.3" class="d"/><rect x="357.3" width="2.45" height="13.3" class="d"/><rect x="361.37" width="2.45" height="13.3" class="d"/><rect x="365.45" width="2.45" height="13.3" class="d"/><rect x="369.53" width="2.45" height="13.3" class="d"/><rect x="373.61" width="2.45" height="13.3" class="d"/><rect x="377.68" width="2.45" height="13.3" class="d"/><rect x="381.76" width="2.45" height="13.3" class="d"/><rect x="385.84" width="2.45" height="13.3" class="d"/><rect x="389.91" width="2.45" height="13.3" class="d"/><rect x="393.99" width="2.45" height="13.3" class="d"/><rect x="398.07" width="2.45" height="13.3" class="d"/><rect x="402.14" width="2.45" height="13.3" class="d"/><rect x="406.22" width="2.45" height="13.3" class="d"/><rect x="410.3" width="2.45" height="13.3" class="y"/><rect x="414.38" width="2.45" height="13.3" class="y"/><rect x="418.45" width="2.45" height="13.3" class="d"/><rect x="422.53" width="2.45" height="13.3" class="d"/><rect x="426.61" width="2.45" height="13.3" class="d"/><rect x="430.68" width="2.45" height="13.3" class="d"/><rect x="434.76" width="2.45" height="13.3" class="y"/><rect x="438.84" width="2.45" height="13.3" class="y"/><rect x="442.91" width="2.45" height="13.3" class="d"/><rect x="446.99" width="2.45" height="13.3" class="d"/><rect x="451.07" width="2.45" height="13.3" class="d"/><rect x="455.14" width="2.45" height="13.3" class="d"/><rect x="459.22" width="2.45" height="13.3" class="d"/><rect x="463.3" width="2.45" height="13.3" class="d"/><rect x="467.38" width="2.45" height="13.3" class="d"/><rect x="471.45" width="2.45" height="13.3" class="d"/><rect x="475.53" width="2.45" height="13.3" class="d"/><rect x="479.61" width="2.45" height="13.3" class="d"/><rect x="483.68" width="2.45" height="13.3" class="d"/><rect x="487.76" width="2.45" height="13.3" class="d"/><rect x="491.84" width="2.45" height="13.3" class="d"/><rect x="495.91" width="2.45" height="13.3" class="d"/><rect x="499.99" width="2.45" height="13.3" class="d"/><rect x="504.07" width="2.45" height="13.3" class="d"/><rect x="508.15" width="2.45" height="13.3" class="d"/><rect x="512.22" width="2.45" height="13.3" class="d"/><rect x="516.3" width="2.45" height="13.3" class="d"/></g>
<text class="g" transform="translate(104.5,384.37) scale(0.95,1)" text-anchor="end">IDH1/IDH2</text>
<g transform="translate(0,390.76)"><rect x="108.6" width="2.45" height="13.3" class="l"/><rect x="112.68" width="2.45" height="13.3" class="l"/><rect x="116.75" width="2.45" height="13.3" class="y"/><rect x="120.83" width="2.45" height="13.3" class="l"/><rect x="124.91" width="2.45" height="13.3" class="l"/><rect x="128.98" width="2.45" height="13.3" class="l"/><rect x="133.06" width="2.45" height="13.3" class="l"/><rect x="137.14" width="2.45" height="13.3" class="l"/><rect x="141.22" width="2.45" height="13.3" class="l"/><rect x="145.29" width="2.45" height="13.3" class="l"/><rect x="149.37" width="2.45" height="13.3" class="l"/><rect x="153.45" width="2.45" height="13.3" class="l"/><rect x="157.52" width="2.45" height="13.3" class="l"/><rect x="161.6" width="2.45" height="13.3" class="l"/><rect x="165.68" width="2.45" height="13.3" class="l"/><rect x="169.75" width="2.45" height="13.3" class="l"/><rect x="173.83" width="2.45" height="13.3" class="l"/><rect x="177.91" width="2.45" height="13.3" class="l"/><rect x="181.99" width="2.45" height="13.3" class="l"/><rect x="186.06" width="2.45" height="13.3" class="l"/><rect x="190.14" width="2.45" height="13.3" class="l"/><rect x="194.22" width="2.45" height="13.3" class="l"/><rect x="198.29" width="2.45" height="13.3" class="l"/><rect x="202.37" width="2.45" height="13.3" class="l"/><rect x="206.45" width="2.45" height="13.3" class="l"/><rect x="210.52" width="2.45" height="13.3" class="y"/><rect x="214.6" width="2.45" height="13.3" class="l"/><rect x="218.68" width="2.45" height="13.3" class="l"/><rect x="222.76" width="2.45" height="13.3" class="l"/><rect x="226.83" width="2.45" height="13.3" class="l"/><rect x="230.91" width="2.45" height="13.3" class="l"/><rect x="234.99" width="2.45" height="13.3" class="l"/><rect x="239.06" width="2.45" height="13.3" class="l"/><rect x="243.14" width="2.45" height="13.3" class="l"/><rect x="247.22" width="2.45" height="13.3" class="l"/><rect x="251.29" width="2.45" height="13.3" class="l"/><rect x="255.37" width="2.45" height="13.3" class="l"/><rect x="259.45" width="2.45" height="13.3" class="l"/><rect x="263.53" width="2.45" height="13.3" class="l"/><rect x="267.6" width="2.45" height="13.3" class="l"/><rect x="271.68" width="2.45" height="13.3" class="l"/><rect x="275.76" width="2.45" height="13.3" class="l"/><rect x="279.83" width="2.45" height="13.3" class="l"/><rect x="283.91" width="2.45" height="13.3" class="l"/><rect x="287.99" width="2.45" height="13.3" class="l"/><rect x="292.06" width="2.45" height="13.3" class="l"/><rect x="296.14" width="2.45" height="13.3" class="l"/><rect x="300.22" width="2.45" height="13.3" class="l"/><rect x="304.3" width="2.45" height="13.3" class="l"/><rect x="308.37" width="2.45" height="13.3" class="l"/><rect x="312.45" width="2.45" height="13.3" class="l"/><rect x="316.53" width="2.45" height="13.3" class="l"/><rect x="320.6" width="2.45" height="13.3" class="l"/><rect x="324.68" width="2.45" height="13.3" class="l"/><rect x="328.76" width="2.45" height="13.3" class="l"/><rect x="332.83" width="2.45" height="13.3" class="l"/><rect x="336.91" width="2.45" height="13.3" class="l"/><rect x="340.99" width="2.45" height="13.3" class="y"/><rect x="345.07" width="2.45" height="13.3" class="l"/><rect x="349.14" width="2.45" height="13.3" class="l"/><rect x="353.22" width="2.45" height="13.3" class="l"/><rect x="357.3" width="2.45" height="13.3" class="l"/><rect x="361.37" width="2.45" height="13.3" class="l"/><rect x="365.45" width="2.45" height="13.3" class="l"/><rect x="369.53" width="2.45" height="13.3" class="l"/><rect x="373.61" width="2.45" height="13.3" class="l"/><rect x="377.68" width="2.45" height="13.3" class="l"/><rect x="381.76" width="2.45" height="13.3" class="l"/><rect x="385.84" width="2.45" height="13.3" class="l"/><rect x="389.91" width="2.45" height="13.3" class="l"/><rect x="393.99" width="2.45" height="13.3" class="l"/><rect x="398.07" width="2.45" height="13.3" class="l"/><rect x="402.14" width="2.45" height="13.3" class="l"/><rect x="406.22" width="2.45" height="13.3" class="l"/><rect x="410.3" width="2.45" height="13.3" class="l"/><rect x="414.38" width="2.45" height="13.3" class="l"/><rect x="418.45" width="2.45" height="13.3" class="l"/><rect x="422.53" width="2.45" height="13.3" class="l"/><rect x="426.61" width="2.45" height="13.3" class="l"/><rect x="430.68" width="2.45" height="13.3" class="l"/><rect x="434.76" width="2.45" height="13.3" class="l"/><rect x="438.84" width="2.45" height="13.3" class="l"/><rect x="442.91" width="2.45" height="13.3" class="l"/><rect x="446.99" width="2.45" height="13.3" class="l"/><rect x="451.07" width="2.45" height="13.3" class="l"/><rect x="455.14" width="2.45" height="13.3" class="l"/><rect x="459.22" width="2.45" height="13.3" class="l"/><rect x="463.3" width="2.45" height="13.3" class="l"/><rect x="467.38" width="2.45" height="13.3" class="l"/><rect x="471.45" width="2.45" height="13.3" class="l"/><rect x="475.53" width="2.45" height="13.3" class="l"/><rect x="479.61" width="2.45" height="13.3" class="l"/><rect x="483.68" width="2.45" height="13.3" class="l"/><rect x="487.76" width="2.45" height="13.3" class="l"/><rect x="491.84" width="2.45" height="13.3" class="l"/><rect x="495.91" width="2.45" height="13.3" class="l"/><rect x="499.99" width="2.45" height="13.3" class="l"/><rect x="504.07" width="2.45" height="13.3" class="l"/><rect x="508.15" width="2.45" height="13.3" class="l"/><rect x="512.22" width="2.45" height="13.3" class="l"/><rect x="516.3" width="2.45" height="13.3" class="l"/></g>
<text class="g" transform="translate(104.5,399.66) scale(0.95,1)" text-anchor="end">SETBP1</text>
<g transform="translate(0,406.05)"><rect x="108.6" width="2.45" height="13.3" class="d"/><rect x="112.68" width="2.45" height="13.3" class="d"/><rect x="116.75" width="2.45" height="13.3" class="d"/><rect x="120.83" width="2.45" height="13.3" class="d"/><rect x="124.91" width="2.45" height="13.3" class="d"/><rect x="128.98" width="2.45" height="13.3" class="d"/><rect x="133.06" width="2.45" height="13.3" class="d"/><rect x="137.14" width="2.45" height="13.3" class="d"/><rect x="141.22" width="2.45" height="13.3" class="d"/><rect x="145.29" width="2.45" height="13.3" class="d"/><rect x="149.37" width="2.45" height="13.3" class="d"/><rect x="153.45" width="2.45" height="13.3" class="d"/><rect x="157.52" width="2.45" height="13.3" class="d"/><rect x="161.6" width="2.45" height="13.3" class="d"/><rect x="165.68" width="2.45" height="13.3" class="d"/><rect x="169.75" width="2.45" height="13.3" class="d"/><rect x="173.83" width="2.45" height="13.3" class="d"/><rect x="177.91" width="2.45" height="13.3" class="d"/><rect x="181.99" width="2.45" height="13.3" class="d"/><rect x="186.06" width="2.45" height="13.3" class="d"/><rect x="190.14" width="2.45" height="13.3" class="d"/><rect x="194.22" width="2.45" height="13.3" class="d"/><rect x="198.29" width="2.45" height="13.3" class="d"/><rect x="202.37" width="2.45" height="13.3" class="d"/><rect x="206.45" width="2.45" height="13.3" class="d"/><rect x="210.52" width="2.45" height="13.3" class="d"/><rect x="214.6" width="2.45" height="13.3" class="d"/><rect x="218.68" width="2.45" height="13.3" class="d"/><rect x="222.76" width="2.45" height="13.3" class="d"/><rect x="226.83" width="2.45" height="13.3" class="d"/><rect x="230.91" width="2.45" height="13.3" class="d"/><rect x="234.99" width="2.45" height="13.3" class="d"/><rect x="239.06" width="2.45" height="13.3" class="d"/><rect x="243.14" width="2.45" height="13.3" class="d"/><rect x="247.22" width="2.45" height="13.3" class="d"/><rect x="251.29" width="2.45" height="13.3" class="d"/><rect x="255.37" width="2.45" height="13.3" class="d"/><rect x="259.45" width="2.45" height="13.3" class="d"/><rect x="263.53" width="2.45" height="13.3" class="d"/><rect x="267.6" width="2.45" height="13.3" class="d"/><rect x="271.68" width="2.45" height="13.3" class="d"/><rect x="275.76" width="2.45" height="13.3" class="d"/><rect x="279.83" width="2.45" height="13.3" class="d"/><rect x="283.91" width="2.45" height="13.3" class="d"/><rect x="287.99" width="2.45" height="13.3" class="d"/><rect x="292.06" width="2.45" height="13.3" class="d"/><rect x="296.14" width="2.45" height="13.3" class="d"/><rect x="300.22" width="2.45" height="13.3" class="d"/><rect x="304.3" width="2.45" height="13.3" class="d"/><rect x="308.37" width="2.45" height="13.3" class="d"/><rect x="312.45" width="2.45" height="13.3" class="d"/><rect x="316.53" width="2.45" height="13.3" class="d"/><rect x="320.6" width="2.45" height="13.3" class="d"/><rect x="324.68" width="2.45" height="13.3" class="d"/><rect x="328.76" width="2.45" height="13.3" class="d"/><rect x="332.83" width="2.45" height="13.3" class="d"/><rect x="336.91" width="2.45" height="13.3" class="d"/><rect x="340.99" width="2.45" height="13.3" class="d"/><rect x="345.07" width="2.45" height="13.3" class="d"/><rect x="349.14" width="2.45" height="13.3" class="y"/><rect x="353.22" width="2.45" height="13.3" class="d"/><rect x="357.3" width="2.45" height="13.3" class="d"/><rect x="361.37" width="2.45" height="13.3" class="d"/><rect x="365.45" width="2.45" height="13.3" class="d"/><rect x="369.53" width="2.45" height="13.3" class="d"/><rect x="373.61" width="2.45" height="13.3" class="d"/><rect x="377.68" width="2.45" height="13.3" class="d"/><rect x="381.76" width="2.45" height="13.3" class="d"/><rect x="385.84" width="2.45" height="13.3" class="d"/><rect x="389.91" width="2.45" height="13.3" class="d"/><rect x="393.99" width="2.45" height="13.3" class="d"/><rect x="398.07" width="2.45" height="13.3" class="d"/><rect x="402.14" width="2.45" height="13.3" class="d"/><rect x="406.22" width="2.45" height="13.3" class="d"/><rect x="410.3" width="2.45" height="13.3" class="d"/><rect x="414.38" width="2.45" height="13.3" class="d"/><rect x="418.45" width="2.45" height="13.3" class="d"/><rect x="422.53" width="2.45" height="13.3" class="d"/><rect x="426.61" width="2.45" height="13.3" class="y"/><rect x="430.68" width="2.45" height="13.3" class="d"/><rect x="434.76" width="2.45" height="13.3" class="d"/><rect x="438.84" width="2.45" height="13.3" class="d"/><rect x="442.91" width="2.45" height="13.3" class="d"/><rect x="446.99" width="2.45" height="13.3" class="d"/><rect x="451.07" width="2.45" height="13.3" class="d"/><rect x="455.14" width="2.45" height="13.3" class="d"/><rect x="459.22" width="2.45" height="13.3" class="d"/><rect x="463.3" width="2.45" height="13.3" class="d"/><rect x="467.38" width="2.45" height="13.3" class="d"/><rect x="471.45" width="2.45" height="13.3" class="d"/><rect x="475.53" width="2.45" height="13.3" class="d"/><rect x="479.61" width="2.45" height="13.3" class="d"/><rect x="483.68" width="2.45" height="13.3" class="d"/><rect x="487.76" width="2.45" height="13.3" class="d"/><rect x="491.84" width="2.45" height="13.3" class="d"/><rect x="495.91" width="2.45" height="13.3" class="d"/><rect x="499.99" width="2.45" height="13.3" class="d"/><rect x="504.07" width="2.45" height="13.3" class="d"/><rect x="508.15" width="2.45" height="13.3" class="y"/><rect x="512.22" width="2.45" height="13.3" class="d"/><rect x="516.3" width="2.45" height="13.3" class="d"/></g>
<text class="g" transform="translate(104.5,414.95) scale(0.95,1)" text-anchor="end">WT1</text>
<g transform="translate(0,421.34)"><rect x="108.6" width="2.45" height="13.3" class="d"/><rect x="112.68" width="2.45" height="13.3" class="d"/><rect x="116.75" width="2.45" height="13.3" class="d"/><rect x="120.83" width="2.45" height="13.3" class="d"/><rect x="124.91" width="2.45" height="13.3" class="d"/><rect x="128.98" width="2.45" height="13.3" class="d"/><rect x="133.06" width="2.45" height="13.3" class="d"/><rect x="137.14" width="2.45" height="13.3" class="d"/><rect x="141.22" width="2.45" height="13.3" class="d"/><rect x="145.29" width="2.45" height="13.3" class="d"/><rect x="149.37" width="2.45" height="13.3" class="d"/><rect x="153.45" width="2.45" height="13.3" class="d"/><rect x="157.52" width="2.45" height="13.3" class="d"/><rect x="161.6" width="2.45" height="13.3" class="d"/><rect x="165.68" width="2.45" height="13.3" class="d"/><rect x="169.75" width="2.45" height="13.3" class="d"/><rect x="173.83" width="2.45" height="13.3" class="d"/><rect x="177.91" width="2.45" height="13.3" class="d"/><rect x="181.99" width="2.45" height="13.3" class="d"/><rect x="186.06" width="2.45" height="13.3" class="d"/><rect x="190.14" width="2.45" height="13.3" class="d"/><rect x="194.22" width="2.45" height="13.3" class="d"/><rect x="198.29" width="2.45" height="13.3" class="d"/><rect x="202.37" width="2.45" height="13.3" class="d"/><rect x="206.45" width="2.45" height="13.3" class="d"/><rect x="210.52" width="2.45" height="13.3" class="d"/><rect x="214.6" width="2.45" height="13.3" class="d"/><rect x="218.68" width="2.45" height="13.3" class="d"/><rect x="222.76" width="2.45" height="13.3" class="d"/><rect x="226.83" width="2.45" height="13.3" class="d"/><rect x="230.91" width="2.45" height="13.3" class="d"/><rect x="234.99" width="2.45" height="13.3" class="d"/><rect x="239.06" width="2.45" height="13.3" class="d"/><rect x="243.14" width="2.45" height="13.3" class="d"/><rect x="247.22" width="2.45" height="13.3" class="d"/><rect x="251.29" width="2.45" height="13.3" class="d"/><rect x="255.37" width="2.45" height="13.3" class="d"/><rect x="259.45" width="2.45" height="13.3" class="d"/><rect x="263.53" width="2.45" height="13.3" class="d"/><rect x="267.6" width="2.45" height="13.3" class="d"/><rect x="271.68" width="2.45" height="13.3" class="d"/><rect x="275.76" width="2.45" height="13.3" class="d"/><rect x="279.83" width="2.45" height="13.3" class="d"/><rect x="283.91" width="2.45" height="13.3" class="d"/><rect x="287.99" width="2.45" height="13.3" class="d"/><rect x="292.06" width="2.45" height="13.3" class="d"/><rect x="296.14" width="2.45" height="13.3" class="d"/><rect x="300.22" width="2.45" height="13.3" class="d"/><rect x="304.3" width="2.45" height="13.3" class="d"/><rect x="308.37" width="2.45" height="13.3" class="d"/><rect x="312.45" width="2.45" height="13.3" class="d"/><rect x="316.53" width="2.45" height="13.3" class="d"/><rect x="320.6" width="2.45" height="13.3" class="d"/><rect x="324.68" width="2.45" height="13.3" class="d"/><rect x="328.76" width="2.45" height="13.3" class="d"/><rect x="332.83" width="2.45" height="13.3" class="d"/><rect x="336.91" width="2.45" height="13.3" class="d"/><rect x="340.99" width="2.45" height="13.3" class="d"/><rect x="345.07" width="2.45" height="13.3" class="d"/><rect x="349.14" width="2.45" height="13.3" class="d"/><rect x="353.22" width="2.45" height="13.3" class="d"/><rect x="357.3" width="2.45" height="13.3" class="d"/><rect x="361.37" width="2.45" height="13.3" class="d"/><rect x="365.45" width="2.45" height="13.3" class="d"/><rect x="369.53" width="2.45" height="13.3" class="d"/><rect x="373.61" width="2.45" height="13.3" class="d"/><rect x="377.68" width="2.45" height="13.3" class="d"/><rect x="381.76" width="2.45" height="13.3" class="d"/><rect x="385.84" width="2.45" height="13.3" class="d"/><rect x="389.91" width="2.45" height="13.3" class="d"/><rect x="393.99" width="2.45" height="13.3" class="d"/><rect x="398.07" width="2.45" height="13.3" class="d"/><rect x="402.14" width="2.45" height="13.3" class="d"/><rect x="406.22" width="2.45" height="13.3" class="d"/><rect x="410.3" width="2.45" height="13.3" class="d"/><rect x="414.38" width="2.45" height="13.3" class="d"/><rect x="418.45" width="2.45" height="13.3" class="d"/><rect x="422.53" width="2.45" height="13.3" class="d"/><rect x="426.61" width="2.45" height="13.3" class="d"/><rect x="430.68" width="2.45" height="13.3" class="d"/><rect x="434.76" width="2.45" height="13.3" class="d"/><rect x="438.84" width="2.45" height="13.3" class="d"/><rect x="442.91" width="2.45" height="13.3" class="d"/><rect x="446.99" width="2.45" height="13.3" class="d"/><rect x="451.07" width="2.45" height="13.3" class="d"/><rect x="455.14" width="2.45" height="13.3" class="d"/><rect x="459.22" width="2.45" height="13.3" class="d"/><rect x="463.3" width="2.45" height="13.3" class="d"/><rect x="467.38" width="2.45" height="13.3" class="d"/><rect x="471.45" width="2.45" height="13.3" class="d"/><rect x="475.53" width="2.45" height="13.3" class="d"/><rect x="479.61" width="2.45" height="13.3" class="d"/><rect x="483.68" width="2.45" height="13.3" class="d"/><rect x="487.76" width="2.45" height="13.3" class="d"/><rect x="491.84" width="2.45" height="13.3" class="d"/><rect x="495.91" width="2.45" height="13.3" class="d"/><rect x="499.99" width="2.45" height="13.3" class="d"/><rect x="504.07" width="2.45" height="13.3" class="d"/><rect x="508.15" width="2.45" height="13.3" class="y"/><rect x="512.22" width="2.45" height="13.3" class="d"/><rect x="516.3" width="2.45" height="13.3" class="d"/></g>
<text class="g" transform="translate(104.5,430.24) scale(0.95,1)" text-anchor="end">PHF6</text>
<g transform="translate(0,436.63)"><rect x="108.6" width="2.45" height="13.3" class="d"/><rect x="112.68" width="2.45" height="13.3" class="d"/><rect x="116.75" width="2.45" height="13.3" class="d"/><rect x="120.83" width="2.45" height="13.3" class="d"/><rect x="124.91" width="2.45" height="13.3" class="d"/><rect x="128.98" width="2.45" height="13.3" class="d"/><rect x="133.06" width="2.45" height="13.3" class="d"/><rect x="137.14" width="2.45" height="13.3" class="d"/><rect x="141.22" width="2.45" height="13.3" class="d"/><rect x="145.29" width="2.45" height="13.3" class="d"/><rect x="149.37" width="2.45" height="13.3" class="d"/><rect x="153.45" width="2.45" height="13.3" class="d"/><rect x="157.52" width="2.45" height="13.3" class="d"/><rect x="161.6" width="2.45" height="13.3" class="d"/><rect x="165.68" width="2.45" height="13.3" class="d"/><rect x="169.75" width="2.45" height="13.3" class="d"/><rect x="173.83" width="2.45" height="13.3" class="d"/><rect x="177.91" width="2.45" height="13.3" class="d"/><rect x="181.99" width="2.45" height="13.3" class="d"/><rect x="186.06" width="2.45" height="13.3" class="d"/><rect x="190.14" width="2.45" height="13.3" class="d"/><rect x="194.22" width="2.45" height="13.3" class="d"/><rect x="198.29" width="2.45" height="13.3" class="d"/><rect x="202.37" width="2.45" height="13.3" class="d"/><rect x="206.45" width="2.45" height="13.3" class="d"/><rect x="210.52" width="2.45" height="13.3" class="d"/><rect x="214.6" width="2.45" height="13.3" class="d"/><rect x="218.68" width="2.45" height="13.3" class="d"/><rect x="222.76" width="2.45" height="13.3" class="d"/><rect x="226.83" width="2.45" height="13.3" class="d"/><rect x="230.91" width="2.45" height="13.3" class="gr"/><rect x="234.99" width="2.45" height="13.3" class="gr"/><rect x="239.06" width="2.45" height="13.3" class="gr"/><rect x="243.14" width="2.45" height="13.3" class="gr"/><rect x="247.22" width="2.45" height="13.3" class="gr"/><rect x="251.29" width="2.45" height="13.3" class="gr"/><rect x="255.37" width="2.45" height="13.3" class="gr"/><rect x="259.45" width="2.45" height="13.3" class="gr"/><rect x="263.53" width="2.45" height="13.3" class="gr"/><rect x="267.6" width="2.45" height="13.3" class="gr"/><rect x="271.68" width="2.45" height="13.3" class="gr"/><rect x="275.76" width="2.45" height="13.3" class="gr"/><rect x="279.83" width="2.45" height="13.3" class="gr"/><rect x="283.91" width="2.45" height="13.3" class="gr"/><rect x="287.99" width="2.45" height="13.3" class="gr"/><rect x="292.06" width="2.45" height="13.3" class="gr"/><rect x="296.14" width="2.45" height="13.3" class="gr"/><rect x="300.22" width="2.45" height="13.3" class="gr"/><rect x="304.3" width="2.45" height="13.3" class="gr"/><rect x="308.37" width="2.45" height="13.3" class="gr"/><rect x="312.45" width="2.45" height="13.3" class="gr"/><rect x="316.53" width="2.45" height="13.3" class="gr"/><rect x="320.6" width="2.45" height="13.3" class="gr"/><rect x="324.68" width="2.45" height="13.3" class="d"/><rect x="328.76" width="2.45" height="13.3" class="d"/><rect x="332.83" width="2.45" height="13.3" class="d"/><rect x="336.91" width="2.45" height="13.3" class="d"/><rect x="340.99" width="2.45" height="13.3" class="d"/><rect x="345.07" width="2.45" height="13.3" class="d"/><rect x="349.14" width="2.45" height="13.3" class="d"/><rect x="353.22" width="2.45" height="13.3" class="d"/><rect x="357.3" width="2.45" height="13.3" class="d"/><rect x="361.37" width="2.45" height="13.3" class="d"/><rect x="365.45" width="2.45" height="13.3" class="d"/><rect x="369.53" width="2.45" height="13.3" class="d"/><rect x="373.61" width="2.45" height="13.3" class="d"/><rect x="377.68" width="2.45" height="13.3" class="d"/><rect x="381.76" width="2.45" height="13.3" class="d"/><rect x="385.84" width="2.45" height="13.3" class="d"/><rect x="389.91" width="2.45" height="13.3" class="d"/><rect x="393.99" width="2.45" height="13.3" class="d"/><rect x="398.07" width="2.45" height="13.3" class="d"/><rect x="402.14" width="2.45" height="13.3" class="d"/><rect x="406.22" width="2.45" height="13.3" class="d"/><rect x="410.3" width="2.45" height="13.3" class="d"/><rect x="414.38" width="2.45" height="13.3" class="d"/><rect x="418.45" width="2.45" height="13.3" class="d"/><rect x="422.53" width="2.45" height="13.3" class="d"/><rect x="426.61" width="2.45" height="13.3" class="d"/><rect x="430.68" width="2.45" height="13.3" class="d"/><rect x="434.76" width="2.45" height="13.3" class="d"/><rect x="438.84" width="2.45" height="13.3" class="d"/><rect x="442.91" width="2.45" height="13.3" class="d"/><rect x="446.99" width="2.45" height="13.3" class="d"/><rect x="451.07" width="2.45" height="13.3" class="d"/><rect x="455.14" width="2.45" height="13.3" class="d"/><rect x="459.22" width="2.45" height="13.3" class="d"/><rect x="463.3" width="2.45" height="13.3" class="d"/><rect x="467.38" width="2.45" height="13.3" class="d"/><rect x="471.45" width="2.45" height="13.3" class="d"/><rect x="475.53" width="2.45" height="13.3" class="d"/><rect x="479.61" width="2.45" height="13.3" class="d"/><rect x="483.68" width="2.45" height="13.3" class="d"/><rect x="487.76" width="2.45" height="13.3" class="d"/><rect x="491.84" width="2.45" height="13.3" class="d"/><rect x="495.91" width="2.45" height="13.3" class="d"/><rect x="499.99" width="2.45" height="13.3" class="d"/><rect x="504.07" width="2.45" height="13.3" class="d"/><rect x="508.15" width="2.45" height="13.3" class="d"/><rect x="512.22" width="2.45" height="13.3" class="d"/><rect x="516.3" width="2.45" height="13.3" class="d"/></g>
<text class="g" transform="translate(104.5,445.53) scale(0.95,1)" text-anchor="end">TP53</text>
<g transform="translate(0,451.92)"><rect x="108.6" width="2.45" height="13.3" class="l"/><rect x="112.68" width="2.45" height="13.3" class="l"/><rect x="116.75" width="2.45" height="13.3" class="l"/><rect x="120.83" width="2.45" height="13.3" class="l"/><rect x="124.91" width="2.45" height="13.3" class="l"/><rect x="128.98" width="2.45" height="13.3" class="l"/><rect x="133.06" width="2.45" height="13.3" class="l"/><rect x="137.14" width="2.45" height="13.3" class="r"/><rect x="141.22" width="2.45" height="13.3" class="l"/><rect x="145.29" width="2.45" height="13.3" class="r"/><rect x="149.37" width="2.45" height="13.3" class="l"/><rect x="153.45" width="2.45" height="13.3" class="l"/><rect x="157.52" width="2.45" height="13.3" class="l"/><rect x="161.6" width="2.45" height="13.3" class="l"/><rect x="165.68" width="2.45" height="13.3" class="l"/><rect x="169.75" width="2.45" height="13.3" class="l"/><rect x="173.83" width="2.45" height="13.3" class="r"/><rect x="177.91" width="2.45" height="13.3" class="l"/><rect x="181.99" width="2.45" height="13.3" class="l"/><rect x="186.06" width="2.45" height="13.3" class="l"/><rect x="190.14" width="2.45" height="13.3" class="l"/><rect x="194.22" width="2.45" height="13.3" class="l"/><rect x="198.29" width="2.45" height="13.3" class="l"/><rect x="202.37" width="2.45" height="13.3" class="l"/><rect x="206.45" width="2.45" height="13.3" class="l"/><rect x="210.52" width="2.45" height="13.3" class="l"/><rect x="214.6" width="2.45" height="13.3" class="l"/><rect x="218.68" width="2.45" height="13.3" class="l"/><rect x="222.76" width="2.45" height="13.3" class="l"/><rect x="226.83" width="2.45" height="13.3" class="l"/><rect x="230.91" width="2.45" height="13.3" class="l"/><rect x="234.99" width="2.45" height="13.3" class="l"/><rect x="239.06" width="2.45" height="13.3" class="l"/><rect x="243.14" width="2.45" height="13.3" class="l"/><rect x="247.22" width="2.45" height="13.3" class="l"/><rect x="251.29" width="2.45" height="13.3" class="l"/><rect x="255.37" width="2.45" height="13.3" class="l"/><rect x="259.45" width="2.45" height="13.3" class="l"/><rect x="263.53" width="2.45" height="13.3" class="l"/><rect x="267.6" width="2.45" height="13.3" class="l"/><rect x="271.68" width="2.45" height="13.3" class="l"/><rect x="275.76" width="2.45" height="13.3" class="l"/><rect x="279.83" width="2.45" height="13.3" class="l"/><rect x="283.91" width="2.45" height="13.3" class="l"/><rect x="287.99" width="2.45" height="13.3" class="l"/><rect x="292.06" width="2.45" height="13.3" class="l"/><rect x="296.14" width="2.45" height="13.3" class="l"/><rect x="300.22" width="2.45" height="13.3" class="l"/><rect x="304.3" width="2.45" height="13.3" class="l"/><rect x="308.37" width="2.45" height="13.3" class="l"/><rect x="312.45" width="2.45" height="13.3" class="l"/><rect x="316.53" width="2.45" height="13.3" class="l"/><rect x="320.6" width="2.45" height="13.3" class="l"/><rect x="324.68" width="2.45" height="13.3" class="l"/><rect x="328.76" width="2.45" height="13.3" class="l"/><rect x="332.83" width="2.45" height="13.3" class="l"/><rect x="336.91" width="2.45" height="13.3" class="l"/><rect x="340.99" width="2.45" height="13.3" class="l"/><rect x="345.07" width="2.45" height="13.3" class="l"/><rect x="349.14" width="2.45" height="13.3" class="l"/><rect x="353.22" width="2.45" height="13.3" class="r"/><rect x="357.3" width="2.45" height="13.3" class="l"/><rect x="361.37" width="2.45" height="13.3" class="r"/><rect x="365.45" width="2.45" height="13.3" class="r"/><rect x="369.53" width="2.45" height="13.3" class="l"/><rect x="373.61" width="2.45" height="13.3" class="l"/><rect x="377.68" width="2.45" height="13.3" class="l"/><rect x="381.76" width="2.45" height="13.3" class="r"/><rect x="385.84" width="2.45" height="13.3" class="r"/><rect x="389.91" width="2.45" height="13.3" class="r"/><rect x="393.99" width="2.45" height="13.3" class="l"/><rect x="398.07" width="2.45" height="13.3" class="r"/><rect x="402.14" width="2.45" height="13.3" class="r"/><rect x="406.22" width="2.45" height="13.3" class="r"/><rect x="410.3" width="2.45" height="13.3" class="r"/><rect x="414.38" width="2.45" height="13.3" class="l"/><rect x="418.45" width="2.45" height="13.3" class="l"/><rect x="422.53" width="2.45" height="13.3" class="l"/><rect x="426.61" width="2.45" height="13.3" class="l"/><rect x="430.68" width="2.45" height="13.3" class="l"/><rect x="434.76" width="2.45" height="13.3" class="r"/><rect x="438.84" width="2.45" height="13.3" class="r"/><rect x="442.91" width="2.45" height="13.3" class="r"/><rect x="446.99" width="2.45" height="13.3" class="l"/><rect x="451.07" width="2.45" height="13.3" class="l"/><rect x="455.14" width="2.45" height="13.3" class="l"/><rect x="459.22" width="2.45" height="13.3" class="l"/><rect x="463.3" width="2.45" height="13.3" class="l"/><rect x="467.38" width="2.45" height="13.3" class="l"/><rect x="471.45" width="2.45" height="13.3" class="l"/><rect x="475.53" width="2.45" height="13.3" class="l"/><rect x="479.61" width="2.45" height="13.3" class="l"/><rect x="483.68" width="2.45" height="13.3" class="l"/><rect x="487.76" width="2.45" height="13.3" class="l"/><rect x="491.84" width="2.45" height="13.3" class="l"/><rect x="495.91" width="2.45" height="13.3" class="l"/><rect x="499.99" width="2.45" height="13.3" class="l"/><rect x="504.07" width="2.45" height="13.3" class="l"/><rect x="508.15" width="2.45" height="13.3" class="l"/><rect x="512.22" width="2.45" height="13.3" class="l"/><rect x="516.3" width="2.45" height="13.3" class="l"/></g>
<text class="g" transform="translate(104.5,460.82) scale(0.95,1)" text-anchor="end">NPM1</text>
<g transform="translate(0,467.21)"><rect x="108.6" width="2.45" height="13.3" class="d"/><rect x="112.68" width="2.45" height="13.3" class="d"/><rect x="116.75" width="2.45" height="13.3" class="d"/><rect x="120.83" width="2.45" height="13.3" class="d"/><rect x="124.91" width="2.45" height="13.3" class="d"/><rect x="128.98" width="2.45" height="13.3" class="d"/><rect x="133.06" width="2.45" height="13.3" class="d"/><rect x="137.14" width="2.45" height="13.3" class="d"/><rect x="141.22" width="2.45" height="13.3" class="d"/><rect x="145.29" width="2.45" height="13.3" class="d"/><rect x="149.37" width="2.45" height="13.3" class="d"/><rect x="153.45" width="2.45" height="13.3" class="d"/><rect x="157.52" width="2.45" height="13.3" class="d"/><rect x="161.6" width="2.45" height="13.3" class="d"/><rect x="165.68" width="2.45" height="13.3" class="d"/><rect x="169.75" width="2.45" height="13.3" class="d"/><rect x="173.83" width="2.45" height="13.3" class="d"/><rect x="177.91" width="2.45" height="13.3" class="d"/><rect x="181.99" width="2.45" height="13.3" class="d"/><rect x="186.06" width="2.45" height="13.3" class="d"/><rect x="190.14" width="2.45" height="13.3" class="d"/><rect x="194.22" width="2.45" height="13.3" class="d"/><rect x="198.29" width="2.45" height="13.3" class="d"/><rect x="202.37" width="2.45" height="13.3" class="d"/><rect x="206.45" width="2.45" height="13.3" class="d"/><rect x="210.52" width="2.45" height="13.3" class="d"/><rect x="214.6" width="2.45" height="13.3" class="d"/><rect x="218.68" width="2.45" height="13.3" class="d"/><rect x="222.76" width="2.45" height="13.3" class="d"/><rect x="226.83" width="2.45" height="13.3" class="d"/><rect x="230.91" width="2.45" height="13.3" class="d"/><rect x="234.99" width="2.45" height="13.3" class="d"/><rect x="239.06" width="2.45" height="13.3" class="d"/><rect x="243.14" width="2.45" height="13.3" class="d"/><rect x="247.22" width="2.45" height="13.3" class="d"/><rect x="251.29" width="2.45" height="13.3" class="d"/><rect x="255.37" width="2.45" height="13.3" class="d"/><rect x="259.45" width="2.45" height="13.3" class="d"/><rect x="263.53" width="2.45" height="13.3" class="d"/><rect x="267.6" width="2.45" height="13.3" class="d"/><rect x="271.68" width="2.45" height="13.3" class="d"/><rect x="275.76" width="2.45" height="13.3" class="d"/><rect x="279.83" width="2.45" height="13.3" class="d"/><rect x="283.91" width="2.45" height="13.3" class="d"/><rect x="287.99" width="2.45" height="13.3" class="d"/><rect x="292.06" width="2.45" height="13.3" class="d"/><rect x="296.14" width="2.45" height="13.3" class="d"/><rect x="300.22" width="2.45" height="13.3" class="d"/><rect x="304.3" width="2.45" height="13.3" class="d"/><rect x="308.37" width="2.45" height="13.3" class="d"/><rect x="312.45" width="2.45" height="13.3" class="d"/><rect x="316.53" width="2.45" height="13.3" class="d"/><rect x="320.6" width="2.45" height="13.3" class="r"/><rect x="324.68" width="2.45" height="13.3" class="d"/><rect x="328.76" width="2.45" height="13.3" class="d"/><rect x="332.83" width="2.45" height="13.3" class="d"/><rect x="336.91" width="2.45" height="13.3" class="d"/><rect x="340.99" width="2.45" height="13.3" class="d"/><rect x="345.07" width="2.45" height="13.3" class="d"/><rect x="349.14" width="2.45" height="13.3" class="d"/><rect x="353.22" width="2.45" height="13.3" class="d"/><rect x="357.3" width="2.45" height="13.3" class="d"/><rect x="361.37" width="2.45" height="13.3" class="d"/><rect x="365.45" width="2.45" height="13.3" class="d"/><rect x="369.53" width="2.45" height="13.3" class="d"/><rect x="373.61" width="2.45" height="13.3" class="d"/><rect x="377.68" width="2.45" height="13.3" class="d"/><rect x="381.76" width="2.45" height="13.3" class="d"/><rect x="385.84" width="2.45" height="13.3" class="d"/><rect x="389.91" width="2.45" height="13.3" class="d"/><rect x="393.99" width="2.45" height="13.3" class="d"/><rect x="398.07" width="2.45" height="13.3" class="d"/><rect x="402.14" width="2.45" height="13.3" class="d"/><rect x="406.22" width="2.45" height="13.3" class="d"/><rect x="410.3" width="2.45" height="13.3" class="d"/><rect x="414.38" width="2.45" height="13.3" class="d"/><rect x="418.45" width="2.45" height="13.3" class="d"/><rect x="422.53" width="2.45" height="13.3" class="d"/><rect x="426.61" width="2.45" height="13.3" class="d"/><rect x="430.68" width="2.45" height="13.3" class="d"/><rect x="434.76" width="2.45" height="13.3" class="d"/><rect x="438.84" width="2.45" height="13.3" class="d"/><rect x="442.91" width="2.45" height="13.3" class="d"/><rect x="446.99" width="2.45" height="13.3" class="d"/><rect x="451.07" width="2.45" height="13.3" class="d"/><rect x="455.14" width="2.45" height="13.3" class="d"/><rect x="459.22" width="2.45" height="13.3" class="r"/><rect x="463.3" width="2.45" height="13.3" class="r"/><rect x="467.38" width="2.45" height="13.3" class="r"/><rect x="471.45" width="2.45" height="13.3" class="r"/><rect x="475.53" width="2.45" height="13.3" class="r"/><rect x="479.61" width="2.45" height="13.3" class="r"/><rect x="483.68" width="2.45" height="13.3" class="r"/><rect x="487.76" width="2.45" height="13.3" class="r"/><rect x="491.84" width="2.45" height="13.3" class="r"/><rect x="495.91" width="2.45" height="13.3" class="d"/><rect x="499.99" width="2.45" height="13.3" class="d"/><rect x="504.07" width="2.45" height="13.3" class="d"/><rect x="508.15" width="2.45" height="13.3" class="d"/><rect x="512.22" width="2.45" height="13.3" class="d"/><rect x="516.3" width="2.45" height="13.3" class="d"/></g>
<text class="n" transform="translate(103.9,476.11) scale(0.975,1)" text-anchor="end">11q23 rearrangement</text>
<g transform="translate(0,482.5)"><rect x="108.6" width="2.45" height="13.3" class="d"/><rect x="112.68" width="2.45" height="13.3" class="d"/><rect x="116.75" width="2.45" height="13.3" class="d"/><rect x="120.83" width="2.45" height="13.3" class="d"/><rect x="124.91" width="2.45" height="13.3" class="d"/><rect x="128.98" width="2.45" height="13.3" class="d"/><rect x="133.06" width="2.45" height="13.3" class="d"/><rect x="137.14" width="2.45" height="13.3" class="d"/><rect x="141.22" width="2.45" height="13.3" class="d"/><rect x="145.29" width="2.45" height="13.3" class="d"/><rect x="149.37" width="2.45" height="13.3" class="d"/><rect x="153.45" width="2.45" height="13.3" class="d"/><rect x="157.52" width="2.45" height="13.3" class="d"/><rect x="161.6" width="2.45" height="13.3" class="d"/><rect x="165.68" width="2.45" height="13.3" class="d"/><rect x="169.75" width="2.45" height="13.3" class="d"/><rect x="173.83" width="2.45" height="13.3" class="d"/><rect x="177.91" width="2.45" height="13.3" class="d"/><rect x="181.99" width="2.45" height="13.3" class="d"/><rect x="186.06" width="2.45" height="13.3" class="d"/><rect x="190.14" width="2.45" height="13.3" class="d"/><rect x="194.22" width="2.45" height="13.3" class="d"/><rect x="198.29" width="2.45" height="13.3" class="d"/><rect x="202.37" width="2.45" height="13.3" class="d"/><rect x="206.45" width="2.45" height="13.3" class="d"/><rect x="210.52" width="2.45" height="13.3" class="d"/><rect x="214.6" width="2.45" height="13.3" class="d"/><rect x="218.68" width="2.45" height="13.3" class="d"/><rect x="222.76" width="2.45" height="13.3" class="d"/><rect x="226.83" width="2.45" height="13.3" class="d"/><rect x="230.91" width="2.45" height="13.3" class="d"/><rect x="234.99" width="2.45" height="13.3" class="d"/><rect x="239.06" width="2.45" height="13.3" class="d"/><rect x="243.14" width="2.45" height="13.3" class="d"/><rect x="247.22" width="2.45" height="13.3" class="d"/><rect x="251.29" width="2.45" height="13.3" class="d"/><rect x="255.37" width="2.45" height="13.3" class="d"/><rect x="259.45" width="2.45" height="13.3" class="d"/><rect x="263.53" width="2.45" height="13.3" class="d"/><rect x="267.6" width="2.45" height="13.3" class="d"/><rect x="271.68" width="2.45" height="13.3" class="d"/><rect x="275.76" width="2.45" height="13.3" class="d"/><rect x="279.83" width="2.45" height="13.3" class="d"/><rect x="283.91" width="2.45" height="13.3" class="d"/><rect x="287.99" width="2.45" height="13.3" class="d"/><rect x="292.06" width="2.45" height="13.3" class="d"/><rect x="296.14" width="2.45" height="13.3" class="d"/><rect x="300.22" width="2.45" height="13.3" class="d"/><rect x="304.3" width="2.45" height="13.3" class="d"/><rect x="308.37" width="2.45" height="13.3" class="d"/><rect x="312.45" width="2.45" height="13.3" class="d"/><rect x="316.53" width="2.45" height="13.3" class="d"/><rect x="320.6" width="2.45" height="13.3" class="d"/><rect x="324.68" width="2.45" height="13.3" class="d"/><rect x="328.76" width="2.45" height="13.3" class="d"/><rect x="332.83" width="2.45" height="13.3" class="d"/><rect x="336.91" width="2.45" height="13.3" class="d"/><rect x="340.99" width="2.45" height="13.3" class="d"/><rect x="345.07" width="2.45" height="13.3" class="d"/><rect x="349.14" width="2.45" height="13.3" class="d"/><rect x="353.22" width="2.45" height="13.3" class="d"/><rect x="357.3" width="2.45" height="13.3" class="d"/><rect x="361.37" width="2.45" height="13.3" class="d"/><rect x="365.45" width="2.45" height="13.3" class="d"/><rect x="369.53" width="2.45" height="13.3" class="d"/><rect x="373.61" width="2.45" height="13.3" class="d"/><rect x="377.68" width="2.45" height="13.3" class="d"/><rect x="381.76" width="2.45" height="13.3" class="d"/><rect x="385.84" width="2.45" height="13.3" class="d"/><rect x="389.91" width="2.45" height="13.3" class="d"/><rect x="393.99" width="2.45" height="13.3" class="d"/><rect x="398.07" width="2.45" height="13.3" class="d"/><rect x="402.14" width="2.45" height="13.3" class="d"/><rect x="406.22" width="2.45" height="13.3" class="d"/><rect x="410.3" width="2.45" height="13.3" class="d"/><rect x="414.38" width="2.45" height="13.3" class="d"/><rect x="418.45" width="2.45" height="13.3" class="d"/><rect x="422.53" width="2.45" height="13.3" class="d"/><rect x="426.61" width="2.45" height="13.3" class="d"/><rect x="430.68" width="2.45" height="13.3" class="d"/><rect x="434.76" width="2.45" height="13.3" class="d"/><rect x="438.84" width="2.45" height="13.3" class="d"/><rect x="442.91" width="2.45" height="13.3" class="d"/><rect x="446.99" width="2.45" height="13.3" class="d"/><rect x="451.07" width="2.45" height="13.3" class="d"/><rect x="455.14" width="2.45" height="13.3" class="d"/><rect x="459.22" width="2.45" height="13.3" class="d"/><rect x="463.3" width="2.45" height="13.3" class="d"/><rect x="467.38" width="2.45" height="13.3" class="d"/><rect x="471.45" width="2.45" height="13.3" class="d"/><rect x="475.53" width="2.45" height="13.3" class="d"/><rect x="479.61" width="2.45" height="13.3" class="d"/><rect x="483.68" width="2.45" height="13.3" class="d"/><rect x="487.76" width="2.45" height="13.3" class="d"/><rect x="491.84" width="2.45" height="13.3" class="d"/><rect x="495.91" width="2.45" height="13.3" class="r"/><rect x="499.99" width="2.45" height="13.3" class="r"/><rect x="504.07" width="2.45" height="13.3" class="r"/><rect x="508.15" width="2.45" height="13.3" class="r"/><rect x="512.22" width="2.45" height="13.3" class="r"/><rect x="516.3" width="2.45" height="13.3" class="r"/></g>
<text class="n" transform="translate(103.9,491.4) scale(0.975,1)" text-anchor="end">CBF rearrangement</text>
<g transform="translate(0,497.79)"><rect x="108.6" width="2.45" height="13.3" class="k"/><rect x="112.68" width="2.45" height="13.3" class="d"/><rect x="116.75" width="2.45" height="13.3" class="d"/><rect x="120.83" width="2.45" height="13.3" class="d"/><rect x="124.91" width="2.45" height="13.3" class="d"/><rect x="128.98" width="2.45" height="13.3" class="d"/><rect x="133.06" width="2.45" height="13.3" class="d"/><rect x="137.14" width="2.45" height="13.3" class="k"/><rect x="141.22" width="2.45" height="13.3" class="d"/><rect x="145.29" width="2.45" height="13.3" class="d"/><rect x="149.37" width="2.45" height="13.3" class="k"/><rect x="153.45" width="2.45" height="13.3" class="d"/><rect x="157.52" width="2.45" height="13.3" class="d"/><rect x="161.6" width="2.45" height="13.3" class="d"/><rect x="165.68" width="2.45" height="13.3" class="k"/><rect x="169.75" width="2.45" height="13.3" class="d"/><rect x="173.83" width="2.45" height="13.3" class="k"/><rect x="177.91" width="2.45" height="13.3" class="d"/><rect x="181.99" width="2.45" height="13.3" class="d"/><rect x="186.06" width="2.45" height="13.3" class="d"/><rect x="190.14" width="2.45" height="13.3" class="k"/><rect x="194.22" width="2.45" height="13.3" class="d"/><rect x="198.29" width="2.45" height="13.3" class="d"/><rect x="202.37" width="2.45" height="13.3" class="d"/><rect x="206.45" width="2.45" height="13.3" class="d"/><rect x="210.52" width="2.45" height="13.3" class="d"/><rect x="214.6" width="2.45" height="13.3" class="d"/><rect x="218.68" width="2.45" height="13.3" class="k"/><rect x="222.76" width="2.45" height="13.3" class="d"/><rect x="226.83" width="2.45" height="13.3" class="d"/><rect x="230.91" width="2.45" height="13.3" class="d"/><rect x="234.99" width="2.45" height="13.3" class="d"/><rect x="239.06" width="2.45" height="13.3" class="d"/><rect x="243.14" width="2.45" height="13.3" class="d"/><rect x="247.22" width="2.45" height="13.3" class="d"/><rect x="251.29" width="2.45" height="13.3" class="d"/><rect x="255.37" width="2.45" height="13.3" class="d"/><rect x="259.45" width="2.45" height="13.3" class="d"/><rect x="263.53" width="2.45" height="13.3" class="d"/><rect x="267.6" width="2.45" height="13.3" class="d"/><rect x="271.68" width="2.45" height="13.3" class="d"/><rect x="275.76" width="2.45" height="13.3" class="k"/><rect x="279.83" width="2.45" height="13.3" class="d"/><rect x="283.91" width="2.45" height="13.3" class="d"/><rect x="287.99" width="2.45" height="13.3" class="d"/><rect x="292.06" width="2.45" height="13.3" class="d"/><rect x="296.14" width="2.45" height="13.3" class="d"/><rect x="300.22" width="2.45" height="13.3" class="k"/><rect x="304.3" width="2.45" height="13.3" class="d"/><rect x="308.37" width="2.45" height="13.3" class="d"/><rect x="312.45" width="2.45" height="13.3" class="d"/><rect x="316.53" width="2.45" height="13.3" class="d"/><rect x="320.6" width="2.45" height="13.3" class="d"/><rect x="324.68" width="2.45" height="13.3" class="k"/><rect x="328.76" width="2.45" height="13.3" class="d"/><rect x="332.83" width="2.45" height="13.3" class="d"/><rect x="336.91" width="2.45" height="13.3" class="d"/><rect x="340.99" width="2.45" height="13.3" class="d"/><rect x="345.07" width="2.45" height="13.3" class="d"/><rect x="349.14" width="2.45" height="13.3" class="d"/><rect x="353.22" width="2.45" height="13.3" class="k"/><rect x="357.3" width="2.45" height="13.3" class="k"/><rect x="361.37" width="2.45" height="13.3" class="k"/><rect x="365.45" width="2.45" height="13.3" class="k"/><rect x="369.53" width="2.45" height="13.3" class="d"/><rect x="373.61" width="2.45" height="13.3" class="d"/><rect x="377.68" width="2.45" height="13.3" class="d"/><rect x="381.76" width="2.45" height="13.3" class="d"/><rect x="385.84" width="2.45" height="13.3" class="d"/><rect x="389.91" width="2.45" height="13.3" class="d"/><rect x="393.99" width="2.45" height="13.3" class="d"/><rect x="398.07" width="2.45" height="13.3" class="d"/><rect x="402.14" width="2.45" height="13.3" class="k"/><rect x="406.22" width="2.45" height="13.3" class="k"/><rect x="410.3" width="2.45" height="13.3" class="k"/><rect x="414.38" width="2.45" height="13.3" class="d"/><rect x="418.45" width="2.45" height="13.3" class="d"/><rect x="422.53" width="2.45" height="13.3" class="d"/><rect x="426.61" width="2.45" height="13.3" class="k"/><rect x="430.68" width="2.45" height="13.3" class="d"/><rect x="434.76" width="2.45" height="13.3" class="k"/><rect x="438.84" width="2.45" height="13.3" class="k"/><rect x="442.91" width="2.45" height="13.3" class="d"/><rect x="446.99" width="2.45" height="13.3" class="d"/><rect x="451.07" width="2.45" height="13.3" class="d"/><rect x="455.14" width="2.45" height="13.3" class="d"/><rect x="459.22" width="2.45" height="13.3" class="d"/><rect x="463.3" width="2.45" height="13.3" class="d"/><rect x="467.38" width="2.45" height="13.3" class="d"/><rect x="471.45" width="2.45" height="13.3" class="d"/><rect x="475.53" width="2.45" height="13.3" class="d"/><rect x="479.61" width="2.45" height="13.3" class="d"/><rect x="483.68" width="2.45" height="13.3" class="d"/><rect x="487.76" width="2.45" height="13.3" class="d"/><rect x="491.84" width="2.45" height="13.3" class="d"/><rect x="495.91" width="2.45" height="13.3" class="d"/><rect x="499.99" width="2.45" height="13.3" class="d"/><rect x="504.07" width="2.45" height="13.3" class="d"/><rect x="508.15" width="2.45" height="13.3" class="d"/><rect x="512.22" width="2.45" height="13.3" class="d"/><rect x="516.3" width="2.45" height="13.3" class="d"/></g>
<text class="n" transform="translate(103.9,506.69) scale(0.975,1)" text-anchor="end">Normal</text>
<g transform="translate(0,513.08)"><rect x="108.6" width="2.45" height="13.3" class="d"/><rect x="112.68" width="2.45" height="13.3" class="d"/><rect x="116.75" width="2.45" height="13.3" class="d"/><rect x="120.83" width="2.45" height="13.3" class="d"/><rect x="124.91" width="2.45" height="13.3" class="d"/><rect x="128.98" width="2.45" height="13.3" class="d"/><rect x="133.06" width="2.45" height="13.3" class="k"/><rect x="137.14" width="2.45" height="13.3" class="d"/><rect x="141.22" width="2.45" height="13.3" class="d"/><rect x="145.29" width="2.45" height="13.3" class="k"/><rect x="149.37" width="2.45" height="13.3" class="d"/><rect x="153.45" width="2.45" height="13.3" class="d"/><rect x="157.52" width="2.45" height="13.3" class="d"/><rect x="161.6" width="2.45" height="13.3" class="d"/><rect x="165.68" width="2.45" height="13.3" class="d"/><rect x="169.75" width="2.45" height="13.3" class="d"/><rect x="173.83" width="2.45" height="13.3" class="d"/><rect x="177.91" width="2.45" height="13.3" class="d"/><rect x="181.99" width="2.45" height="13.3" class="d"/><rect x="186.06" width="2.45" height="13.3" class="k"/><rect x="190.14" width="2.45" height="13.3" class="d"/><rect x="194.22" width="2.45" height="13.3" class="d"/><rect x="198.29" width="2.45" height="13.3" class="d"/><rect x="202.37" width="2.45" height="13.3" class="d"/><rect x="206.45" width="2.45" height="13.3" class="d"/><rect x="210.52" width="2.45" height="13.3" class="d"/><rect x="214.6" width="2.45" height="13.3" class="d"/><rect x="218.68" width="2.45" height="13.3" class="d"/><rect x="222.76" width="2.45" height="13.3" class="d"/><rect x="226.83" width="2.45" height="13.3" class="d"/><rect x="230.91" width="2.45" height="13.3" class="k"/><rect x="234.99" width="2.45" height="13.3" class="k"/><rect x="239.06" width="2.45" height="13.3" class="k"/><rect x="243.14" width="2.45" height="13.3" class="k"/><rect x="247.22" width="2.45" height="13.3" class="k"/><rect x="251.29" width="2.45" height="13.3" class="k"/><rect x="255.37" width="2.45" height="13.3" class="k"/><rect x="259.45" width="2.45" height="13.3" class="k"/><rect x="263.53" width="2.45" height="13.3" class="k"/><rect x="267.6" width="2.45" height="13.3" class="d"/><rect x="271.68" width="2.45" height="13.3" class="k"/><rect x="275.76" width="2.45" height="13.3" class="d"/><rect x="279.83" width="2.45" height="13.3" class="k"/><rect x="283.91" width="2.45" height="13.3" class="k"/><rect x="287.99" width="2.45" height="13.3" class="k"/><rect x="292.06" width="2.45" height="13.3" class="k"/><rect x="296.14" width="2.45" height="13.3" class="k"/><rect x="300.22" width="2.45" height="13.3" class="d"/><rect x="304.3" width="2.45" height="13.3" class="k"/><rect x="308.37" width="2.45" height="13.3" class="k"/><rect x="312.45" width="2.45" height="13.3" class="k"/><rect x="316.53" width="2.45" height="13.3" class="d"/><rect x="320.6" width="2.45" height="13.3" class="d"/><rect x="324.68" width="2.45" height="13.3" class="d"/><rect x="328.76" width="2.45" height="13.3" class="d"/><rect x="332.83" width="2.45" height="13.3" class="d"/><rect x="336.91" width="2.45" height="13.3" class="d"/><rect x="340.99" width="2.45" height="13.3" class="d"/><rect x="345.07" width="2.45" height="13.3" class="d"/><rect x="349.14" width="2.45" height="13.3" class="d"/><rect x="353.22" width="2.45" height="13.3" class="d"/><rect x="357.3" width="2.45" height="13.3" class="d"/><rect x="361.37" width="2.45" height="13.3" class="d"/><rect x="365.45" width="2.45" height="13.3" class="d"/><rect x="369.53" width="2.45" height="13.3" class="d"/><rect x="373.61" width="2.45" height="13.3" class="k"/><rect x="377.68" width="2.45" height="13.3" class="d"/><rect x="381.76" width="2.45" height="13.3" class="d"/><rect x="385.84" width="2.45" height="13.3" class="d"/><rect x="389.91" width="2.45" height="13.3" class="d"/><rect x="393.99" width="2.45" height="13.3" class="d"/><rect x="398.07" width="2.45" height="13.3" class="d"/><rect x="402.14" width="2.45" height="13.3" class="d"/><rect x="406.22" width="2.45" height="13.3" class="d"/><rect x="410.3" width="2.45" height="13.3" class="d"/><rect x="414.38" width="2.45" height="13.3" class="d"/><rect x="418.45" width="2.45" height="13.3" class="k"/><rect x="422.53" width="2.45" height="13.3" class="k"/><rect x="426.61" width="2.45" height="13.3" class="d"/><rect x="430.68" width="2.45" height="13.3" class="d"/><rect x="434.76" width="2.45" height="13.3" class="d"/><rect x="438.84" width="2.45" height="13.3" class="d"/><rect x="442.91" width="2.45" height="13.3" class="d"/><rect x="446.99" width="2.45" height="13.3" class="k"/><rect x="451.07" width="2.45" height="13.3" class="k"/><rect x="455.14" width="2.45" height="13.3" class="d"/><rect x="459.22" width="2.45" height="13.3" class="d"/><rect x="463.3" width="2.45" height="13.3" class="d"/><rect x="467.38" width="2.45" height="13.3" class="d"/><rect x="471.45" width="2.45" height="13.3" class="d"/><rect x="475.53" width="2.45" height="13.3" class="d"/><rect x="479.61" width="2.45" height="13.3" class="d"/><rect x="483.68" width="2.45" height="13.3" class="d"/><rect x="487.76" width="2.45" height="13.3" class="d"/><rect x="491.84" width="2.45" height="13.3" class="d"/><rect x="495.91" width="2.45" height="13.3" class="d"/><rect x="499.99" width="2.45" height="13.3" class="d"/><rect x="504.07" width="2.45" height="13.3" class="d"/><rect x="508.15" width="2.45" height="13.3" class="d"/><rect x="512.22" width="2.45" height="13.3" class="d"/><rect x="516.3" width="2.45" height="13.3" class="d"/></g>
<text class="n" transform="translate(103.9,521.98) scale(0.975,1)" text-anchor="end">Complex</text>
<text class="grp" style="font-size:9.2px" text-anchor="middle" transform="translate(12.5,52.7) rotate(-90)">Spliceosome</text>
<text class="grp" style="font-size:8.5px" text-anchor="middle" transform="translate(12.6,106.3) rotate(-90)">Chromatin</text>
<text class="grp" style="font-size:8.5px" text-anchor="middle" transform="translate(22.9,106.5) rotate(-90)">Modifier</text>
<text class="grp" style="font-size:9.2px" text-anchor="middle" transform="translate(12.5,163.4) rotate(-90)">Cohesin</text>
<text class="grp" style="font-size:9.2px" text-anchor="middle" transform="translate(12.6,216.3) rotate(-90)">Myeloid</text>
<text class="grp" style="font-size:9.2px" text-anchor="middle" transform="translate(23.8,215.4) rotate(-90)">TFs</text>
<text class="grp" style="font-size:9.33px" text-anchor="middle" transform="translate(12.4,291.6) rotate(-90)">Activated Signaling</text>
<text class="grp" style="font-size:8.1px" text-anchor="middle" transform="translate(12.2,365.6) rotate(-90)">DNA</text>
<text class="grp" style="font-size:8px" text-anchor="middle" transform="translate(22.2,365.4) rotate(-90)">Methylation</text>
</svg>
</body></html>
